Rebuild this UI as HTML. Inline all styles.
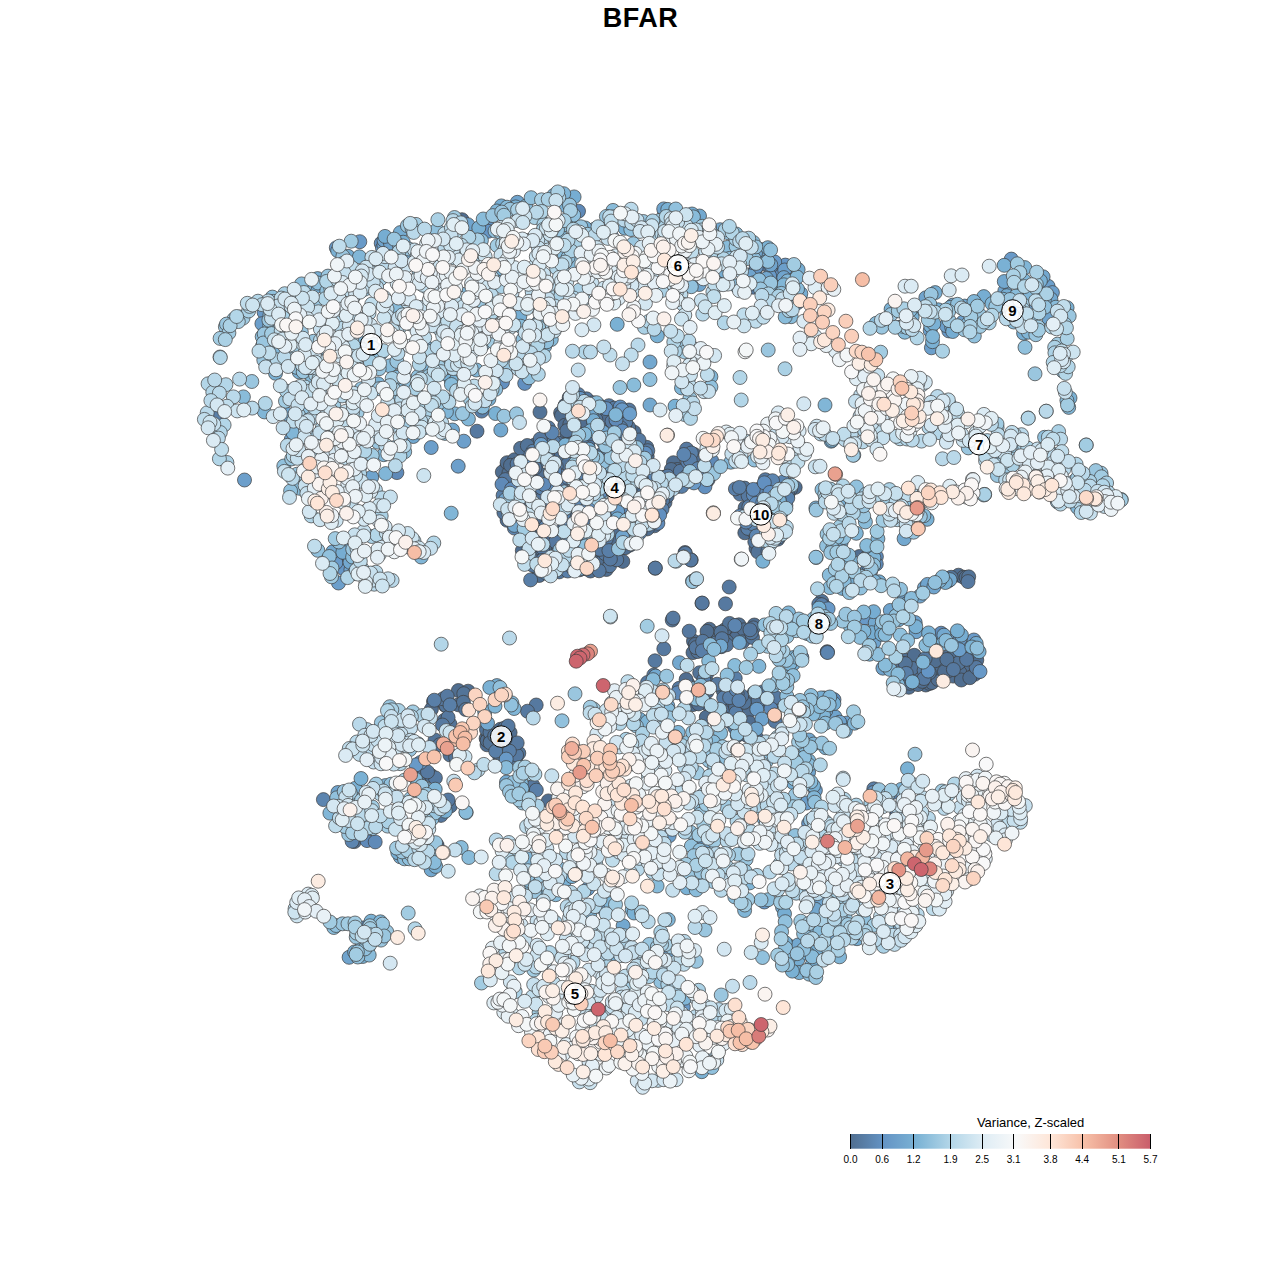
<!DOCTYPE html>
<html><head><meta charset="utf-8"><title>BFAR</title>
<style>
html,body{margin:0;padding:0;background:#fff}
body{width:1280px;height:1280px;overflow:hidden;font-family:"Liberation Sans",Arial,sans-serif}
svg{display:block}
text{font-family:"Liberation Sans",Arial,sans-serif;fill:#000}
</style></head><body>
<svg width="1280" height="1280" viewBox="0 0 1280 1280">
<defs><linearGradient id="lg" x1="0" x2="1" y1="0" y2="0"><stop offset="0.0000" stop-color="#506e90"/><stop offset="0.1111" stop-color="#6494c5"/><stop offset="0.2222" stop-color="#7bb3d5"/><stop offset="0.3333" stop-color="#b3d6e8"/><stop offset="0.4444" stop-color="#dfedf5"/><stop offset="0.5556" stop-color="#f9f9f9"/><stop offset="0.6667" stop-color="#fee6d8"/><stop offset="0.7778" stop-color="#f7c0a8"/><stop offset="0.8889" stop-color="#e29082"/><stop offset="1.0000" stop-color="#c95d6b"/></linearGradient></defs>
<rect width="1280" height="1280" fill="#fff"/>
<text x="640.5" y="26.7" text-anchor="middle" font-family="Liberation Sans, Arial, sans-serif" font-size="27" font-weight="bold" letter-spacing=".55">BFAR</text>
<g id="pts" stroke="#3c3c3c" stroke-width=".7"><g fill="#506e90"><circle cx="462.0" cy="219.7" r="7"/><circle cx="604.3" cy="461.5" r="7"/><circle cx="536.1" cy="558.1" r="7"/><circle cx="509.5" cy="757.2" r="7"/><circle cx="506.9" cy="466.4" r="7"/><circle cx="631.6" cy="458.8" r="7"/><circle cx="566.5" cy="554.9" r="7"/><circle cx="499.2" cy="751.4" r="7"/><circle cx="639.2" cy="508.7" r="7"/><circle cx="519.5" cy="499.5" r="7"/><circle cx="756.4" cy="737.5" r="7"/><circle cx="586.6" cy="438.3" r="7"/><circle cx="904.5" cy="659.8" r="7"/><circle cx="744.8" cy="638.9" r="7"/><circle cx="747.1" cy="735.6" r="7"/><circle cx="579.5" cy="490.8" r="7"/><circle cx="756.6" cy="706.6" r="7"/><circle cx="587.9" cy="445.3" r="7"/><circle cx="535.9" cy="566.9" r="7"/><circle cx="581.7" cy="425.0" r="7"/><circle cx="630.2" cy="442.5" r="7"/><circle cx="486.1" cy="738.4" r="7"/><circle cx="626.8" cy="501.2" r="7"/><circle cx="973.8" cy="666.6" r="7"/><circle cx="591.9" cy="454.6" r="7"/><circle cx="603.4" cy="492.6" r="7"/><circle cx="560.6" cy="412.9" r="7"/><circle cx="937.4" cy="659.9" r="7"/><circle cx="648.9" cy="485.5" r="7"/><circle cx="953.1" cy="676.1" r="7"/><circle cx="646.0" cy="511.4" r="7"/><circle cx="634.7" cy="455.2" r="7"/><circle cx="627.9" cy="468.9" r="7"/><circle cx="598.9" cy="456.5" r="7"/><circle cx="583.6" cy="562.3" r="7"/><circle cx="529.0" cy="498.6" r="7"/><circle cx="530.2" cy="504.9" r="7"/><circle cx="925.8" cy="685.0" r="7"/><circle cx="596.0" cy="499.4" r="7"/><circle cx="925.2" cy="666.4" r="7"/><circle cx="595.2" cy="468.1" r="7"/><circle cx="574.5" cy="424.0" r="7"/><circle cx="513.5" cy="748.6" r="7"/><circle cx="579.7" cy="460.6" r="7"/><circle cx="914.1" cy="659.7" r="7"/><circle cx="723.3" cy="691.1" r="7"/><circle cx="727.6" cy="632.8" r="7"/><circle cx="676.6" cy="478.6" r="7"/><circle cx="527.1" cy="494.2" r="7"/><circle cx="566.2" cy="560.6" r="7"/><circle cx="621.0" cy="502.6" r="7"/><circle cx="647.2" cy="482.7" r="7"/><circle cx="688.0" cy="683.8" r="7"/><circle cx="935.3" cy="672.9" r="7"/><circle cx="947.8" cy="671.1" r="7"/><circle cx="936.8" cy="676.2" r="7"/><circle cx="487.0" cy="744.8" r="7"/><circle cx="699.4" cy="479.4" r="7"/><circle cx="515.2" cy="477.1" r="7"/><circle cx="610.7" cy="504.4" r="7"/><circle cx="619.4" cy="548.9" r="7"/><circle cx="571.6" cy="441.2" r="7"/><circle cx="579.0" cy="406.2" r="7"/><circle cx="522.3" cy="550.7" r="7"/><circle cx="538.9" cy="473.3" r="7"/><circle cx="588.8" cy="420.3" r="7"/><circle cx="693.0" cy="704.6" r="7"/><circle cx="548.3" cy="800.9" r="7"/><circle cx="584.3" cy="497.3" r="7"/><circle cx="594.6" cy="553.5" r="7"/><circle cx="743.2" cy="711.8" r="7"/><circle cx="529.6" cy="488.1" r="7"/><circle cx="502.3" cy="472.0" r="7"/><circle cx="560.1" cy="507.4" r="7"/><circle cx="547.7" cy="432.5" r="7"/><circle cx="908.8" cy="687.3" r="7"/><circle cx="609.9" cy="432.8" r="7"/><circle cx="968.1" cy="669.1" r="7"/><circle cx="929.6" cy="683.5" r="7"/><circle cx="744.3" cy="491.6" r="7"/><circle cx="584.3" cy="461.1" r="7"/><circle cx="965.0" cy="676.0" r="7"/><circle cx="603.6" cy="433.7" r="7"/><circle cx="507.1" cy="462.7" r="7"/><circle cx="606.4" cy="455.1" r="7"/><circle cx="527.5" cy="481.8" r="7"/><circle cx="636.8" cy="526.1" r="7"/><circle cx="627.9" cy="485.5" r="7"/><circle cx="716.8" cy="722.2" r="7"/><circle cx="979.0" cy="671.5" r="7"/><circle cx="540.9" cy="530.3" r="7"/><circle cx="511.7" cy="753.8" r="7"/><circle cx="956.0" cy="669.3" r="7"/><circle cx="754.2" cy="517.6" r="7"/><circle cx="623.9" cy="468.8" r="7"/><circle cx="737.3" cy="735.4" r="7"/><circle cx="708.3" cy="634.7" r="7"/><circle cx="514.5" cy="459.7" r="7"/><circle cx="707.2" cy="704.1" r="7"/><circle cx="565.5" cy="520.6" r="7"/><circle cx="654.4" cy="485.2" r="7"/><circle cx="651.2" cy="483.6" r="7"/><circle cx="962.4" cy="677.6" r="7"/><circle cx="686.1" cy="679.5" r="7"/><circle cx="927.0" cy="668.5" r="7"/><circle cx="728.2" cy="628.2" r="7"/><circle cx="527.8" cy="502.9" r="7"/><circle cx="555.2" cy="561.4" r="7"/><circle cx="730.3" cy="688.7" r="7"/><circle cx="640.8" cy="526.3" r="7"/><circle cx="631.6" cy="470.0" r="7"/><circle cx="528.4" cy="467.4" r="7"/><circle cx="570.8" cy="446.7" r="7"/><circle cx="923.0" cy="660.7" r="7"/><circle cx="795.2" cy="487.4" r="7"/><circle cx="746.7" cy="636.6" r="7"/><circle cx="552.2" cy="523.7" r="7"/><circle cx="634.2" cy="513.9" r="7"/><circle cx="544.6" cy="447.4" r="7"/><circle cx="694.2" cy="454.4" r="7"/><circle cx="932.9" cy="677.1" r="7"/><circle cx="620.9" cy="443.5" r="7"/><circle cx="773.7" cy="529.2" r="7"/><circle cx="511.8" cy="520.7" r="7"/><circle cx="561.5" cy="415.6" r="7"/><circle cx="520.7" cy="503.5" r="7"/><circle cx="693.5" cy="641.2" r="7"/><circle cx="508.9" cy="473.0" r="7"/><circle cx="597.5" cy="523.4" r="7"/><circle cx="654.5" cy="525.8" r="7"/><circle cx="598.6" cy="538.7" r="7"/><circle cx="709.0" cy="637.5" r="7"/><circle cx="738.9" cy="624.8" r="7"/><circle cx="629.7" cy="545.2" r="7"/><circle cx="709.3" cy="629.2" r="7"/><circle cx="706.9" cy="691.9" r="7"/><circle cx="939.9" cy="661.8" r="7"/><circle cx="628.9" cy="523.0" r="7"/><circle cx="586.9" cy="416.7" r="7"/><circle cx="551.1" cy="543.7" r="7"/><circle cx="648.9" cy="494.6" r="7"/><circle cx="488.0" cy="734.0" r="7"/><circle cx="565.1" cy="405.3" r="7"/><circle cx="616.5" cy="530.1" r="7"/><circle cx="593.0" cy="527.7" r="7"/><circle cx="569.2" cy="513.9" r="7"/><circle cx="575.5" cy="441.0" r="7"/><circle cx="651.7" cy="474.4" r="7"/><circle cx="932.0" cy="682.6" r="7"/><circle cx="909.2" cy="669.4" r="7"/><circle cx="553.2" cy="451.3" r="7"/><circle cx="759.2" cy="545.6" r="7"/><circle cx="593.2" cy="464.3" r="7"/><circle cx="730.2" cy="708.1" r="7"/><circle cx="644.5" cy="483.9" r="7"/><circle cx="659.0" cy="487.8" r="7"/><circle cx="937.9" cy="679.4" r="7"/><circle cx="782.4" cy="532.7" r="7"/><circle cx="610.7" cy="435.6" r="7"/><circle cx="499.6" cy="756.1" r="7"/><circle cx="917.0" cy="669.0" r="7"/><circle cx="706.3" cy="717.2" r="7"/><circle cx="744.8" cy="532.8" r="7"/><circle cx="587.9" cy="533.1" r="7"/><circle cx="738.8" cy="630.1" r="7"/><circle cx="665.0" cy="502.6" r="7"/><circle cx="534.8" cy="445.0" r="7"/><circle cx="693.0" cy="652.6" r="7"/><circle cx="606.4" cy="569.5" r="7"/><circle cx="545.4" cy="558.3" r="7"/><circle cx="543.9" cy="536.8" r="7"/><circle cx="976.8" cy="660.1" r="7"/><circle cx="733.7" cy="636.3" r="7"/><circle cx="747.1" cy="713.7" r="7"/><circle cx="582.3" cy="552.5" r="7"/><circle cx="550.5" cy="457.9" r="7"/><circle cx="606.3" cy="414.9" r="7"/><circle cx="745.1" cy="507.8" r="7"/><circle cx="690.4" cy="469.9" r="7"/><circle cx="963.8" cy="665.2" r="7"/><circle cx="570.6" cy="437.6" r="7"/><circle cx="525.7" cy="461.6" r="7"/><circle cx="603.4" cy="484.6" r="7"/><circle cx="652.6" cy="496.2" r="7"/><circle cx="625.3" cy="547.7" r="7"/><circle cx="859.4" cy="556.5" r="7"/><circle cx="735.6" cy="628.3" r="7"/><circle cx="660.4" cy="477.4" r="7"/><circle cx="955.7" cy="659.8" r="7"/><circle cx="608.9" cy="519.2" r="7"/><circle cx="539.2" cy="575.5" r="7"/><circle cx="598.3" cy="436.0" r="7"/><circle cx="578.8" cy="417.6" r="7"/><circle cx="637.1" cy="484.0" r="7"/><circle cx="686.3" cy="698.8" r="7"/><circle cx="608.0" cy="423.5" r="7"/><circle cx="604.0" cy="420.2" r="7"/><circle cx="753.9" cy="693.1" r="7"/><circle cx="577.0" cy="432.9" r="7"/><circle cx="964.8" cy="671.1" r="7"/><circle cx="583.6" cy="527.1" r="7"/><circle cx="542.2" cy="511.9" r="7"/><circle cx="756.0" cy="548.5" r="7"/><circle cx="914.3" cy="655.3" r="7"/><circle cx="549.5" cy="534.4" r="7"/><circle cx="695.4" cy="644.4" r="7"/><circle cx="952.6" cy="667.0" r="7"/><circle cx="607.9" cy="543.8" r="7"/><circle cx="644.5" cy="519.3" r="7"/><circle cx="699.8" cy="461.3" r="7"/><circle cx="784.9" cy="490.3" r="7"/><circle cx="512.5" cy="484.9" r="7"/><circle cx="551.3" cy="439.0" r="7"/><circle cx="590.4" cy="571.0" r="7"/><circle cx="657.4" cy="480.6" r="7"/><circle cx="551.4" cy="445.9" r="7"/><circle cx="615.6" cy="465.6" r="7"/><circle cx="580.9" cy="507.6" r="7"/><circle cx="790.5" cy="489.3" r="7"/><circle cx="508.8" cy="486.3" r="7"/><circle cx="698.6" cy="703.9" r="7"/><circle cx="636.7" cy="505.8" r="7"/><circle cx="615.3" cy="423.9" r="7"/><circle cx="606.5" cy="433.0" r="7"/><circle cx="706.8" cy="673.5" r="7"/><circle cx="604.9" cy="430.5" r="7"/><circle cx="667.2" cy="496.1" r="7"/><circle cx="542.6" cy="520.8" r="7"/><circle cx="561.3" cy="453.8" r="7"/><circle cx="487.1" cy="740.5" r="7"/><circle cx="787.4" cy="487.3" r="7"/><circle cx="613.9" cy="543.0" r="7"/><circle cx="525.6" cy="529.5" r="7"/><circle cx="749.5" cy="722.7" r="7"/><circle cx="558.4" cy="549.6" r="7"/><circle cx="647.2" cy="456.4" r="7"/><circle cx="760.5" cy="549.8" r="7"/><circle cx="526.3" cy="465.0" r="7"/><circle cx="730.6" cy="639.5" r="7"/><circle cx="673.4" cy="462.7" r="7"/><circle cx="732.8" cy="701.7" r="7"/><circle cx="645.5" cy="488.1" r="7"/><circle cx="622.8" cy="561.4" r="7"/><circle cx="511.2" cy="492.5" r="7"/><circle cx="948.1" cy="656.7" r="7"/><circle cx="633.6" cy="488.3" r="7"/><circle cx="960.0" cy="672.7" r="7"/><circle cx="724.4" cy="630.1" r="7"/><circle cx="692.7" cy="480.3" r="7"/><circle cx="510.5" cy="465.3" r="7"/><circle cx="615.1" cy="500.8" r="7"/><circle cx="591.3" cy="414.0" r="7"/><circle cx="538.3" cy="508.9" r="7"/><circle cx="586.1" cy="457.6" r="7"/><circle cx="928.9" cy="660.5" r="7"/><circle cx="579.5" cy="551.0" r="7"/><circle cx="562.2" cy="443.6" r="7"/><circle cx="593.0" cy="429.1" r="7"/><circle cx="602.0" cy="454.1" r="7"/><circle cx="759.0" cy="696.2" r="7"/><circle cx="763.0" cy="703.0" r="7"/><circle cx="564.8" cy="425.3" r="7"/><circle cx="593.8" cy="486.1" r="7"/><circle cx="735.5" cy="707.0" r="7"/><circle cx="501.5" cy="748.3" r="7"/><circle cx="635.9" cy="477.7" r="7"/><circle cx="918.0" cy="684.6" r="7"/><circle cx="500.9" cy="759.1" r="7"/><circle cx="531.2" cy="493.9" r="7"/><circle cx="943.3" cy="662.8" r="7"/><circle cx="566.7" cy="434.3" r="7"/><circle cx="572.3" cy="427.5" r="7"/><circle cx="527.9" cy="543.5" r="7"/><circle cx="653.7" cy="519.9" r="7"/><circle cx="633.2" cy="525.3" r="7"/><circle cx="507.7" cy="737.3" r="7"/><circle cx="708.1" cy="479.7" r="7"/><circle cx="722.2" cy="717.0" r="7"/><circle cx="754.3" cy="625.0" r="7"/><circle cx="584.8" cy="523.6" r="7"/><circle cx="578.3" cy="558.3" r="7"/><circle cx="633.6" cy="504.0" r="7"/><circle cx="590.9" cy="438.0" r="7"/><circle cx="781.5" cy="512.1" r="7"/><circle cx="961.3" cy="680.0" r="7"/><circle cx="633.4" cy="472.4" r="7"/><circle cx="717.7" cy="633.4" r="7"/><circle cx="602.6" cy="561.1" r="7"/><circle cx="621.1" cy="433.5" r="7"/><circle cx="548.7" cy="516.8" r="7"/><circle cx="565.5" cy="459.9" r="7"/><circle cx="573.6" cy="516.3" r="7"/><circle cx="677.1" cy="486.6" r="7"/><circle cx="574.3" cy="445.9" r="7"/><circle cx="904.6" cy="668.8" r="7"/><circle cx="637.6" cy="522.0" r="7"/><circle cx="507.1" cy="520.3" r="7"/><circle cx="623.6" cy="515.8" r="7"/><circle cx="637.2" cy="447.9" r="7"/><circle cx="707.2" cy="459.5" r="7"/><circle cx="961.5" cy="654.0" r="7"/><circle cx="506.3" cy="756.0" r="7"/><circle cx="929.2" cy="667.1" r="7"/><circle cx="736.5" cy="637.4" r="7"/><circle cx="922.3" cy="681.4" r="7"/><circle cx="721.0" cy="641.3" r="7"/><circle cx="594.3" cy="471.7" r="7"/><circle cx="687.1" cy="455.6" r="7"/><circle cx="541.6" cy="526.9" r="7"/><circle cx="520.8" cy="466.9" r="7"/><circle cx="534.5" cy="515.1" r="7"/><circle cx="744.1" cy="629.8" r="7"/><circle cx="974.7" cy="674.3" r="7"/><circle cx="526.5" cy="516.3" r="7"/><circle cx="569.8" cy="424.3" r="7"/><circle cx="576.1" cy="563.1" r="7"/><circle cx="866.1" cy="580.4" r="7"/><circle cx="636.7" cy="490.3" r="7"/><circle cx="574.3" cy="509.6" r="7"/><circle cx="933.2" cy="668.8" r="7"/><circle cx="677.3" cy="469.5" r="7"/><circle cx="969.8" cy="677.7" r="7"/><circle cx="742.6" cy="728.5" r="7"/><circle cx="643.2" cy="493.8" r="7"/><circle cx="944.5" cy="671.5" r="7"/><circle cx="629.6" cy="508.5" r="7"/><circle cx="955.9" cy="663.8" r="7"/><circle cx="918.5" cy="674.5" r="7"/><circle cx="632.6" cy="533.2" r="7"/><circle cx="707.0" cy="631.4" r="7"/><circle cx="586.3" cy="422.5" r="7"/><circle cx="777.4" cy="497.5" r="7"/><circle cx="671.3" cy="469.5" r="7"/><circle cx="774.2" cy="499.4" r="7"/><circle cx="615.4" cy="453.5" r="7"/><circle cx="626.9" cy="449.4" r="7"/><circle cx="523.9" cy="494.1" r="7"/><circle cx="515.5" cy="518.8" r="7"/><circle cx="647.4" cy="528.9" r="7"/><circle cx="909.8" cy="683.3" r="7"/><circle cx="634.1" cy="432.2" r="7"/><circle cx="510.1" cy="732.6" r="7"/><circle cx="543.0" cy="441.4" r="7"/><circle cx="535.5" cy="518.0" r="7"/><circle cx="523.0" cy="490.3" r="7"/><circle cx="498.7" cy="745.6" r="7"/><circle cx="515.6" cy="513.7" r="7"/><circle cx="742.6" cy="641.8" r="7"/><circle cx="500.5" cy="729.2" r="7"/><circle cx="497.1" cy="748.3" r="7"/><circle cx="935.0" cy="660.8" r="7"/><circle cx="631.3" cy="497.8" r="7"/><circle cx="614.9" cy="550.9" r="7"/><circle cx="954.5" cy="654.4" r="7"/><circle cx="640.7" cy="506.4" r="7"/><circle cx="433.5" cy="701.6" r="7"/><circle cx="458.4" cy="690.5" r="7"/><circle cx="468.1" cy="691.2" r="7"/><circle cx="431.4" cy="709.3" r="7"/><circle cx="458.4" cy="704.8" r="7"/><circle cx="947.8" cy="581.2" r="7"/><circle cx="958.5" cy="575.2" r="7"/><circle cx="963.5" cy="577.2" r="7"/><circle cx="966.1" cy="577.4" r="7"/><circle cx="354.4" cy="841.6" r="7"/><circle cx="424.4" cy="849.7" r="7"/><circle cx="437.1" cy="845.2" r="7"/></g><g fill="#537498"><circle cx="776.6" cy="282.8" r="7"/><circle cx="762.5" cy="263.9" r="7"/><circle cx="540.0" cy="412.0" r="7"/><circle cx="537.4" cy="491.1" r="7"/><circle cx="490.8" cy="739.9" r="7"/><circle cx="486.5" cy="729.5" r="7"/><circle cx="781.7" cy="523.7" r="7"/><circle cx="912.0" cy="668.3" r="7"/><circle cx="533.9" cy="549.0" r="7"/><circle cx="537.0" cy="462.9" r="7"/><circle cx="704.0" cy="465.7" r="7"/><circle cx="559.2" cy="571.9" r="7"/><circle cx="534.5" cy="490.4" r="7"/><circle cx="578.5" cy="481.3" r="7"/><circle cx="757.9" cy="701.1" r="7"/><circle cx="712.4" cy="471.8" r="7"/><circle cx="679.1" cy="477.9" r="7"/><circle cx="781.9" cy="502.3" r="7"/><circle cx="586.8" cy="453.5" r="7"/><circle cx="900.5" cy="673.8" r="7"/><circle cx="517.8" cy="506.9" r="7"/><circle cx="777.8" cy="539.2" r="7"/><circle cx="527.4" cy="558.5" r="7"/><circle cx="787.8" cy="494.9" r="7"/><circle cx="621.9" cy="478.6" r="7"/><circle cx="697.8" cy="651.5" r="7"/><circle cx="870.5" cy="571.7" r="7"/><circle cx="550.6" cy="563.9" r="7"/><circle cx="561.4" cy="494.6" r="7"/><circle cx="504.7" cy="728.0" r="7"/><circle cx="533.1" cy="462.2" r="7"/><circle cx="615.6" cy="493.1" r="7"/><circle cx="556.0" cy="533.5" r="7"/><circle cx="632.8" cy="448.2" r="7"/><circle cx="789.9" cy="484.6" r="7"/><circle cx="566.7" cy="443.9" r="7"/><circle cx="774.2" cy="701.8" r="7"/><circle cx="958.8" cy="662.8" r="7"/><circle cx="645.9" cy="499.7" r="7"/><circle cx="721.3" cy="646.7" r="7"/><circle cx="762.6" cy="691.9" r="7"/><circle cx="568.1" cy="454.3" r="7"/><circle cx="761.7" cy="510.2" r="7"/><circle cx="535.1" cy="467.8" r="7"/><circle cx="490.0" cy="732.5" r="7"/><circle cx="490.1" cy="742.7" r="7"/><circle cx="604.3" cy="514.9" r="7"/><circle cx="518.8" cy="753.2" r="7"/><circle cx="601.5" cy="437.9" r="7"/><circle cx="764.2" cy="553.1" r="7"/><circle cx="585.9" cy="568.8" r="7"/><circle cx="518.9" cy="485.8" r="7"/><circle cx="586.1" cy="449.9" r="7"/><circle cx="572.3" cy="406.7" r="7"/><circle cx="744.6" cy="488.1" r="7"/><circle cx="503.9" cy="512.7" r="7"/><circle cx="540.5" cy="449.1" r="7"/><circle cx="571.6" cy="524.3" r="7"/><circle cx="709.0" cy="684.5" r="7"/><circle cx="592.5" cy="565.2" r="7"/><circle cx="621.2" cy="458.6" r="7"/><circle cx="754.8" cy="541.8" r="7"/><circle cx="614.3" cy="512.7" r="7"/><circle cx="902.6" cy="663.2" r="7"/><circle cx="494.7" cy="735.7" r="7"/><circle cx="525.6" cy="458.3" r="7"/><circle cx="589.5" cy="559.1" r="7"/><circle cx="547.1" cy="450.0" r="7"/><circle cx="946.9" cy="659.5" r="7"/><circle cx="782.6" cy="496.7" r="7"/><circle cx="520.6" cy="448.3" r="7"/><circle cx="766.0" cy="488.9" r="7"/><circle cx="531.2" cy="546.7" r="7"/><circle cx="628.4" cy="411.0" r="7"/><circle cx="729.5" cy="623.4" r="7"/><circle cx="765.9" cy="548.9" r="7"/><circle cx="520.6" cy="526.6" r="7"/><circle cx="752.5" cy="637.5" r="7"/><circle cx="506.9" cy="750.6" r="7"/><circle cx="755.6" cy="514.3" r="7"/><circle cx="628.6" cy="427.3" r="7"/><circle cx="729.4" cy="721.3" r="7"/><circle cx="569.2" cy="397.5" r="7"/><circle cx="753.1" cy="531.2" r="7"/><circle cx="601.9" cy="468.5" r="7"/><circle cx="744.3" cy="702.3" r="7"/><circle cx="548.8" cy="492.0" r="7"/><circle cx="566.8" cy="430.7" r="7"/><circle cx="593.5" cy="421.1" r="7"/><circle cx="567.7" cy="464.2" r="7"/><circle cx="539.3" cy="495.6" r="7"/><circle cx="558.0" cy="443.1" r="7"/><circle cx="579.6" cy="569.8" r="7"/><circle cx="635.8" cy="461.3" r="7"/><circle cx="654.8" cy="498.0" r="7"/><circle cx="929.4" cy="672.7" r="7"/><circle cx="741.7" cy="695.9" r="7"/><circle cx="646.7" cy="447.3" r="7"/><circle cx="726.5" cy="641.2" r="7"/><circle cx="539.8" cy="500.3" r="7"/><circle cx="734.8" cy="727.6" r="7"/><circle cx="706.5" cy="650.8" r="7"/><circle cx="595.9" cy="419.4" r="7"/><circle cx="527.3" cy="445.5" r="7"/><circle cx="726.6" cy="644.8" r="7"/><circle cx="645.2" cy="479.8" r="7"/><circle cx="721.1" cy="632.2" r="7"/><circle cx="597.5" cy="465.5" r="7"/><circle cx="623.6" cy="492.3" r="7"/><circle cx="654.4" cy="516.7" r="7"/><circle cx="757.9" cy="551.9" r="7"/><circle cx="699.7" cy="672.7" r="7"/><circle cx="905.3" cy="663.6" r="7"/><circle cx="463.8" cy="693.7" r="7"/><circle cx="445.2" cy="705.4" r="7"/><circle cx="446.0" cy="705.6" r="7"/><circle cx="463.4" cy="702.3" r="7"/><circle cx="465.7" cy="709.5" r="7"/><circle cx="444.4" cy="720.3" r="7"/><circle cx="450.0" cy="724.1" r="7"/><circle cx="435.0" cy="740.0" r="7"/><circle cx="439.7" cy="744.7" r="7"/><circle cx="450.0" cy="755.0" r="7"/><circle cx="455.6" cy="757.2" r="7"/><circle cx="423.8" cy="773.8" r="7"/><circle cx="431.2" cy="775.6" r="7"/><circle cx="450.4" cy="806.0" r="7"/><circle cx="436.9" cy="813.1" r="7"/><circle cx="948.6" cy="578.1" r="7"/><circle cx="951.2" cy="577.3" r="7"/><circle cx="968.7" cy="576.8" r="7"/><circle cx="821.6" cy="601.2" r="7"/></g><g fill="#5679a0"><circle cx="753.3" cy="287.2" r="7"/><circle cx="477.0" cy="431.2" r="7"/><circle cx="629.0" cy="410.0" r="7"/><circle cx="685.0" cy="552.5" r="7"/><circle cx="691.2" cy="560.0" r="7"/><circle cx="655.2" cy="568.2" r="7"/><circle cx="729.2" cy="587.0" r="7"/><circle cx="702.0" cy="603.2" r="7"/><circle cx="725.5" cy="603.8" r="7"/><circle cx="672.2" cy="620.0" r="7"/><circle cx="689.2" cy="631.2" r="7"/><circle cx="663.8" cy="648.8" r="7"/><circle cx="655.0" cy="660.8" r="7"/><circle cx="653.8" cy="675.0" r="7"/><circle cx="647.5" cy="682.5" r="7"/><circle cx="653.8" cy="697.5" r="7"/><circle cx="536.2" cy="705.0" r="7"/><circle cx="527.5" cy="711.2" r="7"/><circle cx="827.2" cy="651.9" r="7"/><circle cx="775.6" cy="697.5" r="7"/><circle cx="655.3" cy="568.1" r="7"/><circle cx="685.3" cy="553.4" r="7"/><circle cx="690.9" cy="560.0" r="7"/><circle cx="702.2" cy="603.1" r="7"/><circle cx="673.1" cy="618.1" r="7"/><circle cx="772.4" cy="514.7" r="7"/><circle cx="767.7" cy="542.1" r="7"/><circle cx="690.5" cy="474.5" r="7"/><circle cx="517.1" cy="463.9" r="7"/><circle cx="647.8" cy="450.7" r="7"/><circle cx="561.9" cy="547.7" r="7"/><circle cx="568.4" cy="407.6" r="7"/><circle cx="588.8" cy="490.3" r="7"/><circle cx="664.2" cy="477.3" r="7"/><circle cx="603.7" cy="526.6" r="7"/><circle cx="658.7" cy="499.9" r="7"/><circle cx="705.7" cy="482.4" r="7"/><circle cx="577.0" cy="538.6" r="7"/><circle cx="624.4" cy="511.8" r="7"/><circle cx="779.3" cy="530.9" r="7"/><circle cx="767.9" cy="551.2" r="7"/><circle cx="696.5" cy="478.1" r="7"/><circle cx="679.2" cy="688.3" r="7"/><circle cx="548.4" cy="427.8" r="7"/><circle cx="623.3" cy="463.4" r="7"/><circle cx="627.0" cy="433.6" r="7"/><circle cx="925.1" cy="658.7" r="7"/><circle cx="757.7" cy="520.2" r="7"/><circle cx="740.2" cy="494.1" r="7"/><circle cx="753.3" cy="627.9" r="7"/><circle cx="976.2" cy="667.5" r="7"/><circle cx="608.9" cy="405.7" r="7"/><circle cx="696.1" cy="647.6" r="7"/><circle cx="567.3" cy="516.1" r="7"/><circle cx="639.0" cy="440.0" r="7"/><circle cx="764.3" cy="495.6" r="7"/><circle cx="667.7" cy="486.3" r="7"/><circle cx="643.9" cy="505.4" r="7"/><circle cx="609.6" cy="565.7" r="7"/><circle cx="586.5" cy="398.8" r="7"/><circle cx="642.7" cy="470.9" r="7"/><circle cx="662.7" cy="499.7" r="7"/><circle cx="574.2" cy="534.9" r="7"/><circle cx="542.8" cy="548.2" r="7"/><circle cx="644.5" cy="458.9" r="7"/><circle cx="773.2" cy="496.6" r="7"/><circle cx="561.8" cy="483.0" r="7"/><circle cx="612.0" cy="421.4" r="7"/><circle cx="609.1" cy="451.9" r="7"/><circle cx="649.4" cy="505.4" r="7"/><circle cx="686.2" cy="470.2" r="7"/><circle cx="505.4" cy="479.6" r="7"/><circle cx="581.2" cy="470.3" r="7"/><circle cx="776.4" cy="513.8" r="7"/><circle cx="556.2" cy="529.5" r="7"/><circle cx="580.7" cy="522.6" r="7"/><circle cx="533.0" cy="565.4" r="7"/><circle cx="599.1" cy="570.8" r="7"/><circle cx="717.1" cy="684.2" r="7"/><circle cx="953.4" cy="669.5" r="7"/><circle cx="775.2" cy="721.4" r="7"/><circle cx="515.8" cy="758.3" r="7"/><circle cx="765.4" cy="524.9" r="7"/><circle cx="710.9" cy="648.9" r="7"/><circle cx="516.6" cy="755.0" r="7"/><circle cx="751.3" cy="632.7" r="7"/><circle cx="657.3" cy="512.2" r="7"/><circle cx="750.0" cy="629.8" r="7"/><circle cx="593.9" cy="479.8" r="7"/><circle cx="551.5" cy="483.0" r="7"/><circle cx="708.4" cy="646.5" r="7"/><circle cx="508.1" cy="726.0" r="7"/><circle cx="543.0" cy="571.1" r="7"/><circle cx="667.6" cy="476.1" r="7"/><circle cx="924.1" cy="670.4" r="7"/><circle cx="737.2" cy="693.6" r="7"/><circle cx="966.9" cy="656.8" r="7"/><circle cx="702.7" cy="641.3" r="7"/><circle cx="715.9" cy="643.0" r="7"/><circle cx="614.3" cy="408.1" r="7"/><circle cx="616.7" cy="559.8" r="7"/><circle cx="540.2" cy="439.0" r="7"/><circle cx="765.3" cy="479.7" r="7"/><circle cx="555.6" cy="541.9" r="7"/><circle cx="517.2" cy="742.9" r="7"/><circle cx="754.8" cy="500.2" r="7"/><circle cx="606.2" cy="538.9" r="7"/><circle cx="645.8" cy="470.8" r="7"/><circle cx="533.2" cy="786.0" r="7"/><circle cx="722.0" cy="638.7" r="7"/><circle cx="680.4" cy="471.2" r="7"/><circle cx="624.7" cy="425.4" r="7"/><circle cx="598.5" cy="526.5" r="7"/><circle cx="522.5" cy="469.2" r="7"/><circle cx="966.6" cy="659.4" r="7"/><circle cx="605.2" cy="553.7" r="7"/><circle cx="650.8" cy="470.3" r="7"/><circle cx="599.8" cy="549.4" r="7"/><circle cx="924.0" cy="678.5" r="7"/><circle cx="686.6" cy="449.1" r="7"/><circle cx="598.8" cy="480.3" r="7"/><circle cx="610.4" cy="559.0" r="7"/><circle cx="541.8" cy="560.5" r="7"/><circle cx="748.1" cy="495.6" r="7"/><circle cx="687.8" cy="481.3" r="7"/><circle cx="706.7" cy="465.2" r="7"/><circle cx="443.1" cy="698.8" r="7"/><circle cx="447.2" cy="696.2" r="7"/><circle cx="448.1" cy="717.5" r="7"/><circle cx="442.5" cy="725.0" r="7"/><circle cx="435.4" cy="777.9" r="7"/><circle cx="427.5" cy="771.9" r="7"/><circle cx="448.1" cy="800.0" r="7"/><circle cx="441.0" cy="815.4" r="7"/><circle cx="968.0" cy="581.6" r="7"/><circle cx="818.8" cy="604.1" r="7"/><circle cx="824.4" cy="606.5" r="7"/></g><g fill="#597fa8"><circle cx="938.2" cy="638.4" r="7"/><circle cx="481.7" cy="411.1" r="7"/><circle cx="754.8" cy="271.4" r="7"/><circle cx="215.6" cy="415.6" r="7"/><circle cx="821.6" cy="604.7" r="7"/><circle cx="827.2" cy="651.9" r="7"/><circle cx="873.8" cy="788.8" r="7"/><circle cx="892.5" cy="792.5" r="7"/><circle cx="896.7" cy="813.4" r="7"/><circle cx="585.5" cy="514.0" r="7"/><circle cx="515.3" cy="504.1" r="7"/><circle cx="581.7" cy="444.2" r="7"/><circle cx="530.6" cy="579.9" r="7"/><circle cx="509.4" cy="751.1" r="7"/><circle cx="604.1" cy="498.7" r="7"/><circle cx="574.8" cy="553.1" r="7"/><circle cx="672.7" cy="481.5" r="7"/><circle cx="553.9" cy="442.3" r="7"/><circle cx="701.6" cy="482.5" r="7"/><circle cx="870.9" cy="555.4" r="7"/><circle cx="702.4" cy="650.8" r="7"/><circle cx="681.7" cy="486.4" r="7"/><circle cx="723.7" cy="697.7" r="7"/><circle cx="735.2" cy="678.2" r="7"/><circle cx="616.8" cy="421.2" r="7"/><circle cx="625.8" cy="421.9" r="7"/><circle cx="590.8" cy="494.8" r="7"/><circle cx="608.9" cy="550.6" r="7"/><circle cx="541.7" cy="488.0" r="7"/><circle cx="556.2" cy="466.2" r="7"/><circle cx="539.2" cy="565.6" r="7"/><circle cx="691.3" cy="453.0" r="7"/><circle cx="703.8" cy="679.6" r="7"/><circle cx="583.3" cy="403.1" r="7"/><circle cx="772.8" cy="519.8" r="7"/><circle cx="591.2" cy="433.4" r="7"/><circle cx="687.7" cy="461.7" r="7"/><circle cx="568.6" cy="548.8" r="7"/><circle cx="748.9" cy="506.7" r="7"/><circle cx="690.2" cy="460.5" r="7"/><circle cx="622.7" cy="524.1" r="7"/><circle cx="570.0" cy="502.8" r="7"/><circle cx="729.6" cy="697.6" r="7"/><circle cx="864.2" cy="577.5" r="7"/><circle cx="536.3" cy="790.1" r="7"/><circle cx="620.8" cy="427.8" r="7"/><circle cx="532.1" cy="468.2" r="7"/><circle cx="578.2" cy="394.4" r="7"/><circle cx="735.4" cy="488.9" r="7"/><circle cx="616.8" cy="434.7" r="7"/><circle cx="774.1" cy="516.5" r="7"/><circle cx="559.5" cy="475.6" r="7"/><circle cx="520.0" cy="530.3" r="7"/><circle cx="583.6" cy="484.1" r="7"/><circle cx="587.3" cy="503.0" r="7"/><circle cx="768.1" cy="523.0" r="7"/><circle cx="588.4" cy="472.1" r="7"/><circle cx="715.4" cy="648.1" r="7"/><circle cx="589.9" cy="474.6" r="7"/><circle cx="735.9" cy="712.8" r="7"/><circle cx="503.1" cy="495.4" r="7"/><circle cx="577.5" cy="502.2" r="7"/><circle cx="906.3" cy="673.4" r="7"/><circle cx="593.0" cy="502.1" r="7"/><circle cx="586.9" cy="466.9" r="7"/><circle cx="773.8" cy="511.8" r="7"/><circle cx="739.4" cy="487.4" r="7"/><circle cx="567.7" cy="571.0" r="7"/><circle cx="866.1" cy="558.0" r="7"/><circle cx="592.8" cy="522.2" r="7"/><circle cx="747.8" cy="528.4" r="7"/><circle cx="593.1" cy="402.8" r="7"/><circle cx="505.1" cy="739.2" r="7"/><circle cx="569.7" cy="553.6" r="7"/><circle cx="550.7" cy="572.5" r="7"/><circle cx="505.6" cy="501.6" r="7"/><circle cx="495.7" cy="751.2" r="7"/><circle cx="621.5" cy="518.0" r="7"/><circle cx="599.2" cy="405.5" r="7"/><circle cx="662.0" cy="509.1" r="7"/><circle cx="625.8" cy="477.7" r="7"/><circle cx="434.3" cy="700.2" r="7"/><circle cx="450.0" cy="704.9" r="7"/></g><g fill="#5c85b0"><circle cx="734.9" cy="625.5" r="7"/><circle cx="797.3" cy="302.8" r="7"/><circle cx="785.2" cy="274.0" r="7"/><circle cx="801.9" cy="657.5" r="7"/><circle cx="827.5" cy="652.5" r="7"/><circle cx="758.6" cy="524.4" r="7"/><circle cx="630.2" cy="517.6" r="7"/><circle cx="606.0" cy="442.1" r="7"/><circle cx="567.3" cy="477.4" r="7"/><circle cx="783.2" cy="481.9" r="7"/><circle cx="736.2" cy="689.7" r="7"/><circle cx="772.3" cy="531.4" r="7"/><circle cx="563.7" cy="513.8" r="7"/><circle cx="572.1" cy="567.1" r="7"/><circle cx="555.2" cy="477.6" r="7"/><circle cx="545.6" cy="527.0" r="7"/><circle cx="779.0" cy="536.8" r="7"/><circle cx="697.8" cy="468.7" r="7"/><circle cx="582.3" cy="478.4" r="7"/><circle cx="763.1" cy="516.0" r="7"/><circle cx="562.0" cy="524.5" r="7"/><circle cx="577.8" cy="478.4" r="7"/><circle cx="759.6" cy="500.8" r="7"/><circle cx="665.3" cy="488.3" r="7"/><circle cx="654.8" cy="475.5" r="7"/><circle cx="567.8" cy="532.7" r="7"/><circle cx="550.6" cy="507.5" r="7"/><circle cx="785.9" cy="505.4" r="7"/><circle cx="867.0" cy="570.3" r="7"/><circle cx="772.5" cy="480.7" r="7"/><circle cx="560.0" cy="515.4" r="7"/><circle cx="752.2" cy="523.6" r="7"/><circle cx="600.9" cy="508.8" r="7"/><circle cx="570.9" cy="506.0" r="7"/><circle cx="531.5" cy="543.3" r="7"/><circle cx="572.0" cy="472.8" r="7"/><circle cx="555.0" cy="494.8" r="7"/><circle cx="869.3" cy="552.3" r="7"/><circle cx="772.5" cy="523.2" r="7"/><circle cx="758.9" cy="489.3" r="7"/><circle cx="590.6" cy="537.1" r="7"/><circle cx="683.8" cy="454.5" r="7"/><circle cx="640.0" cy="532.6" r="7"/><circle cx="630.1" cy="466.4" r="7"/><circle cx="765.3" cy="527.3" r="7"/><circle cx="712.6" cy="466.2" r="7"/><circle cx="615.9" cy="505.0" r="7"/><circle cx="514.4" cy="528.1" r="7"/><circle cx="756.4" cy="535.9" r="7"/><circle cx="554.7" cy="470.8" r="7"/><circle cx="777.5" cy="501.7" r="7"/><circle cx="774.9" cy="503.5" r="7"/><circle cx="576.9" cy="499.4" r="7"/><circle cx="619.4" cy="411.9" r="7"/><circle cx="739.0" cy="700.5" r="7"/><circle cx="532.9" cy="451.3" r="7"/><circle cx="746.1" cy="522.1" r="7"/><circle cx="569.1" cy="401.0" r="7"/><circle cx="552.0" cy="432.7" r="7"/><circle cx="787.8" cy="498.1" r="7"/><circle cx="580.6" cy="541.4" r="7"/><circle cx="352.1" cy="841.3" r="7"/><circle cx="428.1" cy="851.0" r="7"/><circle cx="323.4" cy="799.6" r="7"/></g><g fill="#5f8ab8"><circle cx="749.6" cy="256.7" r="7"/><circle cx="834.0" cy="699.6" r="7"/><circle cx="339.1" cy="558.3" r="7"/><circle cx="616.0" cy="419.8" r="7"/><circle cx="789.1" cy="945.9" r="7"/><circle cx="347.3" cy="568.0" r="7"/><circle cx="773.0" cy="272.5" r="7"/><circle cx="578.5" cy="211.2" r="7"/><circle cx="364.5" cy="927.7" r="7"/><circle cx="826.3" cy="934.7" r="7"/><circle cx="941.1" cy="633.2" r="7"/><circle cx="396.9" cy="472.6" r="7"/><circle cx="897.5" cy="813.8" r="7"/><circle cx="576.0" cy="409.7" r="7"/><circle cx="614.3" cy="517.1" r="7"/><circle cx="876.4" cy="556.6" r="7"/><circle cx="601.2" cy="497.5" r="7"/><circle cx="561.7" cy="550.6" r="7"/><circle cx="657.9" cy="523.2" r="7"/><circle cx="711.6" cy="460.5" r="7"/><circle cx="753.4" cy="494.8" r="7"/><circle cx="764.6" cy="538.1" r="7"/><circle cx="530.9" cy="454.5" r="7"/><circle cx="774.6" cy="509.3" r="7"/><circle cx="551.0" cy="489.1" r="7"/><circle cx="565.0" cy="524.4" r="7"/><circle cx="529.9" cy="555.9" r="7"/><circle cx="502.0" cy="484.2" r="7"/><circle cx="618.6" cy="475.2" r="7"/><circle cx="629.4" cy="472.5" r="7"/><circle cx="551.4" cy="503.1" r="7"/><circle cx="543.9" cy="484.5" r="7"/><circle cx="685.8" cy="476.8" r="7"/><circle cx="756.1" cy="511.9" r="7"/><circle cx="511.6" cy="488.9" r="7"/><circle cx="677.6" cy="692.8" r="7"/><circle cx="636.4" cy="516.5" r="7"/><circle cx="580.8" cy="486.2" r="7"/><circle cx="620.6" cy="512.7" r="7"/><circle cx="753.3" cy="489.4" r="7"/><circle cx="656.5" cy="493.8" r="7"/><circle cx="620.6" cy="508.4" r="7"/><circle cx="668.4" cy="489.3" r="7"/><circle cx="770.9" cy="708.7" r="7"/><circle cx="529.8" cy="536.8" r="7"/><circle cx="876.3" cy="564.0" r="7"/><circle cx="367.0" cy="840.6" r="7"/><circle cx="375.2" cy="841.9" r="7"/><circle cx="414.1" cy="853.5" r="7"/></g><g fill="#6290c0"><circle cx="524.7" cy="383.4" r="7"/><circle cx="606.1" cy="408.6" r="7"/><circle cx="961.9" cy="646.8" r="7"/><circle cx="781.6" cy="275.1" r="7"/><circle cx="815.2" cy="710.1" r="7"/><circle cx="622.4" cy="430.9" r="7"/><circle cx="338.9" cy="553.6" r="7"/><circle cx="381.2" cy="243.3" r="7"/><circle cx="502.5" cy="382.2" r="7"/><circle cx="1005.0" cy="301.6" r="7"/><circle cx="659.7" cy="514.9" r="7"/><circle cx="587.4" cy="508.6" r="7"/><circle cx="633.6" cy="519.1" r="7"/><circle cx="555.8" cy="516.5" r="7"/><circle cx="756.1" cy="503.5" r="7"/><circle cx="588.1" cy="555.1" r="7"/><circle cx="868.6" cy="565.1" r="7"/><circle cx="762.8" cy="502.3" r="7"/><circle cx="764.3" cy="482.8" r="7"/><circle cx="620.2" cy="407.0" r="7"/><circle cx="567.3" cy="536.0" r="7"/><circle cx="769.9" cy="492.4" r="7"/><circle cx="645.3" cy="453.2" r="7"/><circle cx="764.6" cy="514.1" r="7"/><circle cx="550.9" cy="471.4" r="7"/><circle cx="707.8" cy="472.6" r="7"/><circle cx="704.9" cy="486.8" r="7"/><circle cx="739.9" cy="515.9" r="7"/></g><g fill="#6596c6"><circle cx="900.1" cy="327.1" r="7"/><circle cx="486.4" cy="223.8" r="7"/><circle cx="702.6" cy="842.3" r="7"/><circle cx="827.7" cy="954.5" r="7"/><circle cx="344.0" cy="569.1" r="7"/><circle cx="664.6" cy="212.5" r="7"/><circle cx="808.6" cy="823.5" r="7"/><circle cx="928.2" cy="671.1" r="7"/><circle cx="785.3" cy="265.1" r="7"/><circle cx="756.2" cy="267.2" r="7"/><circle cx="875.2" cy="634.1" r="7"/><circle cx="488.2" cy="231.3" r="7"/><circle cx="580.0" cy="398.4" r="7"/><circle cx="566.0" cy="508.1" r="7"/><circle cx="761.4" cy="518.3" r="7"/><circle cx="779.2" cy="499.7" r="7"/><circle cx="596.1" cy="505.2" r="7"/><circle cx="546.7" cy="573.4" r="7"/><circle cx="420.4" cy="762.5" r="7"/></g><g fill="#699ac8"><circle cx="683.3" cy="1007.1" r="7"/><circle cx="264.1" cy="312.4" r="7"/><circle cx="359.8" cy="241.7" r="7"/><circle cx="769.6" cy="275.8" r="7"/><circle cx="873.6" cy="792.5" r="7"/><circle cx="774.7" cy="262.0" r="7"/><circle cx="980.0" cy="671.5" r="7"/><circle cx="412.8" cy="781.0" r="7"/><circle cx="973.9" cy="640.0" r="7"/><circle cx="835.5" cy="936.9" r="7"/><circle cx="952.8" cy="641.5" r="7"/><circle cx="865.3" cy="618.0" r="7"/><circle cx="764.3" cy="902.0" r="7"/><circle cx="948.8" cy="330.9" r="7"/><circle cx="335.9" cy="562.7" r="7"/><circle cx="382.5" cy="248.3" r="7"/><circle cx="336.3" cy="247.8" r="7"/><circle cx="960.0" cy="639.0" r="7"/><circle cx="622.1" cy="409.8" r="7"/><circle cx="1011.3" cy="259.1" r="7"/><circle cx="693.9" cy="482.9" r="7"/><circle cx="529.8" cy="462.0" r="7"/><circle cx="416.2" cy="764.8" r="7"/><circle cx="506.2" cy="759.1" r="7"/><circle cx="828.1" cy="608.8" r="7"/></g><g fill="#6c9fcb"><circle cx="931.4" cy="347.8" r="7"/><circle cx="261.9" cy="323.7" r="7"/><circle cx="963.0" cy="322.0" r="7"/><circle cx="806.6" cy="803.0" r="7"/><circle cx="669.2" cy="835.8" r="7"/><circle cx="383.9" cy="245.0" r="7"/><circle cx="291.3" cy="439.4" r="7"/><circle cx="847.2" cy="723.0" r="7"/><circle cx="437.8" cy="851.1" r="7"/><circle cx="815.4" cy="790.4" r="7"/><circle cx="959.3" cy="649.7" r="7"/><circle cx="601.4" cy="907.4" r="7"/><circle cx="541.3" cy="351.1" r="7"/><circle cx="784.7" cy="270.0" r="7"/><circle cx="930.2" cy="330.6" r="7"/><circle cx="756.8" cy="709.3" r="7"/><circle cx="1048.1" cy="286.3" r="7"/><circle cx="1031.9" cy="302.1" r="7"/><circle cx="1018.5" cy="278.5" r="7"/><circle cx="629.7" cy="413.8" r="7"/><circle cx="915.2" cy="622.5" r="7"/><circle cx="946.3" cy="325.6" r="7"/><circle cx="338.5" cy="583.0" r="7"/><circle cx="587.8" cy="888.7" r="7"/><circle cx="776.0" cy="513.8" r="7"/><circle cx="284.3" cy="319.9" r="7"/><circle cx="1052.4" cy="292.6" r="7"/><circle cx="463.8" cy="441.2" r="7"/><circle cx="431.2" cy="447.5" r="7"/><circle cx="458.2" cy="466.2" r="7"/><circle cx="244.5" cy="480.0" r="7"/><circle cx="901.4" cy="811.9" r="7"/><circle cx="541.1" cy="444.5" r="7"/><circle cx="508.6" cy="506.5" r="7"/><circle cx="617.7" cy="511.6" r="7"/><circle cx="355.9" cy="789.6" r="7"/></g><g fill="#70a4cd"><circle cx="667.9" cy="955.6" r="7"/><circle cx="350.9" cy="569.8" r="7"/><circle cx="699.3" cy="284.5" r="7"/><circle cx="517.4" cy="202.3" r="7"/><circle cx="819.8" cy="900.5" r="7"/><circle cx="371.7" cy="477.2" r="7"/><circle cx="380.3" cy="353.9" r="7"/><circle cx="342.1" cy="548.0" r="7"/><circle cx="770.8" cy="264.8" r="7"/><circle cx="882.9" cy="668.2" r="7"/><circle cx="611.5" cy="236.5" r="7"/><circle cx="749.7" cy="276.0" r="7"/><circle cx="890.3" cy="610.4" r="7"/><circle cx="663.7" cy="208.9" r="7"/><circle cx="828.8" cy="938.8" r="7"/><circle cx="1032.2" cy="330.4" r="7"/><circle cx="384.0" cy="240.3" r="7"/><circle cx="349.1" cy="957.3" r="7"/><circle cx="924.4" cy="587.9" r="7"/><circle cx="782.5" cy="287.8" r="7"/><circle cx="927.5" cy="584.4" r="7"/><circle cx="834.9" cy="716.8" r="7"/><circle cx="753.5" cy="282.8" r="7"/><circle cx="1004.8" cy="291.0" r="7"/><circle cx="603.1" cy="432.2" r="7"/><circle cx="919.9" cy="596.1" r="7"/><circle cx="916.1" cy="631.7" r="7"/><circle cx="667.8" cy="705.9" r="7"/><circle cx="505.4" cy="499.8" r="7"/><circle cx="952.8" cy="305.1" r="7"/><circle cx="925.8" cy="297.8" r="7"/><circle cx="839.7" cy="722.2" r="7"/><circle cx="808.6" cy="772.3" r="7"/><circle cx="841.1" cy="542.7" r="7"/><circle cx="467.9" cy="224.7" r="7"/><circle cx="390.4" cy="243.0" r="7"/><circle cx="761.9" cy="719.1" r="7"/><circle cx="904.2" cy="599.3" r="7"/><circle cx="622.4" cy="536.9" r="7"/><circle cx="405.7" cy="249.6" r="7"/><circle cx="933.8" cy="587.0" r="7"/><circle cx="1049.0" cy="318.7" r="7"/><circle cx="873.9" cy="642.2" r="7"/><circle cx="710.3" cy="843.6" r="7"/><circle cx="783.8" cy="277.6" r="7"/><circle cx="337.9" cy="792.5" r="7"/></g><g fill="#73a8cf"><circle cx="413.3" cy="436.5" r="7"/><circle cx="655.6" cy="676.1" r="7"/><circle cx="300.1" cy="433.5" r="7"/><circle cx="766.5" cy="278.5" r="7"/><circle cx="373.9" cy="927.4" r="7"/><circle cx="425.4" cy="788.5" r="7"/><circle cx="407.1" cy="257.1" r="7"/><circle cx="332.8" cy="551.8" r="7"/><circle cx="762.9" cy="259.7" r="7"/><circle cx="589.5" cy="537.8" r="7"/><circle cx="825.7" cy="710.9" r="7"/><circle cx="821.0" cy="926.7" r="7"/><circle cx="875.2" cy="622.9" r="7"/><circle cx="904.1" cy="538.7" r="7"/><circle cx="951.7" cy="327.2" r="7"/><circle cx="760.5" cy="249.4" r="7"/><circle cx="808.9" cy="740.0" r="7"/><circle cx="845.4" cy="730.6" r="7"/><circle cx="506.5" cy="782.0" r="7"/><circle cx="552.7" cy="298.1" r="7"/><circle cx="808.0" cy="704.3" r="7"/><circle cx="815.3" cy="909.2" r="7"/><circle cx="514.4" cy="525.4" r="7"/><circle cx="943.9" cy="635.2" r="7"/><circle cx="772.6" cy="290.8" r="7"/><circle cx="398.1" cy="237.9" r="7"/><circle cx="964.7" cy="306.1" r="7"/><circle cx="1050.9" cy="299.0" r="7"/><circle cx="906.9" cy="603.5" r="7"/><circle cx="720.8" cy="646.1" r="7"/><circle cx="591.1" cy="415.0" r="7"/><circle cx="287.9" cy="414.4" r="7"/><circle cx="367.4" cy="338.2" r="7"/><circle cx="755.5" cy="253.2" r="7"/><circle cx="720.2" cy="229.7" r="7"/><circle cx="623.1" cy="925.8" r="7"/><circle cx="756.3" cy="729.0" r="7"/><circle cx="739.4" cy="642.6" r="7"/><circle cx="666.3" cy="965.4" r="7"/><circle cx="800.0" cy="297.8" r="7"/><circle cx="396.7" cy="312.6" r="7"/><circle cx="431.2" cy="869.8" r="7"/><circle cx="409.8" cy="260.9" r="7"/><circle cx="1099.7" cy="493.8" r="7"/><circle cx="679.5" cy="662.7" r="7"/><circle cx="682.2" cy="228.9" r="7"/><circle cx="1043.1" cy="276.8" r="7"/><circle cx="1004.3" cy="281.5" r="7"/><circle cx="798.1" cy="945.0" r="7"/><circle cx="400.3" cy="856.8" r="7"/><circle cx="350.0" cy="562.3" r="7"/><circle cx="699.5" cy="216.0" r="7"/><circle cx="1023.5" cy="291.1" r="7"/><circle cx="452.5" cy="430.0" r="7"/><circle cx="650.0" cy="362.0" r="7"/><circle cx="650.0" cy="405.0" r="7"/><circle cx="500.8" cy="430.0" r="7"/><circle cx="831.2" cy="441.2" r="7"/><circle cx="1077.5" cy="506.2" r="7"/><circle cx="950.0" cy="579.7" r="7"/><circle cx="902.5" cy="812.5" r="7"/><circle cx="487.5" cy="723.1" r="7"/></g><g fill="#76add2"><circle cx="961.4" cy="635.1" r="7"/><circle cx="792.9" cy="782.4" r="7"/><circle cx="872.2" cy="547.9" r="7"/><circle cx="410.0" cy="429.1" r="7"/><circle cx="368.1" cy="947.7" r="7"/><circle cx="342.8" cy="552.3" r="7"/><circle cx="811.8" cy="965.4" r="7"/><circle cx="692.0" cy="214.0" r="7"/><circle cx="400.3" cy="232.6" r="7"/><circle cx="519.8" cy="316.5" r="7"/><circle cx="949.9" cy="405.1" r="7"/><circle cx="393.8" cy="447.7" r="7"/><circle cx="639.6" cy="719.3" r="7"/><circle cx="800.8" cy="293.6" r="7"/><circle cx="870.8" cy="650.9" r="7"/><circle cx="593.4" cy="420.7" r="7"/><circle cx="301.4" cy="437.7" r="7"/><circle cx="745.5" cy="247.6" r="7"/><circle cx="935.2" cy="292.6" r="7"/><circle cx="588.6" cy="449.2" r="7"/><circle cx="824.4" cy="698.0" r="7"/><circle cx="498.3" cy="274.4" r="7"/><circle cx="976.2" cy="643.4" r="7"/><circle cx="815.9" cy="508.0" r="7"/><circle cx="797.9" cy="959.3" r="7"/><circle cx="793.2" cy="663.9" r="7"/><circle cx="315.9" cy="286.6" r="7"/><circle cx="930.0" cy="316.2" r="7"/><circle cx="723.1" cy="271.6" r="7"/><circle cx="871.7" cy="632.7" r="7"/><circle cx="857.0" cy="938.7" r="7"/><circle cx="317.6" cy="278.6" r="7"/><circle cx="848.4" cy="502.3" r="7"/><circle cx="348.0" cy="256.3" r="7"/><circle cx="881.4" cy="627.3" r="7"/><circle cx="869.8" cy="555.5" r="7"/><circle cx="873.6" cy="611.7" r="7"/><circle cx="782.5" cy="907.3" r="7"/><circle cx="778.5" cy="510.1" r="7"/><circle cx="603.4" cy="442.0" r="7"/><circle cx="1023.6" cy="333.2" r="7"/><circle cx="833.9" cy="703.5" r="7"/><circle cx="800.1" cy="757.7" r="7"/><circle cx="501.4" cy="205.9" r="7"/><circle cx="898.4" cy="619.8" r="7"/><circle cx="385.0" cy="236.4" r="7"/><circle cx="952.7" cy="331.5" r="7"/><circle cx="769.8" cy="522.6" r="7"/><circle cx="798.1" cy="269.6" r="7"/><circle cx="571.6" cy="223.8" r="7"/><circle cx="817.3" cy="948.8" r="7"/><circle cx="983.8" cy="296.6" r="7"/><circle cx="1006.8" cy="295.7" r="7"/><circle cx="879.1" cy="581.8" r="7"/><circle cx="354.6" cy="951.9" r="7"/><circle cx="397.8" cy="852.7" r="7"/><circle cx="784.5" cy="913.8" r="7"/><circle cx="574.1" cy="196.9" r="7"/><circle cx="428.8" cy="348.8" r="7"/><circle cx="851.5" cy="579.4" r="7"/><circle cx="821.2" cy="697.9" r="7"/><circle cx="881.7" cy="634.4" r="7"/><circle cx="594.4" cy="229.2" r="7"/><circle cx="805.2" cy="763.5" r="7"/><circle cx="496.9" cy="685.6" r="7"/></g><g fill="#7ab1d4"><circle cx="807.4" cy="953.4" r="7"/><circle cx="355.2" cy="788.4" r="7"/><circle cx="590.7" cy="430.6" r="7"/><circle cx="979.1" cy="651.7" r="7"/><circle cx="942.6" cy="643.8" r="7"/><circle cx="769.1" cy="288.0" r="7"/><circle cx="438.9" cy="245.4" r="7"/><circle cx="938.3" cy="309.8" r="7"/><circle cx="891.9" cy="927.7" r="7"/><circle cx="799.2" cy="972.6" r="7"/><circle cx="930.7" cy="326.0" r="7"/><circle cx="819.0" cy="608.1" r="7"/><circle cx="617.5" cy="518.9" r="7"/><circle cx="566.5" cy="206.4" r="7"/><circle cx="1006.6" cy="310.9" r="7"/><circle cx="632.2" cy="909.7" r="7"/><circle cx="435.7" cy="866.4" r="7"/><circle cx="732.6" cy="250.1" r="7"/><circle cx="403.2" cy="242.2" r="7"/><circle cx="634.0" cy="913.0" r="7"/><circle cx="667.8" cy="209.4" r="7"/><circle cx="1004.2" cy="265.3" r="7"/><circle cx="842.3" cy="588.4" r="7"/><circle cx="563.6" cy="883.7" r="7"/><circle cx="886.0" cy="504.0" r="7"/><circle cx="371.1" cy="921.2" r="7"/><circle cx="792.3" cy="971.1" r="7"/><circle cx="617.2" cy="324.3" r="7"/><circle cx="909.4" cy="786.1" r="7"/><circle cx="813.5" cy="785.8" r="7"/><circle cx="657.3" cy="335.8" r="7"/><circle cx="891.1" cy="309.2" r="7"/><circle cx="545.7" cy="893.0" r="7"/><circle cx="763.7" cy="806.8" r="7"/><circle cx="275.5" cy="373.3" r="7"/><circle cx="515.6" cy="206.9" r="7"/><circle cx="901.2" cy="789.4" r="7"/><circle cx="572.0" cy="876.6" r="7"/><circle cx="791.0" cy="619.7" r="7"/><circle cx="927.1" cy="519.3" r="7"/><circle cx="933.8" cy="323.6" r="7"/><circle cx="793.0" cy="657.6" r="7"/><circle cx="971.9" cy="647.0" r="7"/><circle cx="451.1" cy="380.0" r="7"/><circle cx="352.7" cy="272.6" r="7"/><circle cx="565.3" cy="444.9" r="7"/><circle cx="337.7" cy="250.7" r="7"/><circle cx="999.6" cy="463.4" r="7"/><circle cx="579.4" cy="569.0" r="7"/><circle cx="478.8" cy="227.8" r="7"/><circle cx="537.9" cy="323.1" r="7"/><circle cx="1040.4" cy="280.8" r="7"/><circle cx="614.2" cy="958.7" r="7"/><circle cx="277.4" cy="301.0" r="7"/><circle cx="500.9" cy="268.7" r="7"/><circle cx="912.4" cy="681.9" r="7"/><circle cx="932.5" cy="341.7" r="7"/><circle cx="299.2" cy="372.0" r="7"/><circle cx="1080.5" cy="506.6" r="7"/><circle cx="764.3" cy="819.1" r="7"/><circle cx="915.3" cy="308.7" r="7"/><circle cx="686.8" cy="887.8" r="7"/><circle cx="928.6" cy="632.9" r="7"/><circle cx="624.9" cy="228.2" r="7"/><circle cx="701.8" cy="1071.7" r="7"/><circle cx="444.1" cy="373.4" r="7"/><circle cx="912.2" cy="316.9" r="7"/><circle cx="362.6" cy="956.5" r="7"/><circle cx="785.3" cy="942.7" r="7"/><circle cx="915.8" cy="626.7" r="7"/><circle cx="1036.4" cy="296.5" r="7"/><circle cx="957.4" cy="630.8" r="7"/><circle cx="544.7" cy="346.3" r="7"/><circle cx="488.9" cy="399.1" r="7"/><circle cx="585.2" cy="228.0" r="7"/><circle cx="1067.1" cy="307.7" r="7"/><circle cx="1070.0" cy="398.0" r="7"/><circle cx="662.6" cy="702.2" r="7"/><circle cx="825.6" cy="747.7" r="7"/><circle cx="767.8" cy="247.7" r="7"/><circle cx="495.5" cy="413.5" r="7"/><circle cx="675.0" cy="406.2" r="7"/><circle cx="762.8" cy="561.2" r="7"/><circle cx="832.2" cy="440.3" r="7"/><circle cx="945.3" cy="582.5" r="7"/><circle cx="907.5" cy="768.8" r="7"/><circle cx="466.2" cy="812.5" r="7"/><circle cx="445.3" cy="811.2" r="7"/><circle cx="489.8" cy="687.5" r="7"/><circle cx="484.7" cy="711.9" r="7"/><circle cx="361.0" cy="778.5" r="7"/></g><g fill="#81b6d7"><circle cx="380.4" cy="921.8" r="7"/><circle cx="974.0" cy="301.5" r="7"/><circle cx="496.9" cy="211.0" r="7"/><circle cx="428.9" cy="366.6" r="7"/><circle cx="806.8" cy="929.0" r="7"/><circle cx="1024.8" cy="267.6" r="7"/><circle cx="932.6" cy="336.6" r="7"/><circle cx="788.8" cy="625.0" r="7"/><circle cx="873.9" cy="557.9" r="7"/><circle cx="610.6" cy="903.5" r="7"/><circle cx="509.0" cy="363.8" r="7"/><circle cx="684.9" cy="998.2" r="7"/><circle cx="839.6" cy="956.8" r="7"/><circle cx="560.1" cy="235.7" r="7"/><circle cx="788.5" cy="612.9" r="7"/><circle cx="553.8" cy="195.4" r="7"/><circle cx="831.7" cy="922.9" r="7"/><circle cx="462.0" cy="294.2" r="7"/><circle cx="1024.2" cy="280.5" r="7"/><circle cx="897.9" cy="684.6" r="7"/><circle cx="823.5" cy="714.6" r="7"/><circle cx="273.3" cy="351.7" r="7"/><circle cx="863.9" cy="631.4" r="7"/><circle cx="681.5" cy="387.9" r="7"/><circle cx="447.7" cy="367.6" r="7"/><circle cx="744.6" cy="910.5" r="7"/><circle cx="968.6" cy="311.4" r="7"/><circle cx="950.2" cy="307.4" r="7"/><circle cx="454.8" cy="413.8" r="7"/><circle cx="814.1" cy="797.7" r="7"/><circle cx="808.7" cy="760.6" r="7"/><circle cx="303.1" cy="412.1" r="7"/><circle cx="838.3" cy="579.8" r="7"/><circle cx="758.9" cy="666.3" r="7"/><circle cx="889.9" cy="669.4" r="7"/><circle cx="836.5" cy="574.3" r="7"/><circle cx="589.7" cy="915.4" r="7"/><circle cx="513.9" cy="301.2" r="7"/><circle cx="1053.9" cy="454.5" r="7"/><circle cx="402.7" cy="389.1" r="7"/><circle cx="521.2" cy="782.7" r="7"/><circle cx="851.0" cy="560.5" r="7"/><circle cx="435.2" cy="789.2" r="7"/><circle cx="611.5" cy="466.4" r="7"/><circle cx="304.8" cy="286.2" r="7"/><circle cx="749.7" cy="882.9" r="7"/><circle cx="710.9" cy="376.7" r="7"/><circle cx="476.4" cy="370.0" r="7"/><circle cx="668.3" cy="919.6" r="7"/><circle cx="869.6" cy="654.2" r="7"/><circle cx="813.6" cy="744.0" r="7"/><circle cx="788.5" cy="676.5" r="7"/><circle cx="359.4" cy="256.8" r="7"/><circle cx="468.4" cy="419.0" r="7"/><circle cx="773.4" cy="685.5" r="7"/><circle cx="293.2" cy="433.1" r="7"/><circle cx="329.9" cy="813.1" r="7"/><circle cx="787.7" cy="280.9" r="7"/><circle cx="364.1" cy="340.4" r="7"/><circle cx="1002.2" cy="465.3" r="7"/><circle cx="829.8" cy="697.0" r="7"/><circle cx="783.9" cy="284.8" r="7"/><circle cx="789.8" cy="663.8" r="7"/><circle cx="1003.0" cy="299.2" r="7"/><circle cx="923.0" cy="662.1" r="7"/><circle cx="426.4" cy="427.5" r="7"/><circle cx="526.3" cy="370.3" r="7"/><circle cx="1028.3" cy="332.2" r="7"/><circle cx="1035.1" cy="291.2" r="7"/><circle cx="877.9" cy="538.8" r="7"/><circle cx="431.0" cy="855.2" r="7"/><circle cx="446.4" cy="411.8" r="7"/><circle cx="647.3" cy="721.9" r="7"/><circle cx="935.2" cy="650.1" r="7"/><circle cx="378.0" cy="383.8" r="7"/><circle cx="1068.7" cy="407.4" r="7"/><circle cx="856.3" cy="533.3" r="7"/><circle cx="615.7" cy="414.7" r="7"/><circle cx="575.7" cy="411.6" r="7"/><circle cx="678.1" cy="732.4" r="7"/><circle cx="854.4" cy="723.2" r="7"/><circle cx="779.4" cy="501.3" r="7"/><circle cx="403.2" cy="372.2" r="7"/><circle cx="1044.5" cy="298.8" r="7"/><circle cx="730.8" cy="462.2" r="7"/><circle cx="563.7" cy="193.7" r="7"/><circle cx="385.4" cy="785.6" r="7"/><circle cx="992.0" cy="303.6" r="7"/><circle cx="268.2" cy="364.2" r="7"/><circle cx="874.3" cy="581.5" r="7"/><circle cx="804.8" cy="892.1" r="7"/><circle cx="383.8" cy="454.7" r="7"/><circle cx="558.8" cy="562.2" r="7"/><circle cx="1029.9" cy="296.7" r="7"/><circle cx="385.6" cy="473.6" r="7"/><circle cx="264.4" cy="411.9" r="7"/><circle cx="825.0" cy="405.0" r="7"/><circle cx="421.2" cy="557.0" r="7"/><circle cx="451.2" cy="513.2" r="7"/><circle cx="939.7" cy="580.6" r="7"/><circle cx="1077.5" cy="507.5" r="7"/><circle cx="527.5" cy="858.8" r="7"/><circle cx="495.0" cy="706.2" r="7"/><circle cx="511.9" cy="702.9" r="7"/><circle cx="514.1" cy="708.5" r="7"/></g><g fill="#89bcda"><circle cx="543.0" cy="323.9" r="7"/><circle cx="863.7" cy="612.0" r="7"/><circle cx="710.2" cy="644.7" r="7"/><circle cx="445.0" cy="433.4" r="7"/><circle cx="813.3" cy="619.0" r="7"/><circle cx="708.7" cy="660.9" r="7"/><circle cx="925.9" cy="645.3" r="7"/><circle cx="910.1" cy="310.4" r="7"/><circle cx="885.2" cy="634.5" r="7"/><circle cx="482.4" cy="407.1" r="7"/><circle cx="269.7" cy="325.4" r="7"/><circle cx="819.9" cy="931.3" r="7"/><circle cx="923.9" cy="515.7" r="7"/><circle cx="1055.9" cy="307.2" r="7"/><circle cx="702.4" cy="735.5" r="7"/><circle cx="929.8" cy="640.0" r="7"/><circle cx="813.2" cy="714.0" r="7"/><circle cx="810.9" cy="781.9" r="7"/><circle cx="819.7" cy="706.6" r="7"/><circle cx="683.2" cy="757.4" r="7"/><circle cx="898.0" cy="674.0" r="7"/><circle cx="564.2" cy="254.2" r="7"/><circle cx="653.1" cy="679.7" r="7"/><circle cx="398.4" cy="308.3" r="7"/><circle cx="753.3" cy="242.4" r="7"/><circle cx="560.4" cy="869.0" r="7"/><circle cx="743.6" cy="851.5" r="7"/><circle cx="754.9" cy="513.9" r="7"/><circle cx="274.5" cy="330.2" r="7"/><circle cx="856.6" cy="504.6" r="7"/><circle cx="865.4" cy="521.9" r="7"/><circle cx="1010.8" cy="307.9" r="7"/><circle cx="1013.7" cy="322.0" r="7"/><circle cx="968.2" cy="323.6" r="7"/><circle cx="576.1" cy="903.5" r="7"/><circle cx="885.2" cy="665.1" r="7"/><circle cx="720.6" cy="733.3" r="7"/><circle cx="506.2" cy="767.6" r="7"/><circle cx="713.8" cy="755.2" r="7"/><circle cx="575.3" cy="263.9" r="7"/><circle cx="483.2" cy="219.0" r="7"/><circle cx="696.1" cy="699.0" r="7"/><circle cx="852.3" cy="501.3" r="7"/><circle cx="768.1" cy="899.7" r="7"/><circle cx="734.8" cy="896.9" r="7"/><circle cx="788.2" cy="959.3" r="7"/><circle cx="894.3" cy="587.2" r="7"/><circle cx="641.1" cy="863.6" r="7"/><circle cx="736.2" cy="234.0" r="7"/><circle cx="804.0" cy="779.2" r="7"/><circle cx="352.6" cy="557.1" r="7"/><circle cx="1064.5" cy="312.3" r="7"/><circle cx="657.1" cy="886.0" r="7"/><circle cx="791.2" cy="316.7" r="7"/><circle cx="1040.2" cy="299.3" r="7"/><circle cx="786.9" cy="952.3" r="7"/><circle cx="727.5" cy="247.4" r="7"/><circle cx="771.2" cy="804.7" r="7"/><circle cx="390.1" cy="395.4" r="7"/><circle cx="298.7" cy="398.2" r="7"/><circle cx="904.8" cy="332.2" r="7"/><circle cx="705.3" cy="877.9" r="7"/><circle cx="522.0" cy="788.7" r="7"/><circle cx="734.7" cy="665.5" r="7"/><circle cx="686.1" cy="229.9" r="7"/><circle cx="797.1" cy="657.4" r="7"/><circle cx="789.6" cy="706.5" r="7"/><circle cx="844.1" cy="581.5" r="7"/><circle cx="693.1" cy="688.8" r="7"/><circle cx="797.5" cy="289.1" r="7"/><circle cx="389.8" cy="365.8" r="7"/><circle cx="822.0" cy="489.6" r="7"/><circle cx="584.7" cy="434.1" r="7"/><circle cx="596.6" cy="402.7" r="7"/><circle cx="696.2" cy="889.9" r="7"/><circle cx="520.6" cy="326.2" r="7"/><circle cx="551.3" cy="339.5" r="7"/><circle cx="301.6" cy="283.9" r="7"/><circle cx="797.1" cy="277.1" r="7"/><circle cx="903.6" cy="793.5" r="7"/><circle cx="850.3" cy="626.1" r="7"/><circle cx="713.4" cy="742.0" r="7"/><circle cx="404.5" cy="858.8" r="7"/><circle cx="507.0" cy="207.2" r="7"/><circle cx="312.5" cy="378.3" r="7"/><circle cx="911.4" cy="598.4" r="7"/><circle cx="531.4" cy="884.9" r="7"/><circle cx="613.0" cy="210.4" r="7"/><circle cx="825.3" cy="723.2" r="7"/><circle cx="262.2" cy="336.6" r="7"/><circle cx="800.9" cy="714.5" r="7"/><circle cx="437.4" cy="321.1" r="7"/><circle cx="656.4" cy="223.1" r="7"/><circle cx="668.1" cy="709.8" r="7"/><circle cx="680.9" cy="986.1" r="7"/><circle cx="829.3" cy="575.1" r="7"/><circle cx="736.3" cy="285.8" r="7"/><circle cx="693.4" cy="216.9" r="7"/><circle cx="866.7" cy="545.5" r="7"/><circle cx="528.5" cy="532.9" r="7"/><circle cx="525.6" cy="206.4" r="7"/><circle cx="299.5" cy="488.3" r="7"/><circle cx="795.0" cy="702.6" r="7"/><circle cx="876.2" cy="323.3" r="7"/><circle cx="811.9" cy="630.6" r="7"/><circle cx="434.3" cy="862.5" r="7"/><circle cx="369.2" cy="955.1" r="7"/><circle cx="444.9" cy="327.4" r="7"/><circle cx="804.1" cy="745.6" r="7"/><circle cx="1066.9" cy="400.4" r="7"/><circle cx="396.9" cy="377.2" r="7"/><circle cx="555.7" cy="894.7" r="7"/><circle cx="808.8" cy="764.9" r="7"/><circle cx="700.8" cy="685.4" r="7"/><circle cx="1016.1" cy="295.9" r="7"/><circle cx="785.2" cy="316.9" r="7"/><circle cx="812.2" cy="956.8" r="7"/><circle cx="945.9" cy="640.5" r="7"/><circle cx="415.6" cy="779.4" r="7"/><circle cx="528.8" cy="880.5" r="7"/><circle cx="375.2" cy="929.9" r="7"/><circle cx="829.8" cy="587.6" r="7"/><circle cx="451.4" cy="384.5" r="7"/><circle cx="796.4" cy="774.9" r="7"/><circle cx="779.5" cy="679.0" r="7"/><circle cx="243.4" cy="396.9" r="7"/><circle cx="633.8" cy="385.0" r="7"/><circle cx="465.9" cy="812.2" r="7"/><circle cx="942.5" cy="576.9" r="7"/><circle cx="461.2" cy="847.5" r="7"/><circle cx="468.8" cy="857.5" r="7"/><circle cx="333.8" cy="927.5" r="7"/></g><g fill="#91c1dd"><circle cx="362.5" cy="945.3" r="7"/><circle cx="710.9" cy="386.9" r="7"/><circle cx="283.8" cy="466.0" r="7"/><circle cx="523.1" cy="339.3" r="7"/><circle cx="860.6" cy="588.0" r="7"/><circle cx="309.7" cy="408.5" r="7"/><circle cx="660.8" cy="981.7" r="7"/><circle cx="593.6" cy="536.8" r="7"/><circle cx="700.2" cy="805.5" r="7"/><circle cx="895.9" cy="615.9" r="7"/><circle cx="375.6" cy="349.4" r="7"/><circle cx="777.1" cy="530.9" r="7"/><circle cx="304.7" cy="301.0" r="7"/><circle cx="360.7" cy="809.7" r="7"/><circle cx="436.9" cy="230.0" r="7"/><circle cx="900.3" cy="635.0" r="7"/><circle cx="729.6" cy="258.4" r="7"/><circle cx="843.8" cy="537.5" r="7"/><circle cx="481.4" cy="240.4" r="7"/><circle cx="375.2" cy="359.5" r="7"/><circle cx="299.1" cy="418.9" r="7"/><circle cx="711.9" cy="1067.5" r="7"/><circle cx="847.9" cy="618.2" r="7"/><circle cx="267.8" cy="349.1" r="7"/><circle cx="795.2" cy="835.6" r="7"/><circle cx="296.7" cy="367.4" r="7"/><circle cx="975.4" cy="313.0" r="7"/><circle cx="495.7" cy="389.3" r="7"/><circle cx="272.4" cy="297.1" r="7"/><circle cx="568.1" cy="257.4" r="7"/><circle cx="404.7" cy="451.8" r="7"/><circle cx="391.0" cy="784.2" r="7"/><circle cx="425.8" cy="845.2" r="7"/><circle cx="826.6" cy="545.9" r="7"/><circle cx="1060.3" cy="319.9" r="7"/><circle cx="754.0" cy="258.7" r="7"/><circle cx="262.5" cy="346.2" r="7"/><circle cx="863.7" cy="918.6" r="7"/><circle cx="409.2" cy="858.8" r="7"/><circle cx="687.8" cy="742.4" r="7"/><circle cx="410.1" cy="383.4" r="7"/><circle cx="675.8" cy="209.0" r="7"/><circle cx="837.0" cy="537.2" r="7"/><circle cx="907.6" cy="640.6" r="7"/><circle cx="361.3" cy="388.7" r="7"/><circle cx="431.9" cy="818.8" r="7"/><circle cx="317.8" cy="550.3" r="7"/><circle cx="830.9" cy="911.0" r="7"/><circle cx="807.6" cy="633.7" r="7"/><circle cx="690.7" cy="832.3" r="7"/><circle cx="435.6" cy="407.6" r="7"/><circle cx="325.4" cy="463.8" r="7"/><circle cx="630.8" cy="229.5" r="7"/><circle cx="800.1" cy="767.4" r="7"/><circle cx="274.1" cy="360.7" r="7"/><circle cx="957.5" cy="304.3" r="7"/><circle cx="873.6" cy="565.0" r="7"/><circle cx="727.2" cy="675.1" r="7"/><circle cx="573.7" cy="215.1" r="7"/><circle cx="848.8" cy="555.2" r="7"/><circle cx="636.7" cy="447.6" r="7"/><circle cx="534.6" cy="372.0" r="7"/><circle cx="811.0" cy="695.5" r="7"/><circle cx="785.5" cy="947.9" r="7"/><circle cx="336.8" cy="797.8" r="7"/><circle cx="306.9" cy="489.5" r="7"/><circle cx="768.2" cy="529.0" r="7"/><circle cx="804.3" cy="757.4" r="7"/><circle cx="1044.6" cy="437.3" r="7"/><circle cx="860.1" cy="637.4" r="7"/><circle cx="717.2" cy="760.8" r="7"/><circle cx="357.9" cy="799.9" r="7"/><circle cx="513.5" cy="782.3" r="7"/><circle cx="372.8" cy="288.1" r="7"/><circle cx="540.8" cy="318.8" r="7"/><circle cx="1085.5" cy="478.1" r="7"/><circle cx="832.6" cy="548.6" r="7"/><circle cx="737.3" cy="734.2" r="7"/><circle cx="419.9" cy="796.9" r="7"/><circle cx="766.7" cy="520.0" r="7"/><circle cx="767.9" cy="261.4" r="7"/><circle cx="529.0" cy="377.8" r="7"/><circle cx="503.7" cy="331.5" r="7"/><circle cx="770.6" cy="249.9" r="7"/><circle cx="785.2" cy="921.7" r="7"/><circle cx="759.1" cy="279.9" r="7"/><circle cx="697.3" cy="734.1" r="7"/><circle cx="691.3" cy="286.7" r="7"/><circle cx="482.6" cy="345.0" r="7"/><circle cx="907.0" cy="499.1" r="7"/><circle cx="445.5" cy="399.7" r="7"/><circle cx="778.6" cy="525.5" r="7"/><circle cx="572.5" cy="563.4" r="7"/><circle cx="528.7" cy="874.8" r="7"/><circle cx="318.0" cy="350.9" r="7"/><circle cx="329.3" cy="556.5" r="7"/><circle cx="900.5" cy="589.3" r="7"/><circle cx="495.0" cy="231.0" r="7"/><circle cx="764.7" cy="624.9" r="7"/><circle cx="1030.8" cy="317.8" r="7"/><circle cx="585.6" cy="546.0" r="7"/><circle cx="781.4" cy="293.4" r="7"/><circle cx="838.6" cy="923.8" r="7"/><circle cx="793.5" cy="759.0" r="7"/><circle cx="1025.0" cy="347.3" r="7"/><circle cx="318.0" cy="283.0" r="7"/><circle cx="974.3" cy="336.0" r="7"/><circle cx="801.6" cy="863.9" r="7"/><circle cx="878.1" cy="654.5" r="7"/><circle cx="691.4" cy="846.1" r="7"/><circle cx="546.7" cy="341.8" r="7"/><circle cx="814.8" cy="802.2" r="7"/><circle cx="663.2" cy="967.1" r="7"/><circle cx="893.6" cy="498.5" r="7"/><circle cx="697.8" cy="994.0" r="7"/><circle cx="531.1" cy="197.7" r="7"/><circle cx="603.3" cy="461.8" r="7"/><circle cx="803.6" cy="933.7" r="7"/><circle cx="793.1" cy="675.6" r="7"/><circle cx="357.8" cy="957.0" r="7"/><circle cx="601.5" cy="229.0" r="7"/><circle cx="781.6" cy="931.6" r="7"/><circle cx="326.8" cy="290.9" r="7"/><circle cx="354.1" cy="573.6" r="7"/><circle cx="849.3" cy="592.6" r="7"/><circle cx="339.6" cy="276.0" r="7"/><circle cx="565.6" cy="224.5" r="7"/><circle cx="803.3" cy="784.9" r="7"/><circle cx="418.2" cy="376.4" r="7"/><circle cx="829.2" cy="704.8" r="7"/><circle cx="365.0" cy="948.9" r="7"/><circle cx="338.8" cy="542.0" r="7"/><circle cx="1007.2" cy="465.3" r="7"/><circle cx="787.6" cy="964.5" r="7"/><circle cx="786.8" cy="696.1" r="7"/><circle cx="699.9" cy="850.1" r="7"/><circle cx="719.4" cy="284.1" r="7"/><circle cx="856.4" cy="486.9" r="7"/><circle cx="1020.0" cy="443.3" r="7"/><circle cx="977.0" cy="648.1" r="7"/><circle cx="1044.9" cy="307.1" r="7"/><circle cx="713.9" cy="649.4" r="7"/><circle cx="399.5" cy="245.7" r="7"/><circle cx="290.6" cy="490.9" r="7"/><circle cx="809.3" cy="974.2" r="7"/><circle cx="765.9" cy="761.9" r="7"/><circle cx="269.9" cy="315.2" r="7"/><circle cx="692.7" cy="732.3" r="7"/><circle cx="803.6" cy="949.4" r="7"/><circle cx="549.6" cy="255.5" r="7"/><circle cx="723.8" cy="759.0" r="7"/><circle cx="650.0" cy="379.5" r="7"/><circle cx="853.8" cy="455.0" r="7"/><circle cx="1057.5" cy="501.2" r="7"/><circle cx="816.2" cy="557.5" r="7"/><circle cx="562.0" cy="720.8" r="7"/><circle cx="511.2" cy="705.0" r="7"/><circle cx="500.0" cy="687.5" r="7"/><circle cx="754.4" cy="460.0" r="7"/><circle cx="935.0" cy="582.5" r="7"/><circle cx="815.9" cy="557.2" r="7"/><circle cx="336.2" cy="925.5" r="7"/><circle cx="762.5" cy="957.5" r="7"/></g><g fill="#9ac6df"><circle cx="728.4" cy="232.8" r="7"/><circle cx="510.1" cy="209.3" r="7"/><circle cx="879.0" cy="789.7" r="7"/><circle cx="863.7" cy="516.0" r="7"/><circle cx="273.4" cy="301.4" r="7"/><circle cx="806.8" cy="970.4" r="7"/><circle cx="543.6" cy="312.4" r="7"/><circle cx="810.3" cy="700.1" r="7"/><circle cx="379.2" cy="368.7" r="7"/><circle cx="770.7" cy="283.0" r="7"/><circle cx="835.6" cy="723.5" r="7"/><circle cx="384.1" cy="820.7" r="7"/><circle cx="233.9" cy="319.3" r="7"/><circle cx="786.4" cy="660.4" r="7"/><circle cx="394.1" cy="239.1" r="7"/><circle cx="407.4" cy="225.7" r="7"/><circle cx="307.6" cy="353.9" r="7"/><circle cx="370.6" cy="339.3" r="7"/><circle cx="264.2" cy="333.9" r="7"/><circle cx="885.2" cy="516.4" r="7"/><circle cx="786.8" cy="686.9" r="7"/><circle cx="492.8" cy="215.6" r="7"/><circle cx="799.9" cy="700.4" r="7"/><circle cx="1101.0" cy="473.1" r="7"/><circle cx="348.7" cy="834.5" r="7"/><circle cx="871.3" cy="568.7" r="7"/><circle cx="225.4" cy="326.8" r="7"/><circle cx="766.9" cy="526.3" r="7"/><circle cx="396.9" cy="361.4" r="7"/><circle cx="643.3" cy="221.5" r="7"/><circle cx="761.0" cy="899.9" r="7"/><circle cx="882.3" cy="621.8" r="7"/><circle cx="522.5" cy="803.0" r="7"/><circle cx="569.5" cy="205.0" r="7"/><circle cx="633.4" cy="243.7" r="7"/><circle cx="386.7" cy="931.7" r="7"/><circle cx="689.9" cy="398.2" r="7"/><circle cx="671.3" cy="947.0" r="7"/><circle cx="1035.8" cy="334.7" r="7"/><circle cx="434.8" cy="813.0" r="7"/><circle cx="439.1" cy="402.8" r="7"/><circle cx="421.7" cy="786.2" r="7"/><circle cx="893.9" cy="621.0" r="7"/><circle cx="891.2" cy="314.5" r="7"/><circle cx="1010.0" cy="299.5" r="7"/><circle cx="411.2" cy="307.4" r="7"/><circle cx="845.2" cy="917.6" r="7"/><circle cx="1095.8" cy="470.6" r="7"/><circle cx="887.9" cy="794.7" r="7"/><circle cx="669.4" cy="717.9" r="7"/><circle cx="298.7" cy="295.7" r="7"/><circle cx="786.0" cy="808.8" r="7"/><circle cx="678.7" cy="344.6" r="7"/><circle cx="402.2" cy="851.9" r="7"/><circle cx="382.5" cy="924.1" r="7"/><circle cx="782.4" cy="965.1" r="7"/><circle cx="605.3" cy="944.5" r="7"/><circle cx="840.2" cy="916.9" r="7"/><circle cx="979.6" cy="314.8" r="7"/><circle cx="797.1" cy="953.7" r="7"/><circle cx="807.2" cy="709.5" r="7"/><circle cx="949.1" cy="320.6" r="7"/><circle cx="821.8" cy="743.1" r="7"/><circle cx="824.4" cy="616.5" r="7"/><circle cx="778.9" cy="659.5" r="7"/><circle cx="344.2" cy="791.4" r="7"/><circle cx="1073.5" cy="481.9" r="7"/><circle cx="328.0" cy="276.1" r="7"/><circle cx="488.1" cy="318.9" r="7"/><circle cx="951.4" cy="645.4" r="7"/><circle cx="297.0" cy="474.2" r="7"/><circle cx="389.8" cy="706.7" r="7"/><circle cx="842.8" cy="621.1" r="7"/><circle cx="810.3" cy="747.0" r="7"/><circle cx="780.3" cy="618.5" r="7"/><circle cx="408.9" cy="249.0" r="7"/><circle cx="654.8" cy="232.6" r="7"/><circle cx="1009.1" cy="451.0" r="7"/><circle cx="580.9" cy="226.8" r="7"/><circle cx="864.4" cy="502.0" r="7"/><circle cx="428.9" cy="376.2" r="7"/><circle cx="509.9" cy="367.6" r="7"/><circle cx="435.6" cy="842.7" r="7"/><circle cx="815.8" cy="977.5" r="7"/><circle cx="358.0" cy="803.1" r="7"/><circle cx="787.6" cy="680.3" r="7"/><circle cx="700.3" cy="814.3" r="7"/><circle cx="636.3" cy="726.0" r="7"/><circle cx="618.5" cy="548.8" r="7"/><circle cx="889.3" cy="921.4" r="7"/><circle cx="886.6" cy="621.1" r="7"/><circle cx="409.9" cy="749.5" r="7"/><circle cx="557.5" cy="230.0" r="7"/><circle cx="362.5" cy="349.6" r="7"/><circle cx="830.8" cy="552.6" r="7"/><circle cx="610.7" cy="457.7" r="7"/><circle cx="630.1" cy="480.0" r="7"/><circle cx="835.8" cy="927.7" r="7"/><circle cx="908.6" cy="618.9" r="7"/><circle cx="379.1" cy="388.7" r="7"/><circle cx="357.4" cy="951.9" r="7"/><circle cx="795.4" cy="795.1" r="7"/><circle cx="742.4" cy="248.4" r="7"/><circle cx="462.5" cy="413.6" r="7"/><circle cx="280.0" cy="327.5" r="7"/><circle cx="666.6" cy="676.2" r="7"/><circle cx="729.3" cy="1017.3" r="7"/><circle cx="372.4" cy="828.6" r="7"/><circle cx="352.7" cy="549.3" r="7"/><circle cx="540.0" cy="217.5" r="7"/><circle cx="755.8" cy="246.9" r="7"/><circle cx="303.2" cy="371.8" r="7"/><circle cx="964.5" cy="329.8" r="7"/><circle cx="618.1" cy="497.0" r="7"/><circle cx="313.5" cy="341.3" r="7"/><circle cx="688.7" cy="876.1" r="7"/><circle cx="381.0" cy="940.1" r="7"/><circle cx="506.4" cy="785.6" r="7"/><circle cx="997.4" cy="475.5" r="7"/><circle cx="881.8" cy="327.2" r="7"/><circle cx="866.0" cy="494.1" r="7"/><circle cx="314.8" cy="302.2" r="7"/><circle cx="426.6" cy="794.3" r="7"/><circle cx="920.3" cy="516.5" r="7"/><circle cx="713.6" cy="473.6" r="7"/><circle cx="757.8" cy="771.7" r="7"/><circle cx="488.1" cy="302.6" r="7"/><circle cx="330.9" cy="454.8" r="7"/><circle cx="709.0" cy="760.7" r="7"/><circle cx="606.4" cy="216.4" r="7"/><circle cx="478.1" cy="299.9" r="7"/><circle cx="696.2" cy="961.3" r="7"/><circle cx="863.6" cy="505.8" r="7"/><circle cx="810.5" cy="820.2" r="7"/><circle cx="995.8" cy="306.5" r="7"/><circle cx="597.4" cy="457.9" r="7"/><circle cx="381.4" cy="722.7" r="7"/><circle cx="899.1" cy="604.7" r="7"/><circle cx="701.1" cy="872.2" r="7"/><circle cx="457.5" cy="221.3" r="7"/><circle cx="1009.5" cy="468.2" r="7"/><circle cx="342.9" cy="256.3" r="7"/><circle cx="605.7" cy="446.0" r="7"/><circle cx="1063.0" cy="371.2" r="7"/><circle cx="534.5" cy="891.6" r="7"/><circle cx="845.9" cy="614.1" r="7"/><circle cx="419.0" cy="271.3" r="7"/><circle cx="760.5" cy="289.0" r="7"/><circle cx="630.6" cy="518.6" r="7"/><circle cx="377.9" cy="442.1" r="7"/><circle cx="691.7" cy="360.9" r="7"/><circle cx="777.1" cy="682.0" r="7"/><circle cx="707.6" cy="755.3" r="7"/><circle cx="703.8" cy="857.5" r="7"/><circle cx="291.7" cy="458.9" r="7"/><circle cx="1069.2" cy="316.1" r="7"/><circle cx="782.4" cy="624.3" r="7"/><circle cx="689.9" cy="471.5" r="7"/><circle cx="356.2" cy="937.1" r="7"/><circle cx="263.4" cy="343.0" r="7"/><circle cx="501.7" cy="212.1" r="7"/><circle cx="268.9" cy="320.2" r="7"/><circle cx="714.1" cy="771.6" r="7"/><circle cx="948.7" cy="311.3" r="7"/><circle cx="592.7" cy="457.3" r="7"/><circle cx="798.9" cy="619.0" r="7"/><circle cx="812.4" cy="636.2" r="7"/><circle cx="384.1" cy="936.0" r="7"/><circle cx="649.3" cy="944.4" r="7"/><circle cx="854.4" cy="899.1" r="7"/><circle cx="854.4" cy="617.2" r="7"/><circle cx="301.3" cy="331.9" r="7"/><circle cx="263.8" cy="360.1" r="7"/><circle cx="226.5" cy="324.1" r="7"/><circle cx="509.5" cy="791.8" r="7"/><circle cx="611.7" cy="500.3" r="7"/><circle cx="481.0" cy="304.3" r="7"/><circle cx="317.7" cy="359.8" r="7"/><circle cx="889.1" cy="628.1" r="7"/><circle cx="694.0" cy="855.7" r="7"/><circle cx="830.7" cy="623.4" r="7"/><circle cx="913.6" cy="532.2" r="7"/><circle cx="802.6" cy="706.8" r="7"/><circle cx="583.7" cy="290.8" r="7"/><circle cx="411.5" cy="848.6" r="7"/><circle cx="606.4" cy="438.1" r="7"/><circle cx="903.2" cy="326.4" r="7"/><circle cx="931.1" cy="294.4" r="7"/><circle cx="742.0" cy="818.6" r="7"/><circle cx="929.8" cy="304.1" r="7"/><circle cx="968.3" cy="447.9" r="7"/><circle cx="787.0" cy="636.4" r="7"/><circle cx="827.1" cy="534.1" r="7"/><circle cx="410.8" cy="798.4" r="7"/><circle cx="746.1" cy="859.2" r="7"/><circle cx="559.8" cy="549.9" r="7"/><circle cx="251.8" cy="381.5" r="7"/><circle cx="620.0" cy="387.5" r="7"/><circle cx="768.2" cy="350.0" r="7"/><circle cx="504.0" cy="416.2" r="7"/><circle cx="516.5" cy="413.8" r="7"/><circle cx="1035.0" cy="373.8" r="7"/><circle cx="1086.2" cy="445.0" r="7"/><circle cx="1121.2" cy="499.5" r="7"/><circle cx="418.1" cy="743.8" r="7"/><circle cx="816.2" cy="510.0" r="7"/><circle cx="692.5" cy="581.2" r="7"/><circle cx="575.0" cy="693.8" r="7"/><circle cx="692.8" cy="581.6" r="7"/><circle cx="720.6" cy="466.6" r="7"/><circle cx="866.9" cy="416.9" r="7"/><circle cx="1057.5" cy="502.0" r="7"/><circle cx="915.0" cy="754.2" r="7"/><circle cx="342.5" cy="923.8" r="7"/><circle cx="705.0" cy="930.0" r="7"/><circle cx="721.2" cy="995.0" r="7"/></g><g fill="#a2cce2"><circle cx="835.3" cy="569.1" r="7"/><circle cx="898.3" cy="310.8" r="7"/><circle cx="526.8" cy="350.5" r="7"/><circle cx="726.2" cy="806.3" r="7"/><circle cx="402.1" cy="805.8" r="7"/><circle cx="519.3" cy="800.0" r="7"/><circle cx="540.7" cy="875.4" r="7"/><circle cx="533.8" cy="970.0" r="7"/><circle cx="424.0" cy="419.6" r="7"/><circle cx="626.4" cy="520.2" r="7"/><circle cx="722.6" cy="746.8" r="7"/><circle cx="782.8" cy="678.5" r="7"/><circle cx="470.4" cy="399.4" r="7"/><circle cx="407.9" cy="421.7" r="7"/><circle cx="798.6" cy="742.1" r="7"/><circle cx="1036.3" cy="284.3" r="7"/><circle cx="886.8" cy="928.6" r="7"/><circle cx="539.1" cy="1012.3" r="7"/><circle cx="1013.4" cy="459.2" r="7"/><circle cx="292.2" cy="350.8" r="7"/><circle cx="677.1" cy="988.5" r="7"/><circle cx="860.7" cy="576.2" r="7"/><circle cx="344.8" cy="826.5" r="7"/><circle cx="331.5" cy="576.8" r="7"/><circle cx="942.0" cy="791.0" r="7"/><circle cx="802.2" cy="740.5" r="7"/><circle cx="702.2" cy="226.3" r="7"/><circle cx="877.1" cy="531.5" r="7"/><circle cx="586.2" cy="937.2" r="7"/><circle cx="365.4" cy="938.5" r="7"/><circle cx="830.3" cy="489.1" r="7"/><circle cx="614.4" cy="432.7" r="7"/><circle cx="343.2" cy="263.4" r="7"/><circle cx="782.9" cy="683.5" r="7"/><circle cx="736.1" cy="246.3" r="7"/><circle cx="843.5" cy="903.1" r="7"/><circle cx="928.3" cy="319.8" r="7"/><circle cx="1101.4" cy="476.8" r="7"/><circle cx="847.9" cy="924.5" r="7"/><circle cx="615.5" cy="904.5" r="7"/><circle cx="593.4" cy="708.9" r="7"/><circle cx="997.1" cy="427.5" r="7"/><circle cx="870.9" cy="803.0" r="7"/><circle cx="416.0" cy="224.4" r="7"/><circle cx="674.0" cy="1001.7" r="7"/><circle cx="854.4" cy="627.1" r="7"/><circle cx="356.1" cy="954.5" r="7"/><circle cx="688.0" cy="754.9" r="7"/><circle cx="714.6" cy="764.9" r="7"/><circle cx="519.6" cy="767.5" r="7"/><circle cx="311.7" cy="438.2" r="7"/><circle cx="907.1" cy="327.5" r="7"/><circle cx="271.6" cy="333.6" r="7"/><circle cx="714.5" cy="280.6" r="7"/><circle cx="791.6" cy="485.2" r="7"/><circle cx="519.9" cy="215.4" r="7"/><circle cx="799.7" cy="735.1" r="7"/><circle cx="951.9" cy="410.7" r="7"/><circle cx="412.0" cy="228.3" r="7"/><circle cx="685.9" cy="864.3" r="7"/><circle cx="578.7" cy="435.2" r="7"/><circle cx="829.6" cy="748.3" r="7"/><circle cx="828.3" cy="948.6" r="7"/><circle cx="874.2" cy="925.2" r="7"/><circle cx="980.0" cy="326.4" r="7"/><circle cx="792.9" cy="806.7" r="7"/><circle cx="1022.7" cy="304.3" r="7"/><circle cx="1077.5" cy="478.0" r="7"/><circle cx="1064.6" cy="324.0" r="7"/><circle cx="714.0" cy="841.1" r="7"/><circle cx="289.7" cy="328.7" r="7"/><circle cx="1005.0" cy="448.2" r="7"/><circle cx="747.7" cy="899.6" r="7"/><circle cx="768.9" cy="685.8" r="7"/><circle cx="1017.3" cy="263.8" r="7"/><circle cx="564.3" cy="491.9" r="7"/><circle cx="840.1" cy="526.6" r="7"/><circle cx="512.0" cy="796.2" r="7"/><circle cx="737.6" cy="854.2" r="7"/><circle cx="412.9" cy="711.9" r="7"/><circle cx="396.6" cy="848.1" r="7"/><circle cx="628.7" cy="987.1" r="7"/><circle cx="426.5" cy="353.6" r="7"/><circle cx="514.8" cy="961.5" r="7"/><circle cx="575.4" cy="463.2" r="7"/><circle cx="228.9" cy="332.9" r="7"/><circle cx="561.0" cy="274.1" r="7"/><circle cx="286.8" cy="312.5" r="7"/><circle cx="1038.1" cy="326.9" r="7"/><circle cx="877.0" cy="546.8" r="7"/><circle cx="330.1" cy="315.5" r="7"/><circle cx="916.7" cy="526.8" r="7"/><circle cx="332.0" cy="568.0" r="7"/><circle cx="800.8" cy="921.2" r="7"/><circle cx="239.9" cy="317.0" r="7"/><circle cx="706.6" cy="1060.5" r="7"/><circle cx="836.4" cy="899.7" r="7"/><circle cx="538.8" cy="327.5" r="7"/><circle cx="657.4" cy="946.9" r="7"/><circle cx="517.4" cy="858.9" r="7"/><circle cx="220.1" cy="338.4" r="7"/><circle cx="767.7" cy="646.3" r="7"/><circle cx="524.1" cy="528.4" r="7"/><circle cx="481.5" cy="983.0" r="7"/><circle cx="684.9" cy="352.1" r="7"/><circle cx="454.5" cy="217.5" r="7"/><circle cx="364.7" cy="289.2" r="7"/><circle cx="793.1" cy="460.8" r="7"/><circle cx="698.9" cy="835.1" r="7"/><circle cx="703.7" cy="824.0" r="7"/><circle cx="697.5" cy="772.8" r="7"/><circle cx="853.9" cy="571.7" r="7"/><circle cx="369.8" cy="925.8" r="7"/><circle cx="370.3" cy="361.7" r="7"/><circle cx="493.5" cy="342.0" r="7"/><circle cx="970.9" cy="316.9" r="7"/><circle cx="800.3" cy="652.4" r="7"/><circle cx="312.3" cy="457.9" r="7"/><circle cx="880.5" cy="434.9" r="7"/><circle cx="744.8" cy="905.0" r="7"/><circle cx="746.4" cy="258.8" r="7"/><circle cx="438.7" cy="366.7" r="7"/><circle cx="869.3" cy="645.7" r="7"/><circle cx="308.5" cy="358.1" r="7"/><circle cx="977.4" cy="306.1" r="7"/><circle cx="447.6" cy="280.3" r="7"/><circle cx="881.1" cy="585.7" r="7"/><circle cx="370.1" cy="928.6" r="7"/><circle cx="372.2" cy="455.5" r="7"/><circle cx="776.2" cy="506.9" r="7"/><circle cx="518.9" cy="793.8" r="7"/><circle cx="357.1" cy="412.4" r="7"/><circle cx="706.3" cy="804.5" r="7"/><circle cx="658.9" cy="286.2" r="7"/><circle cx="780.6" cy="902.3" r="7"/><circle cx="796.4" cy="762.6" r="7"/><circle cx="387.6" cy="826.1" r="7"/><circle cx="372.4" cy="807.0" r="7"/><circle cx="734.4" cy="722.8" r="7"/><circle cx="750.3" cy="767.3" r="7"/><circle cx="883.1" cy="520.3" r="7"/><circle cx="745.2" cy="871.4" r="7"/><circle cx="463.5" cy="256.9" r="7"/><circle cx="659.7" cy="220.4" r="7"/><circle cx="426.4" cy="820.8" r="7"/><circle cx="827.8" cy="916.6" r="7"/><circle cx="334.0" cy="406.3" r="7"/><circle cx="836.9" cy="552.3" r="7"/><circle cx="853.5" cy="711.8" r="7"/><circle cx="350.3" cy="793.0" r="7"/><circle cx="796.4" cy="630.7" r="7"/><circle cx="891.3" cy="790.2" r="7"/><circle cx="833.8" cy="583.4" r="7"/><circle cx="759.0" cy="646.6" r="7"/><circle cx="351.2" cy="241.2" r="7"/><circle cx="885.5" cy="802.5" r="7"/><circle cx="500.1" cy="232.0" r="7"/><circle cx="828.5" cy="619.2" r="7"/><circle cx="1038.5" cy="330.1" r="7"/><circle cx="376.1" cy="784.1" r="7"/><circle cx="746.2" cy="667.5" r="7"/><circle cx="785.3" cy="625.8" r="7"/><circle cx="243.0" cy="318.1" r="7"/><circle cx="599.7" cy="406.9" r="7"/><circle cx="644.5" cy="458.2" r="7"/><circle cx="713.6" cy="881.6" r="7"/><circle cx="1057.7" cy="344.1" r="7"/><circle cx="777.7" cy="955.1" r="7"/><circle cx="597.3" cy="499.0" r="7"/><circle cx="793.9" cy="264.5" r="7"/><circle cx="335.2" cy="538.6" r="7"/><circle cx="893.2" cy="683.0" r="7"/><circle cx="669.1" cy="288.7" r="7"/><circle cx="285.5" cy="401.2" r="7"/><circle cx="997.0" cy="424.0" r="7"/><circle cx="648.5" cy="776.7" r="7"/><circle cx="587.5" cy="234.3" r="7"/><circle cx="794.3" cy="778.8" r="7"/><circle cx="803.4" cy="620.9" r="7"/><circle cx="497.2" cy="245.7" r="7"/><circle cx="590.3" cy="707.2" r="7"/><circle cx="293.9" cy="295.8" r="7"/><circle cx="857.9" cy="721.6" r="7"/><circle cx="510.5" cy="500.3" r="7"/><circle cx="360.6" cy="453.6" r="7"/><circle cx="503.9" cy="215.3" r="7"/><circle cx="823.5" cy="703.0" r="7"/><circle cx="922.9" cy="593.1" r="7"/><circle cx="887.2" cy="500.0" r="7"/><circle cx="791.8" cy="629.0" r="7"/><circle cx="880.6" cy="352.2" r="7"/><circle cx="1067.5" cy="405.0" r="7"/><circle cx="1086.2" cy="445.0" r="7"/><circle cx="647.2" cy="626.2" r="7"/><circle cx="853.2" cy="455.3" r="7"/><circle cx="984.7" cy="494.4" r="7"/><circle cx="983.8" cy="495.0" r="7"/><circle cx="1121.2" cy="500.0" r="7"/><circle cx="408.2" cy="913.0" r="7"/><circle cx="330.0" cy="922.0" r="7"/><circle cx="348.0" cy="923.8" r="7"/><circle cx="355.0" cy="923.0" r="7"/></g><g fill="#abd1e5"><circle cx="856.2" cy="805.1" r="7"/><circle cx="796.3" cy="893.2" r="7"/><circle cx="945.7" cy="310.1" r="7"/><circle cx="808.6" cy="923.6" r="7"/><circle cx="411.5" cy="854.8" r="7"/><circle cx="1022.9" cy="309.2" r="7"/><circle cx="393.3" cy="388.9" r="7"/><circle cx="789.0" cy="310.7" r="7"/><circle cx="446.2" cy="316.7" r="7"/><circle cx="648.9" cy="976.6" r="7"/><circle cx="664.8" cy="227.3" r="7"/><circle cx="866.4" cy="652.2" r="7"/><circle cx="380.4" cy="279.0" r="7"/><circle cx="541.5" cy="199.8" r="7"/><circle cx="570.5" cy="210.6" r="7"/><circle cx="661.6" cy="290.6" r="7"/><circle cx="865.3" cy="931.1" r="7"/><circle cx="555.1" cy="922.2" r="7"/><circle cx="298.3" cy="414.8" r="7"/><circle cx="735.9" cy="239.0" r="7"/><circle cx="763.3" cy="814.0" r="7"/><circle cx="783.0" cy="651.2" r="7"/><circle cx="859.3" cy="854.1" r="7"/><circle cx="1012.4" cy="465.0" r="7"/><circle cx="659.5" cy="239.0" r="7"/><circle cx="842.6" cy="910.1" r="7"/><circle cx="1046.6" cy="293.8" r="7"/><circle cx="626.1" cy="739.3" r="7"/><circle cx="1106.6" cy="483.0" r="7"/><circle cx="390.9" cy="408.1" r="7"/><circle cx="665.4" cy="944.6" r="7"/><circle cx="564.2" cy="220.6" r="7"/><circle cx="392.2" cy="378.5" r="7"/><circle cx="534.7" cy="217.6" r="7"/><circle cx="989.2" cy="322.9" r="7"/><circle cx="1024.7" cy="446.6" r="7"/><circle cx="698.5" cy="990.3" r="7"/><circle cx="604.3" cy="959.8" r="7"/><circle cx="1054.7" cy="347.3" r="7"/><circle cx="642.5" cy="733.4" r="7"/><circle cx="537.4" cy="806.0" r="7"/><circle cx="422.2" cy="715.6" r="7"/><circle cx="525.1" cy="767.0" r="7"/><circle cx="821.5" cy="624.3" r="7"/><circle cx="895.9" cy="657.4" r="7"/><circle cx="719.7" cy="709.4" r="7"/><circle cx="641.5" cy="912.0" r="7"/><circle cx="614.0" cy="216.8" r="7"/><circle cx="531.0" cy="773.8" r="7"/><circle cx="663.0" cy="690.0" r="7"/><circle cx="656.2" cy="723.1" r="7"/><circle cx="559.2" cy="297.5" r="7"/><circle cx="305.7" cy="391.3" r="7"/><circle cx="1019.5" cy="309.6" r="7"/><circle cx="635.3" cy="284.9" r="7"/><circle cx="282.7" cy="315.6" r="7"/><circle cx="781.1" cy="938.8" r="7"/><circle cx="1067.2" cy="338.6" r="7"/><circle cx="657.8" cy="758.0" r="7"/><circle cx="824.8" cy="494.4" r="7"/><circle cx="543.9" cy="224.2" r="7"/><circle cx="705.5" cy="740.7" r="7"/><circle cx="388.1" cy="821.7" r="7"/><circle cx="970.1" cy="326.4" r="7"/><circle cx="1054.9" cy="352.8" r="7"/><circle cx="369.9" cy="944.3" r="7"/><circle cx="865.9" cy="577.2" r="7"/><circle cx="696.5" cy="865.2" r="7"/><circle cx="407.7" cy="850.6" r="7"/><circle cx="577.3" cy="241.3" r="7"/><circle cx="774.3" cy="496.5" r="7"/><circle cx="415.7" cy="388.7" r="7"/><circle cx="652.7" cy="220.9" r="7"/><circle cx="334.2" cy="296.5" r="7"/><circle cx="1058.6" cy="431.6" r="7"/><circle cx="238.3" cy="321.6" r="7"/><circle cx="579.5" cy="290.0" r="7"/><circle cx="633.9" cy="748.7" r="7"/><circle cx="437.9" cy="352.8" r="7"/><circle cx="558.8" cy="197.3" r="7"/><circle cx="728.5" cy="855.1" r="7"/><circle cx="521.8" cy="349.9" r="7"/><circle cx="361.5" cy="800.2" r="7"/><circle cx="437.9" cy="219.7" r="7"/><circle cx="696.9" cy="357.2" r="7"/><circle cx="230.1" cy="325.7" r="7"/><circle cx="667.8" cy="984.2" r="7"/><circle cx="508.1" cy="266.3" r="7"/><circle cx="716.5" cy="749.4" r="7"/><circle cx="398.5" cy="710.5" r="7"/><circle cx="519.8" cy="776.2" r="7"/><circle cx="644.5" cy="327.3" r="7"/><circle cx="529.3" cy="798.7" r="7"/><circle cx="371.7" cy="536.5" r="7"/><circle cx="661.6" cy="944.4" r="7"/><circle cx="903.9" cy="308.8" r="7"/><circle cx="838.2" cy="950.2" r="7"/><circle cx="539.2" cy="310.1" r="7"/><circle cx="770.0" cy="544.5" r="7"/><circle cx="889.4" cy="489.6" r="7"/><circle cx="711.8" cy="853.9" r="7"/><circle cx="816.7" cy="971.9" r="7"/><circle cx="725.3" cy="229.8" r="7"/><circle cx="779.0" cy="649.5" r="7"/><circle cx="684.5" cy="414.5" r="7"/><circle cx="562.4" cy="271.3" r="7"/><circle cx="428.1" cy="409.8" r="7"/><circle cx="548.2" cy="199.4" r="7"/><circle cx="356.7" cy="933.2" r="7"/><circle cx="839.3" cy="802.5" r="7"/><circle cx="841.9" cy="576.3" r="7"/><circle cx="785.9" cy="508.3" r="7"/><circle cx="352.8" cy="297.9" r="7"/><circle cx="675.3" cy="350.9" r="7"/><circle cx="1019.8" cy="272.6" r="7"/><circle cx="602.5" cy="953.7" r="7"/><circle cx="477.4" cy="239.9" r="7"/><circle cx="780.1" cy="863.7" r="7"/><circle cx="870.4" cy="859.0" r="7"/><circle cx="757.6" cy="805.5" r="7"/><circle cx="625.2" cy="942.5" r="7"/><circle cx="888.8" cy="648.4" r="7"/><circle cx="467.3" cy="322.9" r="7"/><circle cx="702.8" cy="700.0" r="7"/><circle cx="248.6" cy="311.0" r="7"/><circle cx="547.7" cy="886.5" r="7"/><circle cx="1013.3" cy="275.8" r="7"/><circle cx="523.3" cy="773.2" r="7"/><circle cx="741.1" cy="902.8" r="7"/><circle cx="419.4" cy="402.1" r="7"/><circle cx="508.7" cy="513.1" r="7"/><circle cx="660.8" cy="963.7" r="7"/><circle cx="776.0" cy="613.4" r="7"/><circle cx="779.1" cy="673.0" r="7"/><circle cx="454.8" cy="310.2" r="7"/><circle cx="596.4" cy="481.0" r="7"/><circle cx="225.3" cy="339.6" r="7"/><circle cx="315.6" cy="375.0" r="7"/><circle cx="829.6" cy="538.4" r="7"/><circle cx="1003.9" cy="462.2" r="7"/><circle cx="359.7" cy="467.2" r="7"/><circle cx="286.6" cy="391.1" r="7"/><circle cx="766.7" cy="501.5" r="7"/><circle cx="842.3" cy="514.3" r="7"/><circle cx="748.7" cy="238.2" r="7"/><circle cx="768.4" cy="293.9" r="7"/><circle cx="510.0" cy="493.2" r="7"/><circle cx="895.2" cy="327.3" r="7"/><circle cx="801.9" cy="660.3" r="7"/><circle cx="898.9" cy="808.7" r="7"/><circle cx="705.3" cy="671.6" r="7"/><circle cx="660.8" cy="932.0" r="7"/><circle cx="787.7" cy="485.6" r="7"/><circle cx="984.1" cy="322.0" r="7"/><circle cx="352.6" cy="832.8" r="7"/><circle cx="571.0" cy="250.9" r="7"/><circle cx="883.6" cy="946.3" r="7"/><circle cx="515.2" cy="991.7" r="7"/><circle cx="591.3" cy="1008.7" r="7"/><circle cx="326.5" cy="453.4" r="7"/><circle cx="778.6" cy="296.2" r="7"/><circle cx="445.6" cy="242.8" r="7"/><circle cx="1036.6" cy="272.2" r="7"/><circle cx="1062.7" cy="481.5" r="7"/><circle cx="863.7" cy="429.8" r="7"/><circle cx="480.7" cy="259.7" r="7"/><circle cx="703.3" cy="794.8" r="7"/><circle cx="355.6" cy="287.1" r="7"/><circle cx="284.7" cy="293.7" r="7"/><circle cx="397.9" cy="722.1" r="7"/><circle cx="398.2" cy="451.0" r="7"/><circle cx="1025.3" cy="319.5" r="7"/><circle cx="501.4" cy="286.6" r="7"/><circle cx="774.4" cy="630.5" r="7"/><circle cx="641.5" cy="963.3" r="7"/><circle cx="586.7" cy="942.7" r="7"/><circle cx="821.5" cy="919.6" r="7"/><circle cx="1089.7" cy="481.4" r="7"/><circle cx="756.1" cy="263.4" r="7"/><circle cx="1035.3" cy="287.4" r="7"/><circle cx="517.6" cy="209.7" r="7"/><circle cx="546.2" cy="914.9" r="7"/><circle cx="543.3" cy="229.5" r="7"/><circle cx="391.8" cy="709.8" r="7"/><circle cx="557.8" cy="191.9" r="7"/><circle cx="355.2" cy="927.1" r="7"/><circle cx="750.6" cy="654.1" r="7"/><circle cx="381.2" cy="516.0" r="7"/><circle cx="226.9" cy="462.5" r="7"/><circle cx="220.0" cy="357.0" r="7"/><circle cx="785.0" cy="368.8" r="7"/><circle cx="942.5" cy="351.2" r="7"/><circle cx="984.5" cy="494.5" r="7"/></g><g fill="#b3d6e8"><circle cx="1051.7" cy="327.0" r="7"/><circle cx="369.2" cy="934.5" r="7"/><circle cx="948.7" cy="794.2" r="7"/><circle cx="292.8" cy="359.5" r="7"/><circle cx="785.8" cy="902.3" r="7"/><circle cx="673.8" cy="342.1" r="7"/><circle cx="293.2" cy="455.9" r="7"/><circle cx="351.5" cy="340.1" r="7"/><circle cx="583.8" cy="891.4" r="7"/><circle cx="387.5" cy="710.6" r="7"/><circle cx="954.6" cy="784.0" r="7"/><circle cx="917.1" cy="337.9" r="7"/><circle cx="552.2" cy="325.5" r="7"/><circle cx="824.2" cy="941.0" r="7"/><circle cx="348.4" cy="312.5" r="7"/><circle cx="701.3" cy="726.2" r="7"/><circle cx="440.9" cy="371.6" r="7"/><circle cx="619.7" cy="723.4" r="7"/><circle cx="820.3" cy="764.9" r="7"/><circle cx="414.9" cy="799.4" r="7"/><circle cx="803.7" cy="632.3" r="7"/><circle cx="1076.1" cy="464.2" r="7"/><circle cx="842.9" cy="485.9" r="7"/><circle cx="565.1" cy="262.1" r="7"/><circle cx="777.5" cy="737.3" r="7"/><circle cx="422.2" cy="853.6" r="7"/><circle cx="375.7" cy="269.8" r="7"/><circle cx="319.0" cy="378.8" r="7"/><circle cx="366.9" cy="729.6" r="7"/><circle cx="497.9" cy="362.6" r="7"/><circle cx="1014.0" cy="282.3" r="7"/><circle cx="1080.2" cy="503.3" r="7"/><circle cx="468.8" cy="237.2" r="7"/><circle cx="781.0" cy="779.1" r="7"/><circle cx="732.2" cy="232.6" r="7"/><circle cx="372.8" cy="347.9" r="7"/><circle cx="709.7" cy="775.9" r="7"/><circle cx="939.3" cy="432.7" r="7"/><circle cx="723.5" cy="258.8" r="7"/><circle cx="784.9" cy="705.6" r="7"/><circle cx="348.9" cy="344.5" r="7"/><circle cx="1108.3" cy="492.6" r="7"/><circle cx="783.7" cy="799.2" r="7"/><circle cx="236.6" cy="316.5" r="7"/><circle cx="353.4" cy="345.7" r="7"/><circle cx="803.6" cy="712.2" r="7"/><circle cx="779.4" cy="489.3" r="7"/><circle cx="969.9" cy="331.9" r="7"/><circle cx="764.8" cy="540.8" r="7"/><circle cx="361.8" cy="568.4" r="7"/><circle cx="411.4" cy="716.7" r="7"/><circle cx="633.5" cy="723.8" r="7"/><circle cx="712.3" cy="238.7" r="7"/><circle cx="423.9" cy="857.3" r="7"/><circle cx="772.7" cy="525.9" r="7"/><circle cx="908.3" cy="519.9" r="7"/><circle cx="575.7" cy="442.1" r="7"/><circle cx="492.2" cy="312.8" r="7"/><circle cx="707.0" cy="479.6" r="7"/><circle cx="865.1" cy="935.5" r="7"/><circle cx="681.6" cy="745.5" r="7"/><circle cx="376.8" cy="535.0" r="7"/><circle cx="414.0" cy="541.0" r="7"/><circle cx="691.3" cy="347.0" r="7"/><circle cx="572.3" cy="405.9" r="7"/><circle cx="330.8" cy="288.6" r="7"/><circle cx="662.7" cy="970.7" r="7"/><circle cx="934.9" cy="312.2" r="7"/><circle cx="544.1" cy="356.0" r="7"/><circle cx="505.8" cy="951.5" r="7"/><circle cx="853.3" cy="512.8" r="7"/><circle cx="870.0" cy="328.3" r="7"/><circle cx="419.3" cy="364.3" r="7"/><circle cx="322.2" cy="428.1" r="7"/><circle cx="383.4" cy="350.7" r="7"/><circle cx="347.6" cy="577.6" r="7"/><circle cx="613.6" cy="271.6" r="7"/><circle cx="399.5" cy="327.7" r="7"/><circle cx="912.2" cy="784.1" r="7"/><circle cx="828.3" cy="930.2" r="7"/><circle cx="684.9" cy="832.2" r="7"/><circle cx="1038.9" cy="312.9" r="7"/><circle cx="502.7" cy="243.7" r="7"/><circle cx="1066.4" cy="327.8" r="7"/><circle cx="326.6" cy="281.4" r="7"/><circle cx="776.9" cy="493.7" r="7"/><circle cx="1027.7" cy="448.1" r="7"/><circle cx="716.9" cy="1056.1" r="7"/><circle cx="1048.4" cy="437.2" r="7"/><circle cx="711.1" cy="705.6" r="7"/><circle cx="666.3" cy="216.5" r="7"/><circle cx="519.3" cy="967.9" r="7"/><circle cx="652.8" cy="972.1" r="7"/><circle cx="838.0" cy="564.2" r="7"/><circle cx="389.9" cy="385.6" r="7"/><circle cx="426.4" cy="422.6" r="7"/><circle cx="501.2" cy="360.5" r="7"/><circle cx="812.3" cy="938.7" r="7"/><circle cx="258.0" cy="301.2" r="7"/><circle cx="678.6" cy="996.9" r="7"/><circle cx="1024.5" cy="286.6" r="7"/><circle cx="716.6" cy="1017.1" r="7"/><circle cx="325.3" cy="298.7" r="7"/><circle cx="648.7" cy="321.4" r="7"/><circle cx="595.7" cy="863.4" r="7"/><circle cx="541.7" cy="211.5" r="7"/><circle cx="1060.5" cy="504.1" r="7"/><circle cx="900.0" cy="438.8" r="7"/><circle cx="364.7" cy="451.2" r="7"/><circle cx="992.0" cy="315.3" r="7"/><circle cx="821.1" cy="726.2" r="7"/><circle cx="713.0" cy="234.9" r="7"/><circle cx="565.1" cy="557.5" r="7"/><circle cx="846.9" cy="933.9" r="7"/><circle cx="684.1" cy="708.8" r="7"/><circle cx="852.0" cy="938.1" r="7"/><circle cx="1053.2" cy="362.4" r="7"/><circle cx="821.5" cy="807.0" r="7"/><circle cx="492.0" cy="389.7" r="7"/><circle cx="1063.5" cy="463.8" r="7"/><circle cx="364.3" cy="824.1" r="7"/><circle cx="442.0" cy="323.9" r="7"/><circle cx="524.5" cy="358.4" r="7"/><circle cx="630.8" cy="1005.5" r="7"/><circle cx="508.3" cy="859.5" r="7"/><circle cx="825.6" cy="498.2" r="7"/><circle cx="892.6" cy="584.0" r="7"/><circle cx="1065.6" cy="373.4" r="7"/><circle cx="726.9" cy="866.9" r="7"/><circle cx="1004.1" cy="827.6" r="7"/><circle cx="330.0" cy="573.5" r="7"/><circle cx="536.6" cy="1020.1" r="7"/><circle cx="805.7" cy="768.8" r="7"/><circle cx="390.0" cy="794.6" r="7"/><circle cx="595.0" cy="906.6" r="7"/><circle cx="764.5" cy="302.1" r="7"/><circle cx="747.2" cy="441.4" r="7"/><circle cx="430.6" cy="378.8" r="7"/><circle cx="572.3" cy="478.8" r="7"/><circle cx="987.2" cy="440.6" r="7"/><circle cx="768.5" cy="541.5" r="7"/><circle cx="929.0" cy="427.5" r="7"/><circle cx="897.2" cy="519.7" r="7"/><circle cx="836.4" cy="586.4" r="7"/><circle cx="357.1" cy="514.7" r="7"/><circle cx="902.9" cy="616.8" r="7"/><circle cx="749.1" cy="516.8" r="7"/><circle cx="249.6" cy="306.4" r="7"/><circle cx="368.8" cy="827.8" r="7"/><circle cx="573.4" cy="229.3" r="7"/><circle cx="524.3" cy="512.2" r="7"/><circle cx="690.5" cy="418.4" r="7"/><circle cx="631.6" cy="902.9" r="7"/><circle cx="1100.8" cy="488.3" r="7"/><circle cx="814.1" cy="821.5" r="7"/><circle cx="947.5" cy="412.0" r="7"/><circle cx="423.0" cy="796.3" r="7"/><circle cx="817.9" cy="614.0" r="7"/><circle cx="599.5" cy="488.5" r="7"/><circle cx="399.9" cy="455.9" r="7"/><circle cx="359.6" cy="473.5" r="7"/><circle cx="802.4" cy="926.7" r="7"/><circle cx="607.5" cy="534.2" r="7"/><circle cx="688.8" cy="377.8" r="7"/><circle cx="481.3" cy="400.1" r="7"/><circle cx="431.6" cy="351.1" r="7"/><circle cx="755.2" cy="691.9" r="7"/><circle cx="756.9" cy="875.4" r="7"/><circle cx="944.4" cy="404.8" r="7"/><circle cx="534.9" cy="774.2" r="7"/><circle cx="781.7" cy="534.4" r="7"/><circle cx="834.5" cy="919.2" r="7"/><circle cx="547.5" cy="292.2" r="7"/><circle cx="537.8" cy="345.0" r="7"/><circle cx="629.9" cy="484.4" r="7"/><circle cx="356.3" cy="364.9" r="7"/><circle cx="947.3" cy="438.5" r="7"/><circle cx="724.3" cy="322.8" r="7"/><circle cx="336.4" cy="321.8" r="7"/><circle cx="623.0" cy="542.5" r="7"/><circle cx="573.6" cy="298.0" r="7"/><circle cx="855.9" cy="932.8" r="7"/><circle cx="1087.9" cy="489.5" r="7"/><circle cx="957.3" cy="325.8" r="7"/><circle cx="359.1" cy="566.3" r="7"/><circle cx="848.3" cy="636.7" r="7"/><circle cx="352.4" cy="413.0" r="7"/><circle cx="637.5" cy="481.0" r="7"/><circle cx="770.8" cy="632.9" r="7"/><circle cx="907.0" cy="439.0" r="7"/><circle cx="538.3" cy="374.3" r="7"/><circle cx="856.1" cy="873.4" r="7"/><circle cx="304.9" cy="387.0" r="7"/><circle cx="822.3" cy="831.1" r="7"/><circle cx="850.7" cy="927.6" r="7"/><circle cx="766.1" cy="534.4" r="7"/><circle cx="586.8" cy="456.5" r="7"/><circle cx="399.0" cy="251.7" r="7"/><circle cx="788.7" cy="306.7" r="7"/><circle cx="737.1" cy="821.2" r="7"/><circle cx="379.4" cy="424.6" r="7"/><circle cx="710.8" cy="253.8" r="7"/><circle cx="652.9" cy="872.3" r="7"/><circle cx="840.0" cy="932.6" r="7"/><circle cx="585.0" cy="300.7" r="7"/><circle cx="729.3" cy="226.4" r="7"/><circle cx="404.4" cy="780.3" r="7"/><circle cx="781.6" cy="639.8" r="7"/><circle cx="672.1" cy="870.0" r="7"/><circle cx="434.2" cy="805.8" r="7"/><circle cx="311.2" cy="515.9" r="7"/><circle cx="844.1" cy="799.2" r="7"/><circle cx="549.7" cy="952.6" r="7"/><circle cx="298.8" cy="910.7" r="7"/><circle cx="1102.7" cy="485.7" r="7"/><circle cx="708.0" cy="874.7" r="7"/><circle cx="770.3" cy="623.5" r="7"/><circle cx="671.5" cy="742.0" r="7"/><circle cx="556.6" cy="268.2" r="7"/><circle cx="1068.2" cy="366.8" r="7"/><circle cx="277.1" cy="359.8" r="7"/><circle cx="400.3" cy="763.7" r="7"/><circle cx="220.3" cy="357.5" r="7"/><circle cx="208.1" cy="383.8" r="7"/><circle cx="225.9" cy="384.7" r="7"/><circle cx="212.8" cy="392.2" r="7"/><circle cx="265.3" cy="403.4" r="7"/><circle cx="224.1" cy="425.0" r="7"/><circle cx="220.3" cy="432.5" r="7"/><circle cx="219.4" cy="458.8" r="7"/><circle cx="585.0" cy="352.0" r="7"/><circle cx="740.0" cy="377.5" r="7"/><circle cx="741.2" cy="400.0" r="7"/><circle cx="1046.2" cy="411.2" r="7"/><circle cx="1028.2" cy="418.0" r="7"/><circle cx="1028.2" cy="418.2" r="7"/><circle cx="1081.2" cy="512.5" r="7"/><circle cx="433.8" cy="543.0" r="7"/><circle cx="441.2" cy="644.2" r="7"/><circle cx="817.5" cy="588.8" r="7"/><circle cx="676.2" cy="561.2" r="7"/><circle cx="696.2" cy="578.8" r="7"/><circle cx="415.0" cy="928.8" r="7"/><circle cx="512.5" cy="862.5" r="7"/></g><g fill="#bad9ea"><circle cx="764.4" cy="499.4" r="7"/><circle cx="739.7" cy="241.4" r="7"/><circle cx="284.2" cy="357.1" r="7"/><circle cx="820.8" cy="434.0" r="7"/><circle cx="706.2" cy="732.5" r="7"/><circle cx="392.6" cy="425.5" r="7"/><circle cx="606.3" cy="913.8" r="7"/><circle cx="911.3" cy="606.1" r="7"/><circle cx="762.2" cy="787.9" r="7"/><circle cx="951.9" cy="429.8" r="7"/><circle cx="624.2" cy="220.1" r="7"/><circle cx="851.2" cy="434.5" r="7"/><circle cx="663.5" cy="861.9" r="7"/><circle cx="774.2" cy="756.4" r="7"/><circle cx="625.8" cy="267.7" r="7"/><circle cx="861.5" cy="498.8" r="7"/><circle cx="630.4" cy="457.5" r="7"/><circle cx="374.0" cy="436.0" r="7"/><circle cx="881.4" cy="320.3" r="7"/><circle cx="1022.0" cy="319.1" r="7"/><circle cx="455.2" cy="227.7" r="7"/><circle cx="734.1" cy="450.9" r="7"/><circle cx="661.0" cy="837.0" r="7"/><circle cx="595.0" cy="235.2" r="7"/><circle cx="716.3" cy="853.6" r="7"/><circle cx="453.0" cy="220.6" r="7"/><circle cx="917.2" cy="914.5" r="7"/><circle cx="375.7" cy="826.7" r="7"/><circle cx="311.2" cy="418.7" r="7"/><circle cx="605.4" cy="811.3" r="7"/><circle cx="769.6" cy="301.6" r="7"/><circle cx="804.2" cy="840.8" r="7"/><circle cx="802.1" cy="771.2" r="7"/><circle cx="777.7" cy="889.8" r="7"/><circle cx="841.1" cy="530.8" r="7"/><circle cx="621.7" cy="474.9" r="7"/><circle cx="355.7" cy="320.7" r="7"/><circle cx="602.8" cy="939.6" r="7"/><circle cx="813.6" cy="919.9" r="7"/><circle cx="338.9" cy="387.9" r="7"/><circle cx="453.6" cy="257.8" r="7"/><circle cx="375.9" cy="934.2" r="7"/><circle cx="843.3" cy="551.9" r="7"/><circle cx="319.9" cy="392.1" r="7"/><circle cx="630.5" cy="525.9" r="7"/><circle cx="824.7" cy="434.2" r="7"/><circle cx="1048.2" cy="451.3" r="7"/><circle cx="413.7" cy="232.4" r="7"/><circle cx="805.4" cy="724.1" r="7"/><circle cx="766.0" cy="741.8" r="7"/><circle cx="543.0" cy="544.4" r="7"/><circle cx="735.6" cy="869.9" r="7"/><circle cx="372.9" cy="265.3" r="7"/><circle cx="663.5" cy="974.8" r="7"/><circle cx="567.2" cy="906.6" r="7"/><circle cx="985.6" cy="460.9" r="7"/><circle cx="443.4" cy="247.0" r="7"/><circle cx="669.2" cy="479.1" r="7"/><circle cx="684.4" cy="766.5" r="7"/><circle cx="672.7" cy="489.1" r="7"/><circle cx="278.4" cy="310.9" r="7"/><circle cx="1060.2" cy="365.7" r="7"/><circle cx="724.3" cy="888.5" r="7"/><circle cx="845.1" cy="439.8" r="7"/><circle cx="600.0" cy="899.5" r="7"/><circle cx="630.8" cy="847.5" r="7"/><circle cx="951.8" cy="424.7" r="7"/><circle cx="536.0" cy="967.0" r="7"/><circle cx="591.2" cy="926.1" r="7"/><circle cx="658.5" cy="493.9" r="7"/><circle cx="622.6" cy="257.6" r="7"/><circle cx="759.4" cy="743.2" r="7"/><circle cx="385.7" cy="445.3" r="7"/><circle cx="860.7" cy="580.5" r="7"/><circle cx="684.2" cy="941.4" r="7"/><circle cx="538.8" cy="455.6" r="7"/><circle cx="371.3" cy="272.5" r="7"/><circle cx="851.2" cy="507.6" r="7"/><circle cx="530.6" cy="352.8" r="7"/><circle cx="771.2" cy="503.8" r="7"/><circle cx="702.0" cy="229.9" r="7"/><circle cx="414.6" cy="859.7" r="7"/><circle cx="620.6" cy="465.9" r="7"/><circle cx="849.1" cy="523.5" r="7"/><circle cx="361.7" cy="327.3" r="7"/><circle cx="739.4" cy="873.7" r="7"/><circle cx="375.4" cy="489.8" r="7"/><circle cx="404.2" cy="445.9" r="7"/><circle cx="654.2" cy="329.2" r="7"/><circle cx="676.0" cy="962.1" r="7"/><circle cx="441.7" cy="422.8" r="7"/><circle cx="570.7" cy="892.3" r="7"/><circle cx="397.1" cy="332.6" r="7"/><circle cx="657.5" cy="706.0" r="7"/><circle cx="525.5" cy="559.1" r="7"/><circle cx="1007.3" cy="814.9" r="7"/><circle cx="791.3" cy="863.9" r="7"/><circle cx="786.3" cy="616.6" r="7"/><circle cx="597.5" cy="425.2" r="7"/><circle cx="637.7" cy="869.2" r="7"/><circle cx="776.2" cy="655.7" r="7"/><circle cx="647.8" cy="467.8" r="7"/><circle cx="491.3" cy="295.1" r="7"/><circle cx="746.4" cy="827.2" r="7"/><circle cx="560.0" cy="875.4" r="7"/><circle cx="861.2" cy="373.1" r="7"/><circle cx="1102.9" cy="495.8" r="7"/><circle cx="910.8" cy="491.8" r="7"/><circle cx="295.1" cy="908.6" r="7"/><circle cx="603.3" cy="1013.4" r="7"/><circle cx="875.0" cy="940.1" r="7"/><circle cx="861.8" cy="908.9" r="7"/><circle cx="374.2" cy="584.2" r="7"/><circle cx="460.8" cy="222.8" r="7"/><circle cx="871.9" cy="499.7" r="7"/><circle cx="667.4" cy="492.1" r="7"/><circle cx="896.0" cy="502.0" r="7"/><circle cx="661.4" cy="483.0" r="7"/><circle cx="345.9" cy="436.8" r="7"/><circle cx="702.3" cy="885.9" r="7"/><circle cx="268.2" cy="300.9" r="7"/><circle cx="695.5" cy="1016.6" r="7"/><circle cx="418.8" cy="848.1" r="7"/><circle cx="397.9" cy="353.4" r="7"/><circle cx="427.9" cy="851.5" r="7"/><circle cx="661.9" cy="234.2" r="7"/><circle cx="1021.5" cy="434.7" r="7"/><circle cx="624.4" cy="1004.2" r="7"/><circle cx="792.2" cy="309.8" r="7"/><circle cx="424.5" cy="229.1" r="7"/><circle cx="448.9" cy="402.3" r="7"/><circle cx="1080.7" cy="496.0" r="7"/><circle cx="453.3" cy="368.6" r="7"/><circle cx="1060.6" cy="439.2" r="7"/><circle cx="1090.0" cy="486.1" r="7"/><circle cx="724.6" cy="880.6" r="7"/><circle cx="532.2" cy="292.0" r="7"/><circle cx="456.6" cy="390.7" r="7"/><circle cx="928.4" cy="818.2" r="7"/><circle cx="1005.7" cy="479.8" r="7"/><circle cx="998.0" cy="434.7" r="7"/><circle cx="770.0" cy="872.0" r="7"/><circle cx="584.1" cy="401.4" r="7"/><circle cx="572.2" cy="467.1" r="7"/><circle cx="365.8" cy="753.3" r="7"/><circle cx="549.7" cy="893.6" r="7"/><circle cx="798.8" cy="850.3" r="7"/><circle cx="612.5" cy="440.5" r="7"/><circle cx="742.6" cy="238.6" r="7"/><circle cx="721.2" cy="890.3" r="7"/><circle cx="380.1" cy="793.7" r="7"/><circle cx="573.0" cy="962.3" r="7"/><circle cx="781.7" cy="958.5" r="7"/><circle cx="937.5" cy="396.5" r="7"/><circle cx="623.5" cy="935.6" r="7"/><circle cx="553.0" cy="446.6" r="7"/><circle cx="944.4" cy="808.4" r="7"/><circle cx="828.6" cy="496.6" r="7"/><circle cx="536.5" cy="212.3" r="7"/><circle cx="528.6" cy="553.6" r="7"/><circle cx="691.3" cy="766.9" r="7"/><circle cx="905.6" cy="790.5" r="7"/><circle cx="287.4" cy="445.4" r="7"/><circle cx="566.6" cy="852.8" r="7"/><circle cx="1084.7" cy="490.2" r="7"/><circle cx="824.1" cy="621.1" r="7"/><circle cx="598.0" cy="226.8" r="7"/><circle cx="750.1" cy="512.9" r="7"/><circle cx="439.3" cy="328.8" r="7"/><circle cx="356.3" cy="317.4" r="7"/><circle cx="829.9" cy="529.7" r="7"/><circle cx="648.2" cy="921.7" r="7"/><circle cx="893.4" cy="517.9" r="7"/><circle cx="688.8" cy="341.0" r="7"/><circle cx="724.8" cy="1018.6" r="7"/><circle cx="874.7" cy="497.3" r="7"/><circle cx="382.0" cy="497.9" r="7"/><circle cx="748.0" cy="853.9" r="7"/><circle cx="384.0" cy="265.4" r="7"/><circle cx="921.5" cy="441.1" r="7"/><circle cx="961.4" cy="308.0" r="7"/><circle cx="401.7" cy="400.0" r="7"/><circle cx="359.5" cy="724.2" r="7"/><circle cx="945.8" cy="791.9" r="7"/><circle cx="943.4" cy="799.4" r="7"/><circle cx="395.1" cy="260.3" r="7"/><circle cx="568.0" cy="240.3" r="7"/><circle cx="351.5" cy="356.1" r="7"/><circle cx="590.7" cy="453.0" r="7"/><circle cx="451.5" cy="364.4" r="7"/><circle cx="527.7" cy="870.7" r="7"/><circle cx="437.1" cy="347.0" r="7"/><circle cx="549.1" cy="284.8" r="7"/><circle cx="352.1" cy="399.9" r="7"/><circle cx="997.6" cy="298.6" r="7"/><circle cx="375.9" cy="572.2" r="7"/><circle cx="761.9" cy="295.4" r="7"/><circle cx="767.2" cy="805.5" r="7"/><circle cx="435.8" cy="397.4" r="7"/><circle cx="292.5" cy="478.4" r="7"/><circle cx="903.1" cy="646.8" r="7"/><circle cx="894.0" cy="590.9" r="7"/><circle cx="648.6" cy="524.3" r="7"/><circle cx="544.1" cy="247.4" r="7"/><circle cx="362.1" cy="815.0" r="7"/><circle cx="750.5" cy="737.4" r="7"/><circle cx="786.3" cy="527.1" r="7"/><circle cx="991.4" cy="424.4" r="7"/><circle cx="358.8" cy="279.4" r="7"/><circle cx="327.5" cy="401.4" r="7"/><circle cx="597.0" cy="941.7" r="7"/><circle cx="1006.4" cy="318.8" r="7"/><circle cx="641.3" cy="741.0" r="7"/><circle cx="565.3" cy="508.5" r="7"/><circle cx="712.9" cy="291.9" r="7"/><circle cx="700.0" cy="263.8" r="7"/><circle cx="862.7" cy="441.9" r="7"/><circle cx="262.2" cy="304.7" r="7"/><circle cx="598.3" cy="1010.7" r="7"/><circle cx="476.4" cy="340.1" r="7"/><circle cx="825.4" cy="502.0" r="7"/><circle cx="727.2" cy="841.2" r="7"/><circle cx="820.9" cy="944.2" r="7"/><circle cx="392.1" cy="580.4" r="7"/><circle cx="455.0" cy="232.7" r="7"/><circle cx="817.4" cy="893.6" r="7"/><circle cx="631.1" cy="209.2" r="7"/><circle cx="341.8" cy="328.4" r="7"/><circle cx="1064.2" cy="468.8" r="7"/><circle cx="985.7" cy="456.8" r="7"/><circle cx="518.3" cy="353.3" r="7"/><circle cx="912.2" cy="440.1" r="7"/><circle cx="395.4" cy="465.7" r="7"/><circle cx="513.2" cy="282.1" r="7"/><circle cx="297.5" cy="312.7" r="7"/><circle cx="964.7" cy="309.9" r="7"/><circle cx="718.7" cy="1009.6" r="7"/><circle cx="1083.0" cy="473.3" r="7"/><circle cx="912.1" cy="329.5" r="7"/><circle cx="645.3" cy="694.3" r="7"/><circle cx="506.0" cy="375.4" r="7"/><circle cx="691.8" cy="750.1" r="7"/><circle cx="640.0" cy="462.3" r="7"/><circle cx="656.8" cy="859.3" r="7"/><circle cx="702.8" cy="314.1" r="7"/><circle cx="420.7" cy="421.0" r="7"/><circle cx="539.1" cy="261.2" r="7"/><circle cx="342.1" cy="395.9" r="7"/><circle cx="376.6" cy="287.0" r="7"/><circle cx="807.6" cy="941.0" r="7"/><circle cx="816.3" cy="636.8" r="7"/><circle cx="692.8" cy="403.0" r="7"/><circle cx="867.3" cy="561.7" r="7"/><circle cx="703.9" cy="745.9" r="7"/><circle cx="473.4" cy="295.6" r="7"/><circle cx="356.8" cy="742.0" r="7"/><circle cx="341.3" cy="266.1" r="7"/><circle cx="857.6" cy="922.3" r="7"/><circle cx="542.0" cy="244.7" r="7"/><circle cx="442.6" cy="396.9" r="7"/><circle cx="699.4" cy="797.3" r="7"/><circle cx="843.7" cy="940.0" r="7"/><circle cx="214.7" cy="380.0" r="7"/><circle cx="239.6" cy="379.1" r="7"/><circle cx="219.4" cy="393.1" r="7"/><circle cx="233.4" cy="396.9" r="7"/><circle cx="252.2" cy="408.1" r="7"/><circle cx="207.2" cy="412.8" r="7"/><circle cx="210.9" cy="400.6" r="7"/><circle cx="218.4" cy="438.1" r="7"/><circle cx="572.5" cy="351.2" r="7"/><circle cx="590.5" cy="352.0" r="7"/><circle cx="638.0" cy="345.0" r="7"/><circle cx="942.5" cy="458.8" r="7"/><circle cx="953.8" cy="457.5" r="7"/><circle cx="1046.2" cy="411.2" r="7"/><circle cx="478.1" cy="770.0" r="7"/><circle cx="474.4" cy="772.8" r="7"/><circle cx="509.5" cy="638.0" r="7"/><circle cx="533.2" cy="718.0" r="7"/><circle cx="675.0" cy="560.9" r="7"/><circle cx="696.6" cy="578.8" r="7"/><circle cx="496.2" cy="840.0" r="7"/><circle cx="496.2" cy="873.8" r="7"/><circle cx="695.0" cy="927.5" r="7"/><circle cx="750.0" cy="982.5" r="7"/><circle cx="508.8" cy="842.5" r="7"/></g><g fill="#c0ddec"><circle cx="744.0" cy="516.7" r="7"/><circle cx="611.3" cy="707.6" r="7"/><circle cx="457.4" cy="339.7" r="7"/><circle cx="563.9" cy="531.7" r="7"/><circle cx="491.7" cy="277.3" r="7"/><circle cx="564.1" cy="245.4" r="7"/><circle cx="532.0" cy="770.0" r="7"/><circle cx="458.4" cy="297.1" r="7"/><circle cx="554.6" cy="306.0" r="7"/><circle cx="434.2" cy="370.9" r="7"/><circle cx="1020.3" cy="822.3" r="7"/><circle cx="444.8" cy="233.5" r="7"/><circle cx="849.4" cy="496.6" r="7"/><circle cx="1061.6" cy="350.9" r="7"/><circle cx="677.3" cy="336.0" r="7"/><circle cx="564.1" cy="955.1" r="7"/><circle cx="361.1" cy="834.3" r="7"/><circle cx="447.6" cy="321.5" r="7"/><circle cx="896.3" cy="436.4" r="7"/><circle cx="351.1" cy="503.9" r="7"/><circle cx="420.4" cy="379.0" r="7"/><circle cx="356.3" cy="569.9" r="7"/><circle cx="880.3" cy="427.9" r="7"/><circle cx="689.9" cy="386.3" r="7"/><circle cx="571.5" cy="908.6" r="7"/><circle cx="664.1" cy="843.5" r="7"/><circle cx="314.5" cy="546.2" r="7"/><circle cx="746.7" cy="774.9" r="7"/><circle cx="371.7" cy="810.6" r="7"/><circle cx="1035.6" cy="300.8" r="7"/><circle cx="780.8" cy="627.8" r="7"/><circle cx="923.5" cy="797.9" r="7"/><circle cx="824.9" cy="821.3" r="7"/><circle cx="688.6" cy="254.3" r="7"/><circle cx="320.4" cy="340.5" r="7"/><circle cx="568.9" cy="550.3" r="7"/><circle cx="401.6" cy="267.1" r="7"/><circle cx="636.2" cy="539.2" r="7"/><circle cx="782.3" cy="531.0" r="7"/><circle cx="708.8" cy="265.8" r="7"/><circle cx="741.5" cy="271.5" r="7"/><circle cx="712.0" cy="668.6" r="7"/><circle cx="632.8" cy="475.1" r="7"/><circle cx="633.8" cy="529.2" r="7"/><circle cx="1063.7" cy="306.5" r="7"/><circle cx="428.0" cy="265.9" r="7"/><circle cx="601.5" cy="1017.7" r="7"/><circle cx="907.6" cy="494.7" r="7"/><circle cx="796.2" cy="454.1" r="7"/><circle cx="357.7" cy="748.8" r="7"/><circle cx="860.7" cy="395.3" r="7"/><circle cx="350.4" cy="290.8" r="7"/><circle cx="901.5" cy="506.1" r="7"/><circle cx="451.4" cy="227.8" r="7"/><circle cx="768.6" cy="641.7" r="7"/><circle cx="1038.7" cy="304.8" r="7"/><circle cx="521.1" cy="497.0" r="7"/><circle cx="851.4" cy="567.6" r="7"/><circle cx="687.1" cy="665.4" r="7"/><circle cx="892.8" cy="935.3" r="7"/><circle cx="535.6" cy="359.7" r="7"/><circle cx="1026.7" cy="313.8" r="7"/><circle cx="859.5" cy="876.4" r="7"/><circle cx="309.0" cy="391.4" r="7"/><circle cx="351.3" cy="364.4" r="7"/><circle cx="1104.5" cy="506.5" r="7"/><circle cx="729.4" cy="811.8" r="7"/><circle cx="742.6" cy="878.9" r="7"/><circle cx="1061.8" cy="451.6" r="7"/><circle cx="761.0" cy="763.0" r="7"/><circle cx="910.7" cy="806.1" r="7"/><circle cx="609.7" cy="216.7" r="7"/><circle cx="699.8" cy="756.8" r="7"/><circle cx="528.6" cy="805.1" r="7"/><circle cx="660.3" cy="940.6" r="7"/><circle cx="302.4" cy="364.9" r="7"/><circle cx="433.7" cy="402.8" r="7"/><circle cx="827.6" cy="492.3" r="7"/><circle cx="751.0" cy="831.7" r="7"/><circle cx="524.6" cy="564.4" r="7"/><circle cx="247.3" cy="303.3" r="7"/><circle cx="334.5" cy="464.3" r="7"/><circle cx="684.9" cy="783.7" r="7"/><circle cx="631.7" cy="223.4" r="7"/><circle cx="740.0" cy="718.5" r="7"/><circle cx="656.2" cy="870.1" r="7"/><circle cx="610.1" cy="298.3" r="7"/><circle cx="312.8" cy="367.7" r="7"/><circle cx="387.0" cy="309.0" r="7"/><circle cx="337.7" cy="280.0" r="7"/><circle cx="461.2" cy="245.2" r="7"/><circle cx="360.3" cy="561.2" r="7"/><circle cx="680.9" cy="294.6" r="7"/><circle cx="501.9" cy="322.4" r="7"/><circle cx="338.0" cy="372.0" r="7"/><circle cx="362.1" cy="936.1" r="7"/><circle cx="424.4" cy="862.3" r="7"/><circle cx="599.3" cy="935.9" r="7"/><circle cx="423.6" cy="809.8" r="7"/><circle cx="371.8" cy="304.0" r="7"/><circle cx="608.0" cy="953.1" r="7"/><circle cx="383.3" cy="791.0" r="7"/><circle cx="360.2" cy="535.7" r="7"/><circle cx="335.6" cy="825.8" r="7"/><circle cx="756.7" cy="519.8" r="7"/><circle cx="518.4" cy="369.0" r="7"/><circle cx="424.7" cy="337.7" r="7"/><circle cx="269.1" cy="353.0" r="7"/><circle cx="656.4" cy="710.7" r="7"/><circle cx="691.8" cy="251.6" r="7"/><circle cx="668.2" cy="1004.6" r="7"/><circle cx="369.0" cy="313.2" r="7"/><circle cx="818.9" cy="875.9" r="7"/><circle cx="426.4" cy="287.0" r="7"/><circle cx="714.7" cy="284.3" r="7"/><circle cx="816.6" cy="814.9" r="7"/><circle cx="664.8" cy="919.9" r="7"/><circle cx="320.0" cy="407.0" r="7"/><circle cx="779.9" cy="518.0" r="7"/><circle cx="1070.0" cy="501.1" r="7"/><circle cx="855.0" cy="895.5" r="7"/><circle cx="398.7" cy="277.3" r="7"/><circle cx="704.4" cy="465.8" r="7"/><circle cx="743.9" cy="314.8" r="7"/><circle cx="879.4" cy="847.0" r="7"/><circle cx="492.6" cy="304.0" r="7"/><circle cx="589.7" cy="259.4" r="7"/><circle cx="1058.8" cy="478.8" r="7"/><circle cx="392.5" cy="329.7" r="7"/><circle cx="339.3" cy="246.2" r="7"/><circle cx="340.8" cy="463.2" r="7"/><circle cx="553.5" cy="983.0" r="7"/><circle cx="664.4" cy="237.3" r="7"/><circle cx="322.2" cy="362.0" r="7"/><circle cx="323.5" cy="407.7" r="7"/><circle cx="755.7" cy="321.2" r="7"/><circle cx="536.7" cy="564.2" r="7"/><circle cx="825.6" cy="487.8" r="7"/><circle cx="612.5" cy="860.1" r="7"/><circle cx="658.1" cy="715.0" r="7"/><circle cx="526.8" cy="308.3" r="7"/><circle cx="713.8" cy="296.6" r="7"/><circle cx="791.7" cy="752.7" r="7"/><circle cx="472.3" cy="406.0" r="7"/><circle cx="1014.4" cy="434.5" r="7"/><circle cx="631.8" cy="743.6" r="7"/><circle cx="796.7" cy="844.0" r="7"/><circle cx="683.7" cy="964.3" r="7"/><circle cx="964.6" cy="803.0" r="7"/><circle cx="359.7" cy="754.4" r="7"/><circle cx="281.2" cy="298.1" r="7"/><circle cx="344.1" cy="426.6" r="7"/><circle cx="859.6" cy="502.0" r="7"/><circle cx="709.6" cy="228.0" r="7"/><circle cx="948.3" cy="399.9" r="7"/><circle cx="293.5" cy="421.2" r="7"/><circle cx="750.4" cy="809.2" r="7"/><circle cx="933.3" cy="908.6" r="7"/><circle cx="676.4" cy="292.2" r="7"/><circle cx="298.1" cy="908.3" r="7"/><circle cx="580.1" cy="864.4" r="7"/><circle cx="996.5" cy="447.4" r="7"/><circle cx="465.0" cy="316.2" r="7"/><circle cx="353.5" cy="492.2" r="7"/><circle cx="532.4" cy="996.8" r="7"/><circle cx="739.8" cy="264.4" r="7"/><circle cx="385.0" cy="726.1" r="7"/><circle cx="351.9" cy="267.7" r="7"/><circle cx="941.8" cy="408.8" r="7"/><circle cx="474.2" cy="386.1" r="7"/><circle cx="901.1" cy="923.1" r="7"/><circle cx="880.5" cy="916.5" r="7"/><circle cx="614.7" cy="470.3" r="7"/><circle cx="789.1" cy="464.9" r="7"/><circle cx="657.9" cy="1080.4" r="7"/><circle cx="431.5" cy="405.4" r="7"/><circle cx="827.8" cy="823.9" r="7"/><circle cx="921.8" cy="812.3" r="7"/><circle cx="556.3" cy="570.1" r="7"/><circle cx="799.4" cy="709.4" r="7"/><circle cx="482.4" cy="253.0" r="7"/><circle cx="1032.9" cy="461.2" r="7"/><circle cx="837.4" cy="942.8" r="7"/><circle cx="707.4" cy="374.6" r="7"/><circle cx="683.1" cy="304.3" r="7"/><circle cx="410.2" cy="223.4" r="7"/><circle cx="718.1" cy="874.9" r="7"/><circle cx="844.0" cy="434.2" r="7"/><circle cx="688.3" cy="480.8" r="7"/><circle cx="630.2" cy="872.4" r="7"/><circle cx="304.5" cy="455.9" r="7"/><circle cx="925.5" cy="306.6" r="7"/><circle cx="854.8" cy="928.0" r="7"/><circle cx="957.9" cy="414.0" r="7"/><circle cx="259.0" cy="351.1" r="7"/><circle cx="636.6" cy="965.8" r="7"/><circle cx="807.5" cy="780.5" r="7"/><circle cx="508.3" cy="273.9" r="7"/><circle cx="349.3" cy="748.5" r="7"/><circle cx="1057.4" cy="467.0" r="7"/><circle cx="797.9" cy="461.9" r="7"/><circle cx="1011.9" cy="432.4" r="7"/><circle cx="281.2" cy="330.8" r="7"/><circle cx="1087.4" cy="508.5" r="7"/><circle cx="682.4" cy="479.6" r="7"/><circle cx="894.5" cy="944.4" r="7"/><circle cx="774.4" cy="773.9" r="7"/><circle cx="625.4" cy="976.1" r="7"/><circle cx="519.8" cy="540.0" r="7"/><circle cx="423.0" cy="285.2" r="7"/><circle cx="471.1" cy="368.4" r="7"/><circle cx="831.4" cy="826.6" r="7"/><circle cx="653.4" cy="715.5" r="7"/><circle cx="807.4" cy="868.3" r="7"/><circle cx="357.0" cy="548.4" r="7"/><circle cx="804.6" cy="859.7" r="7"/><circle cx="767.2" cy="698.4" r="7"/><circle cx="1008.1" cy="823.0" r="7"/><circle cx="854.6" cy="861.6" r="7"/><circle cx="1052.9" cy="439.1" r="7"/><circle cx="387.1" cy="428.4" r="7"/><circle cx="681.0" cy="958.0" r="7"/><circle cx="837.2" cy="507.3" r="7"/><circle cx="486.2" cy="323.6" r="7"/><circle cx="303.8" cy="292.5" r="7"/><circle cx="606.8" cy="231.7" r="7"/><circle cx="706.5" cy="854.3" r="7"/><circle cx="314.8" cy="407.9" r="7"/><circle cx="627.9" cy="681.7" r="7"/><circle cx="486.0" cy="280.1" r="7"/><circle cx="920.2" cy="497.8" r="7"/><circle cx="611.1" cy="221.1" r="7"/><circle cx="763.4" cy="317.2" r="7"/><circle cx="562.0" cy="264.8" r="7"/><circle cx="765.8" cy="515.8" r="7"/><circle cx="455.2" cy="302.8" r="7"/><circle cx="728.3" cy="771.7" r="7"/><circle cx="792.5" cy="890.8" r="7"/><circle cx="366.2" cy="286.3" r="7"/><circle cx="555.2" cy="884.1" r="7"/><circle cx="526.6" cy="826.5" r="7"/><circle cx="798.9" cy="806.6" r="7"/><circle cx="535.2" cy="886.8" r="7"/><circle cx="339.4" cy="818.0" r="7"/><circle cx="679.3" cy="792.5" r="7"/><circle cx="590.1" cy="712.8" r="7"/><circle cx="380.5" cy="815.9" r="7"/><circle cx="860.0" cy="416.3" r="7"/><circle cx="221.6" cy="449.4" r="7"/><circle cx="226.9" cy="406.2" r="7"/><circle cx="204.4" cy="419.4" r="7"/><circle cx="610.0" cy="355.0" r="7"/><circle cx="631.2" cy="355.0" r="7"/><circle cx="572.5" cy="395.0" r="7"/><circle cx="483.8" cy="764.4" r="7"/><circle cx="843.1" cy="731.2" r="7"/></g><g fill="#c7e0ee"><circle cx="414.4" cy="250.0" r="7"/><circle cx="572.4" cy="416.4" r="7"/><circle cx="373.7" cy="580.0" r="7"/><circle cx="893.3" cy="857.0" r="7"/><circle cx="808.5" cy="854.5" r="7"/><circle cx="326.2" cy="376.9" r="7"/><circle cx="463.4" cy="306.6" r="7"/><circle cx="364.8" cy="735.3" r="7"/><circle cx="289.8" cy="399.0" r="7"/><circle cx="588.3" cy="905.1" r="7"/><circle cx="731.8" cy="453.8" r="7"/><circle cx="697.4" cy="999.4" r="7"/><circle cx="410.5" cy="728.2" r="7"/><circle cx="363.8" cy="531.4" r="7"/><circle cx="906.2" cy="524.8" r="7"/><circle cx="345.6" cy="411.4" r="7"/><circle cx="773.1" cy="540.8" r="7"/><circle cx="388.0" cy="578.8" r="7"/><circle cx="537.1" cy="920.9" r="7"/><circle cx="634.0" cy="854.5" r="7"/><circle cx="385.0" cy="256.7" r="7"/><circle cx="686.2" cy="225.6" r="7"/><circle cx="622.9" cy="709.7" r="7"/><circle cx="400.9" cy="734.0" r="7"/><circle cx="688.3" cy="717.9" r="7"/><circle cx="850.4" cy="908.2" r="7"/><circle cx="779.3" cy="811.2" r="7"/><circle cx="545.1" cy="961.4" r="7"/><circle cx="668.7" cy="695.7" r="7"/><circle cx="430.6" cy="548.3" r="7"/><circle cx="829.4" cy="902.7" r="7"/><circle cx="1065.3" cy="392.2" r="7"/><circle cx="535.6" cy="265.2" r="7"/><circle cx="631.7" cy="947.5" r="7"/><circle cx="888.1" cy="854.8" r="7"/><circle cx="435.3" cy="290.1" r="7"/><circle cx="694.5" cy="408.7" r="7"/><circle cx="547.7" cy="250.1" r="7"/><circle cx="609.2" cy="479.6" r="7"/><circle cx="607.8" cy="238.4" r="7"/><circle cx="1053.5" cy="462.5" r="7"/><circle cx="557.7" cy="879.6" r="7"/><circle cx="612.3" cy="1007.0" r="7"/><circle cx="537.8" cy="239.8" r="7"/><circle cx="900.6" cy="934.8" r="7"/><circle cx="543.0" cy="336.1" r="7"/><circle cx="815.3" cy="466.8" r="7"/><circle cx="538.6" cy="358.5" r="7"/><circle cx="652.9" cy="691.7" r="7"/><circle cx="960.0" cy="807.5" r="7"/><circle cx="871.7" cy="423.3" r="7"/><circle cx="666.1" cy="742.2" r="7"/><circle cx="716.8" cy="1059.9" r="7"/><circle cx="327.1" cy="321.8" r="7"/><circle cx="386.9" cy="316.0" r="7"/><circle cx="1025.3" cy="805.6" r="7"/><circle cx="903.4" cy="909.9" r="7"/><circle cx="436.6" cy="264.2" r="7"/><circle cx="1097.6" cy="491.3" r="7"/><circle cx="300.7" cy="906.4" r="7"/><circle cx="773.4" cy="627.5" r="7"/><circle cx="354.7" cy="534.8" r="7"/><circle cx="379.3" cy="554.5" r="7"/><circle cx="677.6" cy="222.0" r="7"/><circle cx="685.0" cy="828.2" r="7"/><circle cx="430.5" cy="717.8" r="7"/><circle cx="1078.6" cy="470.0" r="7"/><circle cx="353.5" cy="430.4" r="7"/><circle cx="852.7" cy="905.2" r="7"/><circle cx="434.3" cy="257.4" r="7"/><circle cx="525.4" cy="895.9" r="7"/><circle cx="639.5" cy="858.4" r="7"/><circle cx="782.0" cy="848.9" r="7"/><circle cx="1004.6" cy="453.8" r="7"/><circle cx="297.3" cy="458.3" r="7"/><circle cx="313.0" cy="485.0" r="7"/><circle cx="661.4" cy="714.0" r="7"/><circle cx="373.6" cy="762.0" r="7"/><circle cx="771.0" cy="789.1" r="7"/><circle cx="735.7" cy="461.3" r="7"/><circle cx="652.1" cy="278.1" r="7"/><circle cx="751.1" cy="876.9" r="7"/><circle cx="742.2" cy="446.2" r="7"/><circle cx="786.5" cy="469.9" r="7"/><circle cx="400.0" cy="408.9" r="7"/><circle cx="781.6" cy="855.0" r="7"/><circle cx="391.3" cy="716.5" r="7"/><circle cx="842.6" cy="859.1" r="7"/><circle cx="638.0" cy="951.0" r="7"/><circle cx="704.0" cy="391.7" r="7"/><circle cx="532.9" cy="508.0" r="7"/><circle cx="992.0" cy="835.2" r="7"/><circle cx="348.6" cy="820.5" r="7"/><circle cx="323.5" cy="367.2" r="7"/><circle cx="396.5" cy="797.2" r="7"/><circle cx="305.1" cy="485.6" r="7"/><circle cx="451.0" cy="235.1" r="7"/><circle cx="814.1" cy="828.3" r="7"/><circle cx="882.8" cy="437.8" r="7"/><circle cx="931.0" cy="402.4" r="7"/><circle cx="554.1" cy="331.1" r="7"/><circle cx="658.6" cy="477.1" r="7"/><circle cx="701.3" cy="300.5" r="7"/><circle cx="785.4" cy="435.3" r="7"/><circle cx="324.4" cy="449.9" r="7"/><circle cx="875.8" cy="415.1" r="7"/><circle cx="329.4" cy="428.5" r="7"/><circle cx="429.8" cy="304.0" r="7"/><circle cx="741.0" cy="454.7" r="7"/><circle cx="687.6" cy="389.1" r="7"/><circle cx="305.5" cy="429.7" r="7"/><circle cx="562.3" cy="564.9" r="7"/><circle cx="542.7" cy="989.5" r="7"/><circle cx="833.7" cy="914.2" r="7"/><circle cx="670.7" cy="331.3" r="7"/><circle cx="782.6" cy="298.9" r="7"/><circle cx="353.6" cy="393.2" r="7"/><circle cx="410.6" cy="740.2" r="7"/><circle cx="1019.7" cy="300.5" r="7"/><circle cx="594.6" cy="946.6" r="7"/><circle cx="431.7" cy="251.6" r="7"/><circle cx="885.6" cy="395.3" r="7"/><circle cx="640.2" cy="849.3" r="7"/><circle cx="417.3" cy="255.6" r="7"/><circle cx="785.6" cy="814.9" r="7"/><circle cx="695.7" cy="229.8" r="7"/><circle cx="864.9" cy="847.0" r="7"/><circle cx="547.7" cy="298.7" r="7"/><circle cx="440.6" cy="808.7" r="7"/><circle cx="353.4" cy="407.8" r="7"/><circle cx="456.5" cy="326.5" r="7"/><circle cx="386.3" cy="533.0" r="7"/><circle cx="406.2" cy="746.3" r="7"/><circle cx="633.3" cy="291.4" r="7"/><circle cx="1025.9" cy="456.6" r="7"/><circle cx="717.5" cy="247.2" r="7"/><circle cx="619.4" cy="746.9" r="7"/><circle cx="575.1" cy="897.0" r="7"/><circle cx="751.3" cy="247.4" r="7"/><circle cx="770.5" cy="777.4" r="7"/><circle cx="885.1" cy="798.5" r="7"/><circle cx="725.7" cy="685.0" r="7"/><circle cx="715.5" cy="784.9" r="7"/><circle cx="309.0" cy="367.6" r="7"/><circle cx="683.2" cy="405.4" r="7"/><circle cx="373.2" cy="744.6" r="7"/><circle cx="673.8" cy="285.0" r="7"/><circle cx="921.9" cy="384.8" r="7"/><circle cx="584.2" cy="1007.7" r="7"/><circle cx="265.7" cy="366.9" r="7"/><circle cx="773.7" cy="431.7" r="7"/><circle cx="318.3" cy="311.8" r="7"/><circle cx="782.5" cy="729.3" r="7"/><circle cx="813.4" cy="818.0" r="7"/><circle cx="320.4" cy="329.0" r="7"/><circle cx="620.8" cy="955.6" r="7"/><circle cx="1090.4" cy="513.1" r="7"/><circle cx="319.8" cy="432.8" r="7"/><circle cx="895.9" cy="493.4" r="7"/><circle cx="428.0" cy="714.0" r="7"/><circle cx="930.2" cy="311.7" r="7"/><circle cx="823.4" cy="960.1" r="7"/><circle cx="855.5" cy="401.4" r="7"/><circle cx="512.0" cy="293.2" r="7"/><circle cx="571.8" cy="933.4" r="7"/><circle cx="377.9" cy="740.7" r="7"/><circle cx="547.4" cy="459.5" r="7"/><circle cx="387.8" cy="402.1" r="7"/><circle cx="1057.3" cy="311.1" r="7"/><circle cx="1014.1" cy="820.5" r="7"/><circle cx="393.7" cy="764.1" r="7"/><circle cx="278.3" cy="305.9" r="7"/><circle cx="543.7" cy="274.1" r="7"/><circle cx="790.8" cy="814.3" r="7"/><circle cx="637.0" cy="220.1" r="7"/><circle cx="484.9" cy="400.7" r="7"/><circle cx="691.8" cy="801.5" r="7"/><circle cx="550.6" cy="575.9" r="7"/><circle cx="478.0" cy="280.8" r="7"/><circle cx="533.7" cy="984.5" r="7"/><circle cx="373.0" cy="788.4" r="7"/><circle cx="712.8" cy="759.9" r="7"/><circle cx="890.7" cy="520.3" r="7"/><circle cx="834.1" cy="513.3" r="7"/><circle cx="597.4" cy="856.5" r="7"/><circle cx="662.4" cy="936.2" r="7"/><circle cx="307.8" cy="420.7" r="7"/><circle cx="402.4" cy="845.5" r="7"/><circle cx="833.4" cy="534.3" r="7"/><circle cx="672.7" cy="890.2" r="7"/><circle cx="612.4" cy="806.1" r="7"/><circle cx="398.4" cy="318.3" r="7"/><circle cx="407.5" cy="743.2" r="7"/><circle cx="1057.3" cy="482.3" r="7"/><circle cx="375.0" cy="939.4" r="7"/><circle cx="740.4" cy="868.7" r="7"/><circle cx="298.0" cy="405.3" r="7"/><circle cx="1022.5" cy="326.7" r="7"/><circle cx="407.3" cy="301.9" r="7"/><circle cx="800.6" cy="857.3" r="7"/><circle cx="345.8" cy="797.2" r="7"/><circle cx="593.6" cy="493.8" r="7"/><circle cx="600.5" cy="519.2" r="7"/><circle cx="785.6" cy="531.5" r="7"/><circle cx="592.1" cy="283.5" r="7"/><circle cx="402.5" cy="314.9" r="7"/><circle cx="622.5" cy="991.1" r="7"/><circle cx="704.7" cy="1005.7" r="7"/><circle cx="574.8" cy="867.1" r="7"/><circle cx="908.1" cy="780.3" r="7"/><circle cx="1066.7" cy="355.3" r="7"/><circle cx="745.1" cy="729.2" r="7"/><circle cx="901.2" cy="940.3" r="7"/><circle cx="370.7" cy="573.1" r="7"/><circle cx="726.4" cy="833.7" r="7"/><circle cx="661.9" cy="868.1" r="7"/><circle cx="1037.5" cy="449.0" r="7"/><circle cx="632.5" cy="952.7" r="7"/><circle cx="384.2" cy="297.4" r="7"/><circle cx="284.4" cy="471.4" r="7"/><circle cx="1064.2" cy="388.4" r="7"/><circle cx="641.0" cy="1018.9" r="7"/><circle cx="330.0" cy="339.5" r="7"/><circle cx="842.8" cy="894.5" r="7"/><circle cx="702.5" cy="853.1" r="7"/><circle cx="725.9" cy="752.1" r="7"/><circle cx="784.6" cy="763.1" r="7"/><circle cx="289.5" cy="497.4" r="7"/><circle cx="291.0" cy="306.4" r="7"/><circle cx="877.7" cy="375.5" r="7"/><circle cx="832.8" cy="438.5" r="7"/><circle cx="373.2" cy="282.3" r="7"/><circle cx="993.6" cy="464.7" r="7"/><circle cx="525.2" cy="332.8" r="7"/><circle cx="599.6" cy="473.0" r="7"/><circle cx="525.1" cy="940.6" r="7"/><circle cx="774.9" cy="538.3" r="7"/><circle cx="864.0" cy="559.5" r="7"/><circle cx="595.0" cy="937.1" r="7"/><circle cx="505.3" cy="248.1" r="7"/><circle cx="551.8" cy="775.8" r="7"/><circle cx="306.9" cy="493.4" r="7"/><circle cx="393.6" cy="733.6" r="7"/><circle cx="271.5" cy="318.2" r="7"/><circle cx="642.2" cy="524.4" r="7"/><circle cx="837.0" cy="797.3" r="7"/><circle cx="681.8" cy="1013.3" r="7"/><circle cx="1016.5" cy="320.5" r="7"/><circle cx="828.4" cy="957.6" r="7"/><circle cx="654.7" cy="488.4" r="7"/><circle cx="529.0" cy="548.6" r="7"/><circle cx="543.3" cy="901.0" r="7"/><circle cx="708.6" cy="391.5" r="7"/><circle cx="768.7" cy="830.4" r="7"/><circle cx="870.3" cy="583.1" r="7"/><circle cx="1068.5" cy="461.4" r="7"/><circle cx="344.3" cy="273.0" r="7"/><circle cx="633.8" cy="969.0" r="7"/><circle cx="390.4" cy="497.0" r="7"/><circle cx="642.0" cy="949.1" r="7"/><circle cx="579.3" cy="1081.9" r="7"/><circle cx="700.5" cy="388.1" r="7"/><circle cx="906.9" cy="818.2" r="7"/><circle cx="444.3" cy="806.2" r="7"/><circle cx="420.7" cy="307.6" r="7"/><circle cx="538.5" cy="248.0" r="7"/><circle cx="371.9" cy="257.4" r="7"/><circle cx="621.7" cy="997.1" r="7"/><circle cx="871.2" cy="854.8" r="7"/><circle cx="786.3" cy="852.7" r="7"/><circle cx="653.4" cy="727.1" r="7"/><circle cx="213.8" cy="424.1" r="7"/><circle cx="283.1" cy="427.8" r="7"/><circle cx="603.8" cy="347.0" r="7"/><circle cx="622.5" cy="363.8" r="7"/><circle cx="578.2" cy="370.0" r="7"/><circle cx="519.5" cy="422.5" r="7"/><circle cx="453.8" cy="781.2" r="7"/><circle cx="446.2" cy="730.6" r="7"/><circle cx="429.4" cy="747.5" r="7"/><circle cx="610.5" cy="617.0" r="7"/><circle cx="864.7" cy="653.8" r="7"/><circle cx="455.0" cy="850.0" r="7"/><circle cx="732.5" cy="986.2" r="7"/></g><g fill="#cde4f0"><circle cx="771.9" cy="839.5" r="7"/><circle cx="410.0" cy="323.9" r="7"/><circle cx="406.2" cy="266.1" r="7"/><circle cx="790.6" cy="774.8" r="7"/><circle cx="689.7" cy="758.4" r="7"/><circle cx="925.1" cy="311.1" r="7"/><circle cx="671.0" cy="218.6" r="7"/><circle cx="314.3" cy="354.9" r="7"/><circle cx="761.4" cy="784.3" r="7"/><circle cx="569.6" cy="917.8" r="7"/><circle cx="746.2" cy="750.3" r="7"/><circle cx="677.3" cy="1008.0" r="7"/><circle cx="304.5" cy="436.9" r="7"/><circle cx="603.4" cy="925.2" r="7"/><circle cx="1073.2" cy="352.1" r="7"/><circle cx="336.2" cy="520.5" r="7"/><circle cx="600.2" cy="946.9" r="7"/><circle cx="555.9" cy="200.5" r="7"/><circle cx="1077.6" cy="482.7" r="7"/><circle cx="881.6" cy="902.1" r="7"/><circle cx="720.9" cy="797.7" r="7"/><circle cx="606.3" cy="710.5" r="7"/><circle cx="485.1" cy="256.4" r="7"/><circle cx="582.6" cy="941.0" r="7"/><circle cx="312.4" cy="297.1" r="7"/><circle cx="651.8" cy="225.7" r="7"/><circle cx="679.2" cy="713.6" r="7"/><circle cx="352.7" cy="748.9" r="7"/><circle cx="297.0" cy="915.9" r="7"/><circle cx="587.1" cy="267.3" r="7"/><circle cx="854.6" cy="443.6" r="7"/><circle cx="359.7" cy="397.0" r="7"/><circle cx="274.4" cy="339.8" r="7"/><circle cx="688.9" cy="771.9" r="7"/><circle cx="668.6" cy="992.4" r="7"/><circle cx="539.0" cy="989.6" r="7"/><circle cx="696.9" cy="817.2" r="7"/><circle cx="678.9" cy="981.9" r="7"/><circle cx="611.1" cy="934.9" r="7"/><circle cx="902.0" cy="879.3" r="7"/><circle cx="516.2" cy="273.5" r="7"/><circle cx="725.3" cy="853.5" r="7"/><circle cx="418.9" cy="858.1" r="7"/><circle cx="349.1" cy="790.0" r="7"/><circle cx="651.3" cy="291.8" r="7"/><circle cx="330.7" cy="436.9" r="7"/><circle cx="870.8" cy="439.5" r="7"/><circle cx="380.0" cy="579.0" r="7"/><circle cx="366.0" cy="267.2" r="7"/><circle cx="658.5" cy="874.1" r="7"/><circle cx="535.7" cy="325.8" r="7"/><circle cx="837.9" cy="491.0" r="7"/><circle cx="754.1" cy="777.3" r="7"/><circle cx="535.8" cy="1004.1" r="7"/><circle cx="428.8" cy="829.0" r="7"/><circle cx="705.7" cy="251.4" r="7"/><circle cx="315.7" cy="386.5" r="7"/><circle cx="569.8" cy="309.7" r="7"/><circle cx="524.9" cy="216.1" r="7"/><circle cx="432.4" cy="325.7" r="7"/><circle cx="688.6" cy="803.2" r="7"/><circle cx="270.0" cy="309.1" r="7"/><circle cx="928.2" cy="882.5" r="7"/><circle cx="510.0" cy="327.8" r="7"/><circle cx="596.4" cy="996.3" r="7"/><circle cx="500.3" cy="504.6" r="7"/><circle cx="506.6" cy="239.3" r="7"/><circle cx="654.2" cy="768.8" r="7"/><circle cx="498.7" cy="306.5" r="7"/><circle cx="421.7" cy="427.2" r="7"/><circle cx="320.1" cy="519.7" r="7"/><circle cx="825.5" cy="890.8" r="7"/><circle cx="744.0" cy="325.9" r="7"/><circle cx="442.7" cy="335.6" r="7"/><circle cx="963.2" cy="440.4" r="7"/><circle cx="337.5" cy="379.6" r="7"/><circle cx="726.8" cy="719.9" r="7"/><circle cx="419.1" cy="432.1" r="7"/><circle cx="522.1" cy="371.8" r="7"/><circle cx="596.7" cy="247.6" r="7"/><circle cx="517.9" cy="220.7" r="7"/><circle cx="370.8" cy="393.1" r="7"/><circle cx="759.7" cy="843.3" r="7"/><circle cx="390.4" cy="411.7" r="7"/><circle cx="361.3" cy="481.3" r="7"/><circle cx="773.5" cy="802.1" r="7"/><circle cx="453.2" cy="250.3" r="7"/><circle cx="1011.4" cy="809.4" r="7"/><circle cx="298.6" cy="449.7" r="7"/><circle cx="338.5" cy="806.3" r="7"/><circle cx="686.0" cy="214.6" r="7"/><circle cx="315.4" cy="362.1" r="7"/><circle cx="865.9" cy="844.0" r="7"/><circle cx="536.3" cy="256.6" r="7"/><circle cx="381.0" cy="763.8" r="7"/><circle cx="513.9" cy="324.9" r="7"/><circle cx="816.8" cy="426.2" r="7"/><circle cx="537.0" cy="954.9" r="7"/><circle cx="882.8" cy="806.7" r="7"/><circle cx="355.6" cy="475.7" r="7"/><circle cx="976.2" cy="432.8" r="7"/><circle cx="1056.6" cy="328.8" r="7"/><circle cx="613.9" cy="495.1" r="7"/><circle cx="790.2" cy="293.6" r="7"/><circle cx="524.9" cy="964.3" r="7"/><circle cx="671.8" cy="223.2" r="7"/><circle cx="911.0" cy="322.8" r="7"/><circle cx="307.6" cy="306.9" r="7"/><circle cx="664.7" cy="231.3" r="7"/><circle cx="629.8" cy="444.5" r="7"/><circle cx="473.4" cy="327.9" r="7"/><circle cx="447.0" cy="352.1" r="7"/><circle cx="507.7" cy="509.3" r="7"/><circle cx="400.2" cy="437.2" r="7"/><circle cx="419.5" cy="357.0" r="7"/><circle cx="858.0" cy="870.0" r="7"/><circle cx="629.7" cy="490.9" r="7"/><circle cx="634.1" cy="714.5" r="7"/><circle cx="623.7" cy="499.5" r="7"/><circle cx="450.6" cy="245.4" r="7"/><circle cx="396.6" cy="747.5" r="7"/><circle cx="831.3" cy="886.2" r="7"/><circle cx="956.6" cy="409.1" r="7"/><circle cx="536.9" cy="298.7" r="7"/><circle cx="566.3" cy="939.1" r="7"/><circle cx="302.0" cy="422.8" r="7"/><circle cx="407.8" cy="546.9" r="7"/><circle cx="789.1" cy="846.9" r="7"/><circle cx="800.1" cy="724.5" r="7"/><circle cx="712.3" cy="864.4" r="7"/><circle cx="331.9" cy="449.8" r="7"/><circle cx="580.0" cy="407.3" r="7"/><circle cx="390.3" cy="736.5" r="7"/><circle cx="288.5" cy="474.5" r="7"/><circle cx="593.7" cy="883.8" r="7"/><circle cx="850.4" cy="822.2" r="7"/><circle cx="438.2" cy="375.0" r="7"/><circle cx="547.7" cy="334.7" r="7"/><circle cx="569.3" cy="493.2" r="7"/><circle cx="692.9" cy="744.6" r="7"/><circle cx="869.0" cy="501.5" r="7"/><circle cx="728.0" cy="788.0" r="7"/><circle cx="252.6" cy="305.0" r="7"/><circle cx="611.9" cy="942.7" r="7"/><circle cx="484.0" cy="284.2" r="7"/><circle cx="280.3" cy="385.7" r="7"/><circle cx="920.7" cy="801.2" r="7"/><circle cx="1007.5" cy="460.3" r="7"/><circle cx="721.7" cy="263.8" r="7"/><circle cx="616.7" cy="948.5" r="7"/><circle cx="684.8" cy="315.0" r="7"/><circle cx="642.1" cy="915.7" r="7"/><circle cx="1060.0" cy="485.5" r="7"/><circle cx="412.2" cy="538.4" r="7"/><circle cx="564.5" cy="407.0" r="7"/><circle cx="791.3" cy="714.3" r="7"/><circle cx="1049.7" cy="480.2" r="7"/><circle cx="402.0" cy="720.3" r="7"/><circle cx="282.8" cy="339.1" r="7"/><circle cx="353.6" cy="361.3" r="7"/><circle cx="843.3" cy="813.9" r="7"/><circle cx="559.4" cy="277.4" r="7"/><circle cx="923.0" cy="826.5" r="7"/><circle cx="590.1" cy="1082.7" r="7"/><circle cx="949.2" cy="828.1" r="7"/><circle cx="357.5" cy="823.7" r="7"/><circle cx="522.8" cy="222.5" r="7"/><circle cx="574.5" cy="451.3" r="7"/><circle cx="370.9" cy="735.4" r="7"/><circle cx="604.0" cy="288.1" r="7"/><circle cx="961.7" cy="434.4" r="7"/><circle cx="518.3" cy="479.8" r="7"/><circle cx="838.7" cy="494.7" r="7"/><circle cx="538.5" cy="852.5" r="7"/><circle cx="302.4" cy="298.2" r="7"/><circle cx="879.8" cy="801.4" r="7"/><circle cx="407.7" cy="533.5" r="7"/><circle cx="1009.7" cy="479.7" r="7"/><circle cx="333.9" cy="418.3" r="7"/><circle cx="586.9" cy="999.1" r="7"/><circle cx="638.2" cy="252.1" r="7"/><circle cx="457.5" cy="364.8" r="7"/><circle cx="584.3" cy="909.5" r="7"/><circle cx="559.6" cy="313.1" r="7"/><circle cx="678.6" cy="748.9" r="7"/><circle cx="917.8" cy="787.2" r="7"/><circle cx="436.3" cy="267.4" r="7"/><circle cx="885.2" cy="864.1" r="7"/><circle cx="391.4" cy="721.5" r="7"/><circle cx="631.9" cy="467.0" r="7"/><circle cx="671.2" cy="351.2" r="7"/><circle cx="578.2" cy="859.8" r="7"/><circle cx="875.8" cy="797.9" r="7"/><circle cx="417.1" cy="381.5" r="7"/><circle cx="550.1" cy="234.4" r="7"/><circle cx="597.0" cy="261.5" r="7"/><circle cx="929.6" cy="439.4" r="7"/><circle cx="501.0" cy="255.1" r="7"/><circle cx="428.7" cy="823.5" r="7"/><circle cx="744.2" cy="811.9" r="7"/><circle cx="463.5" cy="346.0" r="7"/><circle cx="788.6" cy="884.4" r="7"/><circle cx="705.4" cy="860.9" r="7"/><circle cx="681.5" cy="319.1" r="7"/><circle cx="852.4" cy="590.2" r="7"/><circle cx="691.9" cy="882.9" r="7"/><circle cx="593.7" cy="1022.0" r="7"/><circle cx="998.4" cy="469.5" r="7"/><circle cx="673.9" cy="968.1" r="7"/><circle cx="566.8" cy="281.6" r="7"/><circle cx="574.0" cy="425.0" r="7"/><circle cx="634.1" cy="978.1" r="7"/><circle cx="561.7" cy="957.9" r="7"/><circle cx="358.6" cy="355.7" r="7"/><circle cx="460.3" cy="361.0" r="7"/><circle cx="704.4" cy="831.6" r="7"/><circle cx="595.0" cy="714.2" r="7"/><circle cx="302.6" cy="343.5" r="7"/><circle cx="591.8" cy="843.8" r="7"/><circle cx="718.0" cy="724.9" r="7"/><circle cx="777.5" cy="785.9" r="7"/><circle cx="690.5" cy="374.7" r="7"/><circle cx="889.4" cy="514.1" r="7"/><circle cx="620.5" cy="282.1" r="7"/><circle cx="467.7" cy="363.2" r="7"/><circle cx="395.5" cy="829.3" r="7"/><circle cx="708.2" cy="838.2" r="7"/><circle cx="876.1" cy="820.8" r="7"/><circle cx="385.2" cy="793.7" r="7"/><circle cx="945.4" cy="314.3" r="7"/><circle cx="299.8" cy="386.5" r="7"/><circle cx="987.4" cy="318.9" r="7"/><circle cx="591.5" cy="991.3" r="7"/><circle cx="516.0" cy="363.7" r="7"/><circle cx="774.1" cy="888.8" r="7"/><circle cx="294.8" cy="912.2" r="7"/><circle cx="533.9" cy="845.5" r="7"/><circle cx="362.8" cy="745.2" r="7"/><circle cx="633.2" cy="764.0" r="7"/><circle cx="773.7" cy="521.4" r="7"/><circle cx="382.3" cy="586.0" r="7"/><circle cx="731.7" cy="839.5" r="7"/><circle cx="579.4" cy="1007.7" r="7"/><circle cx="384.0" cy="317.8" r="7"/><circle cx="418.7" cy="547.9" r="7"/><circle cx="788.1" cy="879.6" r="7"/><circle cx="705.2" cy="306.8" r="7"/><circle cx="378.7" cy="505.7" r="7"/><circle cx="619.2" cy="934.5" r="7"/><circle cx="532.1" cy="828.0" r="7"/><circle cx="546.4" cy="228.2" r="7"/><circle cx="710.6" cy="1007.9" r="7"/><circle cx="345.4" cy="369.5" r="7"/><circle cx="551.0" cy="557.1" r="7"/><circle cx="736.4" cy="257.1" r="7"/><circle cx="237.2" cy="410.9" r="7"/><circle cx="210.0" cy="422.2" r="7"/><circle cx="423.8" cy="475.5" r="7"/><circle cx="465.0" cy="756.9" r="7"/><circle cx="450.0" cy="732.5" r="7"/><circle cx="843.1" cy="778.1" r="7"/><circle cx="610.3" cy="616.2" r="7"/><circle cx="448.2" cy="871.2" r="7"/><circle cx="751.2" cy="952.5" r="7"/></g><g fill="#d4e7f2"><circle cx="904.1" cy="898.9" r="7"/><circle cx="578.5" cy="564.6" r="7"/><circle cx="331.0" cy="410.6" r="7"/><circle cx="684.3" cy="778.5" r="7"/><circle cx="1010.9" cy="436.1" r="7"/><circle cx="921.2" cy="502.4" r="7"/><circle cx="1010.3" cy="444.5" r="7"/><circle cx="764.4" cy="446.6" r="7"/><circle cx="329.1" cy="457.4" r="7"/><circle cx="833.3" cy="829.8" r="7"/><circle cx="665.4" cy="756.5" r="7"/><circle cx="748.4" cy="801.9" r="7"/><circle cx="756.0" cy="443.5" r="7"/><circle cx="546.8" cy="848.5" r="7"/><circle cx="395.1" cy="267.4" r="7"/><circle cx="929.3" cy="871.2" r="7"/><circle cx="880.8" cy="873.7" r="7"/><circle cx="599.2" cy="972.1" r="7"/><circle cx="996.9" cy="824.9" r="7"/><circle cx="373.2" cy="731.4" r="7"/><circle cx="628.4" cy="1008.5" r="7"/><circle cx="776.6" cy="626.8" r="7"/><circle cx="556.7" cy="316.9" r="7"/><circle cx="757.5" cy="758.5" r="7"/><circle cx="655.0" cy="810.4" r="7"/><circle cx="931.2" cy="425.1" r="7"/><circle cx="294.9" cy="388.3" r="7"/><circle cx="381.6" cy="757.6" r="7"/><circle cx="302.8" cy="338.2" r="7"/><circle cx="570.1" cy="396.9" r="7"/><circle cx="368.1" cy="274.1" r="7"/><circle cx="385.1" cy="526.8" r="7"/><circle cx="709.9" cy="355.0" r="7"/><circle cx="356.7" cy="426.5" r="7"/><circle cx="374.9" cy="428.5" r="7"/><circle cx="384.4" cy="423.4" r="7"/><circle cx="642.9" cy="284.0" r="7"/><circle cx="641.4" cy="227.7" r="7"/><circle cx="673.5" cy="751.2" r="7"/><circle cx="583.4" cy="926.8" r="7"/><circle cx="637.3" cy="1080.9" r="7"/><circle cx="513.2" cy="898.2" r="7"/><circle cx="333.6" cy="806.0" r="7"/><circle cx="900.8" cy="805.6" r="7"/><circle cx="740.3" cy="256.0" r="7"/><circle cx="943.1" cy="401.0" r="7"/><circle cx="588.8" cy="970.1" r="7"/><circle cx="443.2" cy="239.0" r="7"/><circle cx="555.6" cy="860.0" r="7"/><circle cx="383.7" cy="505.6" r="7"/><circle cx="462.3" cy="266.1" r="7"/><circle cx="533.6" cy="368.1" r="7"/><circle cx="574.7" cy="836.2" r="7"/><circle cx="888.2" cy="411.8" r="7"/><circle cx="883.2" cy="896.0" r="7"/><circle cx="781.9" cy="733.8" r="7"/><circle cx="904.9" cy="936.8" r="7"/><circle cx="706.9" cy="448.2" r="7"/><circle cx="333.7" cy="425.1" r="7"/><circle cx="305.5" cy="367.6" r="7"/><circle cx="815.0" cy="429.4" r="7"/><circle cx="1060.8" cy="316.1" r="7"/><circle cx="969.3" cy="440.8" r="7"/><circle cx="806.2" cy="897.6" r="7"/><circle cx="878.8" cy="922.1" r="7"/><circle cx="1012.1" cy="314.8" r="7"/><circle cx="1063.5" cy="361.9" r="7"/><circle cx="276.1" cy="369.8" r="7"/><circle cx="554.6" cy="463.0" r="7"/><circle cx="848.1" cy="491.2" r="7"/><circle cx="403.4" cy="286.6" r="7"/><circle cx="712.8" cy="835.1" r="7"/><circle cx="882.3" cy="419.4" r="7"/><circle cx="770.4" cy="537.5" r="7"/><circle cx="826.1" cy="910.9" r="7"/><circle cx="532.2" cy="538.2" r="7"/><circle cx="884.7" cy="493.7" r="7"/><circle cx="496.3" cy="370.9" r="7"/><circle cx="604.5" cy="891.3" r="7"/><circle cx="570.3" cy="299.3" r="7"/><circle cx="737.6" cy="687.0" r="7"/><circle cx="642.6" cy="1087.3" r="7"/><circle cx="1025.9" cy="463.5" r="7"/><circle cx="599.0" cy="437.4" r="7"/><circle cx="789.7" cy="436.7" r="7"/><circle cx="676.0" cy="1079.7" r="7"/><circle cx="529.5" cy="240.2" r="7"/><circle cx="593.9" cy="324.8" r="7"/><circle cx="521.3" cy="492.7" r="7"/><circle cx="737.7" cy="803.9" r="7"/><circle cx="603.8" cy="514.9" r="7"/><circle cx="396.7" cy="741.5" r="7"/><circle cx="875.5" cy="826.2" r="7"/><circle cx="777.0" cy="798.6" r="7"/><circle cx="408.3" cy="404.6" r="7"/><circle cx="542.5" cy="448.4" r="7"/><circle cx="370.4" cy="325.0" r="7"/><circle cx="510.4" cy="981.9" r="7"/><circle cx="1041.9" cy="450.1" r="7"/><circle cx="475.0" cy="403.3" r="7"/><circle cx="462.6" cy="332.2" r="7"/><circle cx="355.6" cy="293.9" r="7"/><circle cx="925.3" cy="382.3" r="7"/><circle cx="645.4" cy="303.3" r="7"/><circle cx="443.7" cy="331.7" r="7"/><circle cx="589.1" cy="1062.6" r="7"/><circle cx="652.0" cy="1080.8" r="7"/><circle cx="1031.9" cy="284.7" r="7"/><circle cx="383.0" cy="253.4" r="7"/><circle cx="902.1" cy="829.8" r="7"/><circle cx="551.2" cy="923.1" r="7"/><circle cx="364.2" cy="519.3" r="7"/><circle cx="917.2" cy="511.7" r="7"/><circle cx="994.9" cy="450.7" r="7"/><circle cx="650.6" cy="487.4" r="7"/><circle cx="791.2" cy="702.4" r="7"/><circle cx="365.2" cy="320.8" r="7"/><circle cx="963.4" cy="797.4" r="7"/><circle cx="648.6" cy="1055.8" r="7"/><circle cx="368.6" cy="380.1" r="7"/><circle cx="455.6" cy="348.6" r="7"/><circle cx="814.1" cy="890.5" r="7"/><circle cx="792.3" cy="283.8" r="7"/><circle cx="403.1" cy="432.8" r="7"/><circle cx="941.0" cy="895.9" r="7"/><circle cx="585.6" cy="954.8" r="7"/><circle cx="696.4" cy="730.0" r="7"/><circle cx="858.8" cy="883.1" r="7"/><circle cx="530.9" cy="822.7" r="7"/><circle cx="472.2" cy="352.6" r="7"/><circle cx="362.3" cy="270.9" r="7"/><circle cx="361.3" cy="276.0" r="7"/><circle cx="922.7" cy="781.2" r="7"/><circle cx="641.5" cy="247.2" r="7"/><circle cx="405.2" cy="298.6" r="7"/><circle cx="420.4" cy="844.7" r="7"/><circle cx="594.8" cy="484.6" r="7"/><circle cx="965.7" cy="785.8" r="7"/><circle cx="1086.2" cy="511.5" r="7"/><circle cx="804.8" cy="832.4" r="7"/><circle cx="1019.0" cy="458.4" r="7"/><circle cx="653.2" cy="465.5" r="7"/><circle cx="1063.5" cy="354.1" r="7"/><circle cx="889.8" cy="842.4" r="7"/><circle cx="675.6" cy="484.8" r="7"/><circle cx="663.8" cy="1079.7" r="7"/><circle cx="689.4" cy="365.0" r="7"/><circle cx="397.2" cy="283.5" r="7"/><circle cx="376.2" cy="330.8" r="7"/><circle cx="573.8" cy="856.6" r="7"/><circle cx="625.5" cy="955.9" r="7"/><circle cx="640.0" cy="231.4" r="7"/><circle cx="336.0" cy="452.8" r="7"/><circle cx="490.2" cy="393.8" r="7"/><circle cx="309.3" cy="511.6" r="7"/><circle cx="913.8" cy="325.6" r="7"/><circle cx="359.7" cy="553.0" r="7"/><circle cx="763.4" cy="507.7" r="7"/><circle cx="612.3" cy="1001.8" r="7"/><circle cx="763.8" cy="766.5" r="7"/><circle cx="926.6" cy="831.4" r="7"/><circle cx="366.9" cy="510.6" r="7"/><circle cx="595.5" cy="254.3" r="7"/><circle cx="480.2" cy="267.6" r="7"/><circle cx="479.4" cy="329.0" r="7"/><circle cx="475.7" cy="333.7" r="7"/><circle cx="323.7" cy="335.9" r="7"/><circle cx="619.2" cy="852.1" r="7"/><circle cx="881.2" cy="854.8" r="7"/><circle cx="898.2" cy="838.2" r="7"/><circle cx="725.8" cy="1010.5" r="7"/><circle cx="379.5" cy="521.7" r="7"/><circle cx="602.8" cy="977.4" r="7"/><circle cx="739.4" cy="290.8" r="7"/><circle cx="527.6" cy="472.5" r="7"/><circle cx="903.1" cy="800.5" r="7"/><circle cx="381.9" cy="547.2" r="7"/><circle cx="782.2" cy="436.8" r="7"/><circle cx="834.8" cy="805.5" r="7"/><circle cx="769.3" cy="813.5" r="7"/><circle cx="340.1" cy="356.0" r="7"/><circle cx="408.3" cy="280.9" r="7"/><circle cx="521.1" cy="924.9" r="7"/><circle cx="544.4" cy="857.5" r="7"/><circle cx="871.1" cy="829.9" r="7"/><circle cx="419.0" cy="412.7" r="7"/><circle cx="616.6" cy="742.4" r="7"/><circle cx="348.0" cy="805.4" r="7"/><circle cx="401.5" cy="744.5" r="7"/><circle cx="656.2" cy="863.1" r="7"/><circle cx="381.2" cy="438.8" r="7"/><circle cx="471.3" cy="309.9" r="7"/><circle cx="781.7" cy="836.5" r="7"/><circle cx="434.1" cy="388.3" r="7"/><circle cx="288.2" cy="366.5" r="7"/><circle cx="345.4" cy="334.7" r="7"/><circle cx="560.2" cy="994.6" r="7"/><circle cx="728.3" cy="748.2" r="7"/><circle cx="968.4" cy="800.8" r="7"/><circle cx="532.3" cy="501.8" r="7"/><circle cx="547.6" cy="497.1" r="7"/><circle cx="501.1" cy="227.5" r="7"/><circle cx="681.8" cy="381.8" r="7"/><circle cx="534.6" cy="335.0" r="7"/><circle cx="379.5" cy="419.9" r="7"/><circle cx="672.4" cy="829.3" r="7"/><circle cx="917.9" cy="383.4" r="7"/><circle cx="306.4" cy="426.4" r="7"/><circle cx="620.9" cy="980.1" r="7"/><circle cx="840.6" cy="819.3" r="7"/><circle cx="401.4" cy="260.9" r="7"/><circle cx="1034.7" cy="472.3" r="7"/><circle cx="947.9" cy="852.7" r="7"/><circle cx="628.3" cy="836.0" r="7"/><circle cx="543.7" cy="986.1" r="7"/><circle cx="307.7" cy="318.8" r="7"/><circle cx="596.9" cy="733.9" r="7"/><circle cx="912.1" cy="908.3" r="7"/><circle cx="675.8" cy="235.9" r="7"/><circle cx="807.9" cy="902.9" r="7"/><circle cx="784.5" cy="489.4" r="7"/><circle cx="549.0" cy="259.1" r="7"/><circle cx="537.1" cy="945.2" r="7"/><circle cx="876.9" cy="449.1" r="7"/><circle cx="668.4" cy="977.7" r="7"/><circle cx="441.5" cy="432.3" r="7"/><circle cx="470.1" cy="326.1" r="7"/><circle cx="773.9" cy="647.5" r="7"/><circle cx="761.1" cy="306.2" r="7"/><circle cx="735.3" cy="884.9" r="7"/><circle cx="1061.7" cy="359.6" r="7"/><circle cx="570.2" cy="912.5" r="7"/><circle cx="971.0" cy="817.0" r="7"/><circle cx="1020.7" cy="818.7" r="7"/><circle cx="295.1" cy="413.8" r="7"/><circle cx="1031.0" cy="325.8" r="7"/><circle cx="424.4" cy="726.4" r="7"/><circle cx="631.9" cy="284.9" r="7"/><circle cx="438.1" cy="283.5" r="7"/><circle cx="600.6" cy="990.4" r="7"/><circle cx="529.5" cy="326.1" r="7"/><circle cx="338.8" cy="297.8" r="7"/><circle cx="722.0" cy="1034.1" r="7"/><circle cx="638.9" cy="830.9" r="7"/><circle cx="349.4" cy="325.5" r="7"/><circle cx="335.8" cy="472.8" r="7"/><circle cx="1104.3" cy="492.2" r="7"/><circle cx="977.4" cy="776.1" r="7"/><circle cx="714.6" cy="355.5" r="7"/><circle cx="318.3" cy="382.0" r="7"/><circle cx="284.9" cy="299.0" r="7"/><circle cx="364.3" cy="932.2" r="7"/><circle cx="840.7" cy="856.3" r="7"/><circle cx="717.6" cy="237.8" r="7"/><circle cx="612.6" cy="938.9" r="7"/><circle cx="864.1" cy="854.9" r="7"/><circle cx="475.1" cy="321.6" r="7"/><circle cx="407.9" cy="715.8" r="7"/><circle cx="727.9" cy="284.1" r="7"/><circle cx="946.4" cy="442.2" r="7"/><circle cx="606.5" cy="974.1" r="7"/><circle cx="588.7" cy="1002.8" r="7"/><circle cx="1057.6" cy="456.2" r="7"/><circle cx="414.0" cy="741.4" r="7"/><circle cx="906.3" cy="531.1" r="7"/><circle cx="398.1" cy="735.6" r="7"/><circle cx="522.7" cy="346.6" r="7"/><circle cx="217.1" cy="404.9" r="7"/><circle cx="208.1" cy="427.8" r="7"/><circle cx="273.2" cy="416.6" r="7"/><circle cx="572.5" cy="387.5" r="7"/><circle cx="803.8" cy="403.8" r="7"/><circle cx="949.2" cy="290.0" r="7"/><circle cx="815.0" cy="336.2" r="7"/><circle cx="820.0" cy="466.2" r="7"/><circle cx="662.0" cy="635.8" r="7"/><circle cx="843.2" cy="779.5" r="7"/><circle cx="390.2" cy="963.2" r="7"/><circle cx="724.2" cy="949.2" r="7"/></g><g fill="#dbebf4"><circle cx="1061.2" cy="492.2" r="7"/><circle cx="539.4" cy="948.0" r="7"/><circle cx="1040.4" cy="477.2" r="7"/><circle cx="999.9" cy="828.2" r="7"/><circle cx="646.6" cy="687.3" r="7"/><circle cx="1073.5" cy="496.3" r="7"/><circle cx="304.3" cy="354.5" r="7"/><circle cx="592.0" cy="530.3" r="7"/><circle cx="617.2" cy="693.7" r="7"/><circle cx="885.5" cy="848.1" r="7"/><circle cx="793.5" cy="470.6" r="7"/><circle cx="291.2" cy="303.1" r="7"/><circle cx="323.5" cy="346.2" r="7"/><circle cx="598.0" cy="964.9" r="7"/><circle cx="673.7" cy="366.1" r="7"/><circle cx="642.9" cy="471.0" r="7"/><circle cx="580.0" cy="920.4" r="7"/><circle cx="949.0" cy="434.7" r="7"/><circle cx="459.3" cy="259.9" r="7"/><circle cx="774.9" cy="820.0" r="7"/><circle cx="500.7" cy="343.9" r="7"/><circle cx="620.2" cy="1018.4" r="7"/><circle cx="1067.7" cy="490.4" r="7"/><circle cx="555.3" cy="558.2" r="7"/><circle cx="847.9" cy="846.9" r="7"/><circle cx="1005.1" cy="834.9" r="7"/><circle cx="668.1" cy="1024.6" r="7"/><circle cx="626.9" cy="996.6" r="7"/><circle cx="451.1" cy="281.9" r="7"/><circle cx="647.7" cy="840.0" r="7"/><circle cx="868.2" cy="379.1" r="7"/><circle cx="478.2" cy="277.4" r="7"/><circle cx="837.6" cy="794.0" r="7"/><circle cx="547.0" cy="282.0" r="7"/><circle cx="866.6" cy="400.5" r="7"/><circle cx="407.8" cy="410.4" r="7"/><circle cx="888.2" cy="942.8" r="7"/><circle cx="555.9" cy="327.5" r="7"/><circle cx="538.9" cy="253.5" r="7"/><circle cx="851.8" cy="530.7" r="7"/><circle cx="715.1" cy="267.7" r="7"/><circle cx="634.4" cy="451.6" r="7"/><circle cx="793.1" cy="726.3" r="7"/><circle cx="616.6" cy="1017.5" r="7"/><circle cx="549.5" cy="856.2" r="7"/><circle cx="466.9" cy="249.8" r="7"/><circle cx="360.0" cy="438.0" r="7"/><circle cx="520.6" cy="870.2" r="7"/><circle cx="561.6" cy="281.1" r="7"/><circle cx="583.4" cy="565.7" r="7"/><circle cx="869.0" cy="496.7" r="7"/><circle cx="582.2" cy="486.8" r="7"/><circle cx="799.1" cy="431.0" r="7"/><circle cx="939.4" cy="909.1" r="7"/><circle cx="623.8" cy="285.1" r="7"/><circle cx="451.6" cy="306.0" r="7"/><circle cx="490.3" cy="979.9" r="7"/><circle cx="345.6" cy="755.4" r="7"/><circle cx="409.1" cy="299.1" r="7"/><circle cx="412.4" cy="839.8" r="7"/><circle cx="723.1" cy="284.7" r="7"/><circle cx="341.8" cy="448.0" r="7"/><circle cx="804.8" cy="454.0" r="7"/><circle cx="735.6" cy="794.0" r="7"/><circle cx="643.6" cy="752.4" r="7"/><circle cx="694.5" cy="950.5" r="7"/><circle cx="407.1" cy="319.6" r="7"/><circle cx="946.7" cy="891.1" r="7"/><circle cx="413.7" cy="280.8" r="7"/><circle cx="575.7" cy="909.1" r="7"/><circle cx="522.3" cy="239.0" r="7"/><circle cx="492.6" cy="331.0" r="7"/><circle cx="479.7" cy="325.0" r="7"/><circle cx="849.7" cy="874.1" r="7"/><circle cx="835.2" cy="852.9" r="7"/><circle cx="438.5" cy="311.9" r="7"/><circle cx="892.0" cy="898.2" r="7"/><circle cx="980.4" cy="426.0" r="7"/><circle cx="782.1" cy="883.8" r="7"/><circle cx="652.0" cy="750.7" r="7"/><circle cx="1047.8" cy="444.5" r="7"/><circle cx="347.8" cy="483.8" r="7"/><circle cx="535.2" cy="235.3" r="7"/><circle cx="463.5" cy="387.3" r="7"/><circle cx="343.0" cy="346.9" r="7"/><circle cx="919.9" cy="378.2" r="7"/><circle cx="842.6" cy="889.4" r="7"/><circle cx="839.0" cy="511.8" r="7"/><circle cx="365.9" cy="582.2" r="7"/><circle cx="972.9" cy="804.8" r="7"/><circle cx="733.3" cy="872.8" r="7"/><circle cx="305.6" cy="344.6" r="7"/><circle cx="618.2" cy="914.8" r="7"/><circle cx="1058.3" cy="501.1" r="7"/><circle cx="665.1" cy="960.1" r="7"/><circle cx="369.4" cy="508.4" r="7"/><circle cx="391.0" cy="545.4" r="7"/><circle cx="624.3" cy="827.9" r="7"/><circle cx="906.5" cy="323.1" r="7"/><circle cx="589.2" cy="287.7" r="7"/><circle cx="731.3" cy="1008.9" r="7"/><circle cx="550.6" cy="472.8" r="7"/><circle cx="1060.1" cy="353.4" r="7"/><circle cx="306.0" cy="904.1" r="7"/><circle cx="360.1" cy="292.1" r="7"/><circle cx="294.2" cy="289.2" r="7"/><circle cx="641.4" cy="481.8" r="7"/><circle cx="514.4" cy="267.6" r="7"/><circle cx="520.7" cy="461.7" r="7"/><circle cx="522.6" cy="208.5" r="7"/><circle cx="444.5" cy="429.9" r="7"/><circle cx="883.5" cy="931.6" r="7"/><circle cx="293.0" cy="448.5" r="7"/><circle cx="301.9" cy="397.7" r="7"/><circle cx="342.5" cy="282.5" r="7"/><circle cx="432.6" cy="360.7" r="7"/><circle cx="695.7" cy="476.7" r="7"/><circle cx="781.8" cy="867.8" r="7"/><circle cx="578.7" cy="936.4" r="7"/><circle cx="524.7" cy="1001.3" r="7"/><circle cx="870.0" cy="491.8" r="7"/><circle cx="435.1" cy="422.4" r="7"/><circle cx="901.3" cy="894.9" r="7"/><circle cx="820.3" cy="870.9" r="7"/><circle cx="1029.6" cy="464.0" r="7"/><circle cx="409.6" cy="721.3" r="7"/><circle cx="664.9" cy="770.5" r="7"/><circle cx="363.7" cy="535.9" r="7"/><circle cx="419.3" cy="283.2" r="7"/><circle cx="632.9" cy="753.2" r="7"/><circle cx="843.4" cy="802.4" r="7"/><circle cx="612.0" cy="228.1" r="7"/><circle cx="959.0" cy="821.7" r="7"/><circle cx="425.9" cy="807.6" r="7"/><circle cx="414.4" cy="262.2" r="7"/><circle cx="531.2" cy="485.6" r="7"/><circle cx="375.8" cy="258.8" r="7"/><circle cx="366.1" cy="792.5" r="7"/><circle cx="866.0" cy="422.2" r="7"/><circle cx="603.7" cy="535.5" r="7"/><circle cx="581.9" cy="329.8" r="7"/><circle cx="409.7" cy="745.8" r="7"/><circle cx="308.2" cy="894.1" r="7"/><circle cx="526.3" cy="959.4" r="7"/><circle cx="778.3" cy="412.9" r="7"/><circle cx="339.5" cy="309.2" r="7"/><circle cx="1001.0" cy="813.1" r="7"/><circle cx="739.0" cy="458.5" r="7"/><circle cx="647.7" cy="847.7" r="7"/><circle cx="587.3" cy="876.4" r="7"/><circle cx="926.1" cy="853.4" r="7"/><circle cx="741.7" cy="890.7" r="7"/><circle cx="362.6" cy="741.1" r="7"/><circle cx="579.5" cy="232.1" r="7"/><circle cx="983.9" cy="414.4" r="7"/><circle cx="764.1" cy="510.8" r="7"/><circle cx="363.1" cy="354.1" r="7"/><circle cx="509.5" cy="278.9" r="7"/><circle cx="836.1" cy="856.7" r="7"/><circle cx="383.3" cy="306.0" r="7"/><circle cx="415.4" cy="842.2" r="7"/><circle cx="322.5" cy="563.4" r="7"/><circle cx="648.3" cy="862.5" r="7"/><circle cx="513.6" cy="846.9" r="7"/><circle cx="778.9" cy="749.8" r="7"/><circle cx="553.4" cy="227.4" r="7"/><circle cx="811.9" cy="851.6" r="7"/><circle cx="668.6" cy="788.3" r="7"/><circle cx="550.1" cy="882.9" r="7"/><circle cx="375.8" cy="424.2" r="7"/><circle cx="890.0" cy="832.1" r="7"/><circle cx="623.9" cy="854.6" r="7"/><circle cx="489.9" cy="381.8" r="7"/><circle cx="423.8" cy="255.3" r="7"/><circle cx="889.2" cy="805.2" r="7"/><circle cx="532.7" cy="240.5" r="7"/><circle cx="780.9" cy="805.1" r="7"/><circle cx="691.5" cy="1021.2" r="7"/><circle cx="678.3" cy="940.9" r="7"/><circle cx="267.6" cy="303.6" r="7"/><circle cx="378.3" cy="415.5" r="7"/><circle cx="323.5" cy="383.7" r="7"/><circle cx="691.3" cy="230.2" r="7"/><circle cx="409.2" cy="802.3" r="7"/><circle cx="617.8" cy="456.3" r="7"/><circle cx="933.3" cy="857.4" r="7"/><circle cx="423.7" cy="552.5" r="7"/><circle cx="417.1" cy="331.1" r="7"/><circle cx="891.2" cy="846.6" r="7"/><circle cx="597.1" cy="299.5" r="7"/><circle cx="631.0" cy="786.0" r="7"/><circle cx="371.7" cy="815.6" r="7"/><circle cx="331.0" cy="293.6" r="7"/><circle cx="540.9" cy="923.1" r="7"/><circle cx="548.9" cy="304.0" r="7"/><circle cx="567.0" cy="947.8" r="7"/><circle cx="375.5" cy="291.2" r="7"/><circle cx="416.2" cy="306.6" r="7"/><circle cx="599.2" cy="540.9" r="7"/><circle cx="471.5" cy="283.7" r="7"/><circle cx="386.3" cy="300.8" r="7"/><circle cx="1048.1" cy="466.9" r="7"/><circle cx="660.6" cy="959.1" r="7"/><circle cx="702.5" cy="1011.4" r="7"/><circle cx="850.7" cy="444.6" r="7"/><circle cx="890.0" cy="509.4" r="7"/><circle cx="931.8" cy="407.4" r="7"/><circle cx="800.0" cy="447.2" r="7"/><circle cx="278.6" cy="314.1" r="7"/><circle cx="615.5" cy="255.8" r="7"/><circle cx="1069.4" cy="496.6" r="7"/><circle cx="311.7" cy="895.3" r="7"/><circle cx="539.4" cy="264.6" r="7"/><circle cx="884.1" cy="838.2" r="7"/><circle cx="771.0" cy="844.5" r="7"/><circle cx="615.7" cy="266.0" r="7"/><circle cx="618.5" cy="298.4" r="7"/><circle cx="766.2" cy="823.9" r="7"/><circle cx="975.9" cy="436.0" r="7"/><circle cx="438.2" cy="425.4" r="7"/><circle cx="568.0" cy="504.9" r="7"/><circle cx="518.4" cy="303.7" r="7"/><circle cx="833.5" cy="508.3" r="7"/><circle cx="552.1" cy="467.3" r="7"/><circle cx="635.4" cy="1012.2" r="7"/><circle cx="398.5" cy="530.8" r="7"/><circle cx="881.1" cy="887.0" r="7"/><circle cx="786.6" cy="858.5" r="7"/><circle cx="296.7" cy="902.5" r="7"/><circle cx="914.5" cy="305.0" r="7"/><circle cx="370.8" cy="491.5" r="7"/><circle cx="400.6" cy="818.7" r="7"/><circle cx="611.6" cy="703.0" r="7"/><circle cx="213.4" cy="440.4" r="7"/><circle cx="280.3" cy="413.8" r="7"/><circle cx="660.0" cy="410.0" r="7"/><circle cx="989.2" cy="266.2" r="7"/><circle cx="951.2" cy="275.8" r="7"/><circle cx="962.0" cy="275.0" r="7"/><circle cx="905.0" cy="286.2" r="7"/><circle cx="911.2" cy="286.2" r="7"/><circle cx="803.8" cy="321.2" r="7"/><circle cx="917.8" cy="482.5" r="7"/><circle cx="495.0" cy="766.2" r="7"/><circle cx="683.8" cy="557.0" r="7"/><circle cx="899.5" cy="690.0" r="7"/><circle cx="481.2" cy="857.0" r="7"/><circle cx="702.5" cy="912.5" r="7"/><circle cx="710.0" cy="917.5" r="7"/><circle cx="761.2" cy="942.5" r="7"/></g><g fill="#e0eef5"><circle cx="394.4" cy="349.5" r="7"/><circle cx="379.5" cy="363.5" r="7"/><circle cx="819.5" cy="430.7" r="7"/><circle cx="346.3" cy="315.5" r="7"/><circle cx="708.2" cy="274.7" r="7"/><circle cx="634.7" cy="271.6" r="7"/><circle cx="404.6" cy="317.3" r="7"/><circle cx="856.5" cy="378.8" r="7"/><circle cx="453.7" cy="224.5" r="7"/><circle cx="645.5" cy="690.6" r="7"/><circle cx="635.5" cy="1036.8" r="7"/><circle cx="699.0" cy="1004.0" r="7"/><circle cx="613.7" cy="303.1" r="7"/><circle cx="726.2" cy="432.0" r="7"/><circle cx="826.0" cy="847.6" r="7"/><circle cx="483.2" cy="249.7" r="7"/><circle cx="554.4" cy="248.2" r="7"/><circle cx="1061.3" cy="475.9" r="7"/><circle cx="626.2" cy="278.3" r="7"/><circle cx="874.1" cy="847.6" r="7"/><circle cx="332.4" cy="323.3" r="7"/><circle cx="456.3" cy="243.6" r="7"/><circle cx="991.3" cy="418.4" r="7"/><circle cx="948.3" cy="806.5" r="7"/><circle cx="475.8" cy="343.5" r="7"/><circle cx="342.2" cy="819.8" r="7"/><circle cx="696.2" cy="363.5" r="7"/><circle cx="806.0" cy="906.8" r="7"/><circle cx="618.9" cy="707.0" r="7"/><circle cx="714.1" cy="806.0" r="7"/><circle cx="990.3" cy="446.8" r="7"/><circle cx="680.0" cy="867.3" r="7"/><circle cx="870.2" cy="434.9" r="7"/><circle cx="776.6" cy="535.0" r="7"/><circle cx="507.5" cy="259.2" r="7"/><circle cx="965.9" cy="421.7" r="7"/><circle cx="934.6" cy="804.1" r="7"/><circle cx="343.4" cy="538.0" r="7"/><circle cx="715.1" cy="312.7" r="7"/><circle cx="709.6" cy="687.9" r="7"/><circle cx="866.5" cy="812.5" r="7"/><circle cx="1020.2" cy="813.0" r="7"/><circle cx="506.1" cy="308.1" r="7"/><circle cx="724.3" cy="305.6" r="7"/><circle cx="388.9" cy="747.5" r="7"/><circle cx="920.4" cy="817.3" r="7"/><circle cx="567.2" cy="289.6" r="7"/><circle cx="298.7" cy="897.9" r="7"/><circle cx="589.2" cy="262.6" r="7"/><circle cx="469.6" cy="306.6" r="7"/><circle cx="647.8" cy="231.9" r="7"/><circle cx="418.1" cy="384.5" r="7"/><circle cx="337.0" cy="420.4" r="7"/><circle cx="627.4" cy="1030.1" r="7"/><circle cx="899.0" cy="508.7" r="7"/><circle cx="378.0" cy="549.2" r="7"/><circle cx="585.6" cy="531.1" r="7"/><circle cx="721.2" cy="855.0" r="7"/><circle cx="694.1" cy="993.7" r="7"/><circle cx="513.5" cy="952.8" r="7"/><circle cx="783.4" cy="456.1" r="7"/><circle cx="640.7" cy="498.1" r="7"/><circle cx="741.5" cy="461.6" r="7"/><circle cx="647.2" cy="961.5" r="7"/><circle cx="662.9" cy="1029.7" r="7"/><circle cx="809.9" cy="864.2" r="7"/><circle cx="365.3" cy="586.4" r="7"/><circle cx="670.9" cy="1021.5" r="7"/><circle cx="508.4" cy="224.8" r="7"/><circle cx="910.9" cy="931.9" r="7"/><circle cx="603.4" cy="232.3" r="7"/><circle cx="403.2" cy="246.0" r="7"/><circle cx="588.8" cy="1079.1" r="7"/><circle cx="529.8" cy="519.0" r="7"/><circle cx="1058.6" cy="470.3" r="7"/><circle cx="592.5" cy="756.1" r="7"/><circle cx="833.0" cy="904.4" r="7"/><circle cx="910.0" cy="431.0" r="7"/><circle cx="618.1" cy="277.1" r="7"/><circle cx="897.3" cy="884.5" r="7"/><circle cx="756.9" cy="767.0" r="7"/><circle cx="877.9" cy="489.0" r="7"/><circle cx="879.9" cy="842.1" r="7"/><circle cx="433.5" cy="319.6" r="7"/><circle cx="745.8" cy="243.5" r="7"/><circle cx="312.3" cy="362.9" r="7"/><circle cx="602.8" cy="983.0" r="7"/><circle cx="429.4" cy="299.8" r="7"/><circle cx="519.5" cy="279.6" r="7"/><circle cx="439.5" cy="800.7" r="7"/><circle cx="964.7" cy="815.4" r="7"/><circle cx="493.3" cy="383.3" r="7"/><circle cx="426.6" cy="243.7" r="7"/><circle cx="904.0" cy="409.4" r="7"/><circle cx="609.5" cy="285.7" r="7"/><circle cx="752.4" cy="313.1" r="7"/><circle cx="750.0" cy="283.6" r="7"/><circle cx="644.7" cy="1083.1" r="7"/><circle cx="729.5" cy="885.1" r="7"/><circle cx="390.4" cy="811.4" r="7"/><circle cx="586.5" cy="498.7" r="7"/><circle cx="502.1" cy="851.0" r="7"/><circle cx="483.9" cy="338.7" r="7"/><circle cx="573.6" cy="541.1" r="7"/><circle cx="338.2" cy="351.1" r="7"/><circle cx="915.0" cy="392.6" r="7"/><circle cx="358.0" cy="574.1" r="7"/><circle cx="369.1" cy="309.4" r="7"/><circle cx="908.8" cy="801.7" r="7"/><circle cx="623.3" cy="845.0" r="7"/><circle cx="869.8" cy="811.4" r="7"/><circle cx="648.7" cy="748.6" r="7"/><circle cx="537.6" cy="860.6" r="7"/><circle cx="838.3" cy="850.7" r="7"/><circle cx="346.5" cy="493.5" r="7"/><circle cx="838.0" cy="828.7" r="7"/><circle cx="868.5" cy="942.2" r="7"/><circle cx="398.7" cy="808.9" r="7"/><circle cx="793.0" cy="287.8" r="7"/><circle cx="574.8" cy="472.8" r="7"/><circle cx="1022.2" cy="439.6" r="7"/><circle cx="646.0" cy="485.5" r="7"/><circle cx="853.9" cy="425.8" r="7"/><circle cx="641.6" cy="507.3" r="7"/><circle cx="418.5" cy="744.8" r="7"/><circle cx="454.6" cy="355.0" r="7"/><circle cx="874.6" cy="806.4" r="7"/><circle cx="464.2" cy="383.8" r="7"/><circle cx="581.9" cy="235.3" r="7"/><circle cx="472.3" cy="343.6" r="7"/><circle cx="312.4" cy="898.0" r="7"/><circle cx="895.7" cy="819.0" r="7"/><circle cx="577.9" cy="447.4" r="7"/><circle cx="621.4" cy="262.5" r="7"/><circle cx="673.9" cy="361.8" r="7"/><circle cx="524.3" cy="267.2" r="7"/><circle cx="625.0" cy="213.8" r="7"/><circle cx="561.7" cy="289.2" r="7"/><circle cx="454.1" cy="343.3" r="7"/><circle cx="539.1" cy="275.1" r="7"/><circle cx="445.3" cy="288.5" r="7"/><circle cx="379.7" cy="272.2" r="7"/><circle cx="915.8" cy="925.7" r="7"/><circle cx="569.5" cy="867.5" r="7"/><circle cx="763.4" cy="775.3" r="7"/><circle cx="618.0" cy="490.8" r="7"/><circle cx="512.3" cy="1014.3" r="7"/><circle cx="739.6" cy="267.8" r="7"/><circle cx="1054.1" cy="367.7" r="7"/><circle cx="353.1" cy="402.9" r="7"/><circle cx="386.0" cy="733.5" r="7"/><circle cx="731.0" cy="763.4" r="7"/><circle cx="543.4" cy="307.1" r="7"/><circle cx="666.3" cy="698.4" r="7"/><circle cx="551.2" cy="230.8" r="7"/><circle cx="369.5" cy="517.0" r="7"/><circle cx="1028.6" cy="476.2" r="7"/><circle cx="679.1" cy="760.0" r="7"/><circle cx="398.5" cy="813.1" r="7"/><circle cx="461.1" cy="335.1" r="7"/><circle cx="632.6" cy="933.9" r="7"/><circle cx="909.2" cy="825.0" r="7"/><circle cx="688.2" cy="959.9" r="7"/><circle cx="677.1" cy="299.7" r="7"/><circle cx="566.1" cy="1044.5" r="7"/><circle cx="443.6" cy="293.7" r="7"/><circle cx="365.7" cy="495.6" r="7"/><circle cx="649.6" cy="266.8" r="7"/><circle cx="846.5" cy="805.4" r="7"/><circle cx="503.8" cy="1012.3" r="7"/><circle cx="548.6" cy="224.8" r="7"/><circle cx="677.7" cy="286.6" r="7"/><circle cx="1019.2" cy="807.2" r="7"/><circle cx="672.6" cy="226.6" r="7"/><circle cx="343.5" cy="502.5" r="7"/><circle cx="1005.5" cy="839.7" r="7"/><circle cx="551.8" cy="563.9" r="7"/><circle cx="902.6" cy="433.2" r="7"/><circle cx="670.2" cy="260.3" r="7"/><circle cx="703.1" cy="358.1" r="7"/><circle cx="833.0" cy="797.2" r="7"/><circle cx="429.2" cy="729.9" r="7"/><circle cx="635.7" cy="993.5" r="7"/><circle cx="358.3" cy="511.4" r="7"/><circle cx="730.1" cy="434.1" r="7"/><circle cx="493.8" cy="1002.9" r="7"/><circle cx="521.8" cy="857.1" r="7"/><circle cx="547.3" cy="933.7" r="7"/><circle cx="348.0" cy="372.8" r="7"/><circle cx="598.6" cy="534.8" r="7"/><circle cx="491.3" cy="308.2" r="7"/><circle cx="632.4" cy="515.1" r="7"/><circle cx="775.1" cy="739.9" r="7"/><circle cx="1115.6" cy="496.6" r="7"/><circle cx="546.0" cy="840.1" r="7"/><circle cx="848.0" cy="867.0" r="7"/><circle cx="873.2" cy="411.5" r="7"/><circle cx="329.9" cy="335.9" r="7"/><circle cx="613.8" cy="841.8" r="7"/><circle cx="538.6" cy="506.1" r="7"/><circle cx="907.2" cy="833.5" r="7"/><circle cx="924.1" cy="849.8" r="7"/><circle cx="507.2" cy="229.5" r="7"/><circle cx="957.7" cy="425.0" r="7"/><circle cx="659.7" cy="861.3" r="7"/><circle cx="607.4" cy="527.3" r="7"/><circle cx="355.0" cy="542.9" r="7"/><circle cx="710.3" cy="817.5" r="7"/><circle cx="628.4" cy="711.6" r="7"/><circle cx="678.8" cy="1028.8" r="7"/><circle cx="353.2" cy="460.1" r="7"/><circle cx="588.9" cy="403.9" r="7"/><circle cx="362.2" cy="401.5" r="7"/><circle cx="331.4" cy="522.6" r="7"/><circle cx="628.1" cy="790.8" r="7"/><circle cx="869.3" cy="947.8" r="7"/><circle cx="339.9" cy="337.1" r="7"/><circle cx="944.1" cy="795.2" r="7"/><circle cx="757.6" cy="456.4" r="7"/><circle cx="528.5" cy="284.3" r="7"/><circle cx="734.8" cy="881.0" r="7"/><circle cx="636.6" cy="983.5" r="7"/><circle cx="563.2" cy="1054.4" r="7"/><circle cx="290.1" cy="344.9" r="7"/><circle cx="900.5" cy="887.6" r="7"/><circle cx="372.6" cy="486.6" r="7"/><circle cx="224.6" cy="411.5" r="7"/><circle cx="243.8" cy="410.0" r="7"/><circle cx="815.0" cy="287.5" r="7"/><circle cx="811.2" cy="343.8" r="7"/><circle cx="835.6" cy="351.2" r="7"/><circle cx="949.7" cy="486.2" r="7"/><circle cx="459.4" cy="755.0" r="7"/><circle cx="695.0" cy="916.2" r="7"/></g><g fill="#e4eff6"><circle cx="890.7" cy="909.5" r="7"/><circle cx="703.3" cy="278.8" r="7"/><circle cx="736.0" cy="439.3" r="7"/><circle cx="321.0" cy="403.8" r="7"/><circle cx="951.8" cy="790.6" r="7"/><circle cx="641.8" cy="976.3" r="7"/><circle cx="512.0" cy="286.5" r="7"/><circle cx="588.2" cy="277.0" r="7"/><circle cx="591.0" cy="269.6" r="7"/><circle cx="638.6" cy="701.0" r="7"/><circle cx="629.5" cy="276.1" r="7"/><circle cx="630.8" cy="997.9" r="7"/><circle cx="462.0" cy="314.8" r="7"/><circle cx="529.0" cy="301.3" r="7"/><circle cx="632.1" cy="217.0" r="7"/><circle cx="304.6" cy="899.7" r="7"/><circle cx="729.7" cy="262.3" r="7"/><circle cx="394.3" cy="410.6" r="7"/><circle cx="621.0" cy="718.4" r="7"/><circle cx="864.6" cy="376.4" r="7"/><circle cx="767.2" cy="312.4" r="7"/><circle cx="403.8" cy="377.4" r="7"/><circle cx="284.9" cy="346.4" r="7"/><circle cx="564.9" cy="963.4" r="7"/><circle cx="858.0" cy="847.3" r="7"/><circle cx="504.4" cy="317.6" r="7"/><circle cx="649.3" cy="515.7" r="7"/><circle cx="347.8" cy="303.6" r="7"/><circle cx="505.1" cy="336.9" r="7"/><circle cx="675.8" cy="415.5" r="7"/><circle cx="700.3" cy="352.5" r="7"/><circle cx="409.6" cy="346.2" r="7"/><circle cx="799.8" cy="784.4" r="7"/><circle cx="698.8" cy="237.3" r="7"/><circle cx="334.8" cy="343.6" r="7"/><circle cx="504.5" cy="959.6" r="7"/><circle cx="679.9" cy="882.5" r="7"/><circle cx="865.3" cy="910.1" r="7"/><circle cx="608.3" cy="986.8" r="7"/><circle cx="985.0" cy="825.5" r="7"/><circle cx="337.3" cy="491.5" r="7"/><circle cx="602.7" cy="842.1" r="7"/><circle cx="907.2" cy="839.5" r="7"/><circle cx="885.9" cy="318.6" r="7"/><circle cx="678.0" cy="950.1" r="7"/><circle cx="895.4" cy="511.0" r="7"/><circle cx="917.1" cy="388.6" r="7"/><circle cx="309.3" cy="906.5" r="7"/><circle cx="690.1" cy="327.4" r="7"/><circle cx="705.7" cy="782.9" r="7"/><circle cx="523.3" cy="519.6" r="7"/><circle cx="404.9" cy="277.6" r="7"/><circle cx="670.1" cy="874.5" r="7"/><circle cx="694.9" cy="740.8" r="7"/><circle cx="699.7" cy="1045.4" r="7"/><circle cx="416.5" cy="341.3" r="7"/><circle cx="831.2" cy="874.7" r="7"/><circle cx="780.8" cy="783.4" r="7"/><circle cx="906.6" cy="845.1" r="7"/><circle cx="746.6" cy="759.9" r="7"/><circle cx="604.2" cy="258.9" r="7"/><circle cx="427.0" cy="837.6" r="7"/><circle cx="716.2" cy="794.3" r="7"/><circle cx="630.8" cy="543.9" r="7"/><circle cx="344.1" cy="808.7" r="7"/><circle cx="639.3" cy="1004.9" r="7"/><circle cx="473.6" cy="300.4" r="7"/><circle cx="1037.4" cy="462.6" r="7"/><circle cx="1020.9" cy="455.8" r="7"/><circle cx="579.1" cy="907.4" r="7"/><circle cx="666.9" cy="254.8" r="7"/><circle cx="1053.2" cy="324.1" r="7"/><circle cx="474.7" cy="292.4" r="7"/><circle cx="348.7" cy="334.2" r="7"/><circle cx="360.2" cy="282.4" r="7"/><circle cx="822.4" cy="847.6" r="7"/><circle cx="781.6" cy="738.8" r="7"/><circle cx="541.3" cy="513.0" r="7"/><circle cx="389.4" cy="537.1" r="7"/><circle cx="578.8" cy="511.6" r="7"/><circle cx="333.9" cy="460.3" r="7"/><circle cx="702.2" cy="1016.8" r="7"/><circle cx="319.3" cy="319.8" r="7"/><circle cx="955.8" cy="491.9" r="7"/><circle cx="651.3" cy="743.4" r="7"/><circle cx="684.4" cy="869.0" r="7"/><circle cx="355.7" cy="807.4" r="7"/><circle cx="367.2" cy="441.1" r="7"/><circle cx="581.0" cy="252.9" r="7"/><circle cx="463.9" cy="374.4" r="7"/><circle cx="873.5" cy="871.0" r="7"/><circle cx="420.9" cy="275.5" r="7"/><circle cx="818.4" cy="863.9" r="7"/><circle cx="742.1" cy="766.2" r="7"/><circle cx="569.3" cy="965.5" r="7"/><circle cx="587.6" cy="493.8" r="7"/><circle cx="315.0" cy="476.6" r="7"/><circle cx="494.6" cy="282.3" r="7"/><circle cx="670.2" cy="1038.2" r="7"/><circle cx="544.3" cy="1017.3" r="7"/><circle cx="1065.4" cy="483.3" r="7"/><circle cx="945.1" cy="901.5" r="7"/><circle cx="688.2" cy="304.6" r="7"/><circle cx="739.2" cy="774.9" r="7"/><circle cx="985.3" cy="858.7" r="7"/><circle cx="557.6" cy="492.1" r="7"/><circle cx="471.9" cy="332.8" r="7"/><circle cx="839.1" cy="890.0" r="7"/><circle cx="672.8" cy="822.6" r="7"/><circle cx="609.7" cy="726.2" r="7"/><circle cx="1002.8" cy="445.7" r="7"/><circle cx="1046.9" cy="475.9" r="7"/><circle cx="665.7" cy="761.5" r="7"/><circle cx="514.9" cy="507.0" r="7"/><circle cx="906.1" cy="315.8" r="7"/><circle cx="488.8" cy="328.5" r="7"/><circle cx="490.7" cy="268.6" r="7"/><circle cx="700.7" cy="348.5" r="7"/><circle cx="448.3" cy="257.2" r="7"/><circle cx="426.8" cy="262.3" r="7"/><circle cx="305.3" cy="912.1" r="7"/><circle cx="438.7" cy="276.7" r="7"/><circle cx="501.8" cy="264.5" r="7"/><circle cx="681.2" cy="260.3" r="7"/><circle cx="933.5" cy="895.2" r="7"/><circle cx="555.7" cy="1012.6" r="7"/><circle cx="652.1" cy="852.9" r="7"/><circle cx="499.2" cy="862.3" r="7"/><circle cx="787.5" cy="842.0" r="7"/><circle cx="868.9" cy="877.6" r="7"/><circle cx="492.4" cy="948.1" r="7"/><circle cx="523.4" cy="244.0" r="7"/><circle cx="759.1" cy="749.2" r="7"/><circle cx="545.8" cy="873.8" r="7"/><circle cx="968.2" cy="819.8" r="7"/><circle cx="516.9" cy="285.9" r="7"/><circle cx="558.1" cy="220.7" r="7"/><circle cx="868.5" cy="817.6" r="7"/><circle cx="1106.8" cy="495.5" r="7"/><circle cx="610.2" cy="820.1" r="7"/><circle cx="573.2" cy="916.3" r="7"/><circle cx="990.0" cy="783.3" r="7"/><circle cx="639.9" cy="530.5" r="7"/><circle cx="573.7" cy="523.3" r="7"/><circle cx="447.7" cy="335.3" r="7"/><circle cx="389.9" cy="754.6" r="7"/><circle cx="639.9" cy="981.2" r="7"/><circle cx="398.4" cy="298.0" r="7"/><circle cx="688.3" cy="819.4" r="7"/><circle cx="430.4" cy="273.0" r="7"/><circle cx="723.7" cy="1043.7" r="7"/><circle cx="513.4" cy="251.1" r="7"/><circle cx="944.8" cy="893.8" r="7"/><circle cx="509.2" cy="519.5" r="7"/><circle cx="347.3" cy="478.3" r="7"/><circle cx="744.4" cy="841.6" r="7"/><circle cx="739.9" cy="433.2" r="7"/><circle cx="641.6" cy="1035.1" r="7"/><circle cx="350.6" cy="469.8" r="7"/><circle cx="609.8" cy="885.2" r="7"/><circle cx="414.2" cy="548.7" r="7"/><circle cx="479.5" cy="320.2" r="7"/><circle cx="354.3" cy="469.1" r="7"/><circle cx="870.0" cy="938.7" r="7"/><circle cx="314.3" cy="488.1" r="7"/><circle cx="866.4" cy="889.7" r="7"/><circle cx="812.2" cy="886.8" r="7"/><circle cx="945.0" cy="426.4" r="7"/><circle cx="574.7" cy="571.0" r="7"/><circle cx="675.8" cy="217.8" r="7"/><circle cx="828.9" cy="861.1" r="7"/><circle cx="694.3" cy="264.6" r="7"/><circle cx="368.5" cy="486.8" r="7"/><circle cx="333.3" cy="310.5" r="7"/><circle cx="729.8" cy="273.7" r="7"/><circle cx="361.0" cy="464.1" r="7"/><circle cx="609.1" cy="788.4" r="7"/><circle cx="543.9" cy="865.6" r="7"/><circle cx="575.7" cy="231.7" r="7"/><circle cx="890.6" cy="889.9" r="7"/><circle cx="472.7" cy="250.7" r="7"/><circle cx="634.2" cy="839.2" r="7"/><circle cx="592.3" cy="1065.6" r="7"/><circle cx="697.7" cy="1030.6" r="7"/><circle cx="681.7" cy="285.5" r="7"/><circle cx="1104.6" cy="501.5" r="7"/><circle cx="614.5" cy="690.7" r="7"/><circle cx="554.4" cy="313.3" r="7"/><circle cx="499.7" cy="891.6" r="7"/><circle cx="916.4" cy="829.2" r="7"/><circle cx="299.9" cy="314.9" r="7"/><circle cx="669.1" cy="864.9" r="7"/><circle cx="404.5" cy="367.9" r="7"/><circle cx="346.9" cy="261.0" r="7"/><circle cx="928.2" cy="865.3" r="7"/><circle cx="326.2" cy="332.2" r="7"/><circle cx="592.5" cy="922.0" r="7"/><circle cx="778.6" cy="305.7" r="7"/><circle cx="403.7" cy="392.3" r="7"/><circle cx="662.5" cy="493.9" r="7"/><circle cx="377.5" cy="557.3" r="7"/><circle cx="427.3" cy="277.7" r="7"/><circle cx="1034.8" cy="480.6" r="7"/><circle cx="1030.5" cy="452.4" r="7"/><circle cx="1098.7" cy="505.0" r="7"/><circle cx="749.1" cy="790.1" r="7"/><circle cx="628.6" cy="437.8" r="7"/><circle cx="593.1" cy="563.7" r="7"/><circle cx="366.9" cy="759.7" r="7"/><circle cx="363.6" cy="572.4" r="7"/><circle cx="575.5" cy="313.4" r="7"/><circle cx="594.2" cy="954.6" r="7"/><circle cx="655.3" cy="840.0" r="7"/><circle cx="654.1" cy="282.6" r="7"/><circle cx="934.7" cy="889.6" r="7"/><circle cx="761.3" cy="795.2" r="7"/><circle cx="615.3" cy="832.8" r="7"/><circle cx="310.8" cy="404.0" r="7"/><circle cx="227.8" cy="468.1" r="7"/><circle cx="809.4" cy="278.1" r="7"/><circle cx="800.0" cy="338.1" r="7"/><circle cx="800.0" cy="349.4" r="7"/><circle cx="969.4" cy="494.7" r="7"/><circle cx="683.4" cy="557.2" r="7"/><circle cx="893.8" cy="688.8" r="7"/><circle cx="316.2" cy="911.2" r="7"/></g><g fill="#e8f1f6"><circle cx="702.4" cy="1057.7" r="7"/><circle cx="455.8" cy="287.8" r="7"/><circle cx="771.5" cy="744.8" r="7"/><circle cx="308.4" cy="498.6" r="7"/><circle cx="912.1" cy="912.7" r="7"/><circle cx="506.4" cy="279.8" r="7"/><circle cx="779.4" cy="819.2" r="7"/><circle cx="443.4" cy="354.2" r="7"/><circle cx="655.9" cy="295.4" r="7"/><circle cx="319.5" cy="395.4" r="7"/><circle cx="479.5" cy="895.9" r="7"/><circle cx="591.2" cy="254.4" r="7"/><circle cx="346.9" cy="433.3" r="7"/><circle cx="499.4" cy="301.7" r="7"/><circle cx="540.2" cy="826.6" r="7"/><circle cx="703.2" cy="1020.8" r="7"/><circle cx="497.4" cy="229.1" r="7"/><circle cx="912.1" cy="851.7" r="7"/><circle cx="908.5" cy="795.9" r="7"/><circle cx="590.0" cy="852.1" r="7"/><circle cx="733.2" cy="1020.8" r="7"/><circle cx="543.7" cy="917.5" r="7"/><circle cx="888.5" cy="869.1" r="7"/><circle cx="387.3" cy="422.3" r="7"/><circle cx="995.8" cy="837.9" r="7"/><circle cx="431.3" cy="245.6" r="7"/><circle cx="506.3" cy="243.0" r="7"/><circle cx="930.3" cy="852.6" r="7"/><circle cx="434.6" cy="240.5" r="7"/><circle cx="756.8" cy="796.3" r="7"/><circle cx="437.6" cy="305.7" r="7"/><circle cx="361.2" cy="319.9" r="7"/><circle cx="673.4" cy="1040.8" r="7"/><circle cx="931.7" cy="502.8" r="7"/><circle cx="647.7" cy="771.4" r="7"/><circle cx="604.2" cy="505.2" r="7"/><circle cx="450.3" cy="314.6" r="7"/><circle cx="485.6" cy="372.1" r="7"/><circle cx="611.7" cy="711.9" r="7"/><circle cx="552.0" cy="521.5" r="7"/><circle cx="714.9" cy="780.1" r="7"/><circle cx="421.4" cy="836.4" r="7"/><circle cx="503.5" cy="230.8" r="7"/><circle cx="278.6" cy="341.7" r="7"/><circle cx="608.2" cy="978.9" r="7"/><circle cx="829.0" cy="838.9" r="7"/><circle cx="616.6" cy="701.5" r="7"/><circle cx="718.8" cy="820.1" r="7"/><circle cx="967.1" cy="823.5" r="7"/><circle cx="513.9" cy="986.2" r="7"/><circle cx="527.6" cy="304.4" r="7"/><circle cx="646.8" cy="783.3" r="7"/><circle cx="927.9" cy="408.3" r="7"/><circle cx="368.8" cy="794.4" r="7"/><circle cx="446.3" cy="275.4" r="7"/><circle cx="844.0" cy="836.3" r="7"/><circle cx="626.1" cy="455.2" r="7"/><circle cx="558.2" cy="497.5" r="7"/><circle cx="684.8" cy="1061.3" r="7"/><circle cx="928.2" cy="844.9" r="7"/><circle cx="364.7" cy="802.1" r="7"/><circle cx="328.9" cy="464.7" r="7"/><circle cx="480.6" cy="348.9" r="7"/><circle cx="308.3" cy="456.4" r="7"/><circle cx="873.1" cy="900.5" r="7"/><circle cx="357.4" cy="555.6" r="7"/><circle cx="558.6" cy="1005.3" r="7"/><circle cx="321.6" cy="459.0" r="7"/><circle cx="663.5" cy="856.6" r="7"/><circle cx="367.5" cy="432.0" r="7"/><circle cx="806.8" cy="449.4" r="7"/><circle cx="733.8" cy="322.0" r="7"/><circle cx="686.2" cy="1017.0" r="7"/><circle cx="420.7" cy="316.8" r="7"/><circle cx="843.5" cy="821.6" r="7"/><circle cx="512.2" cy="277.2" r="7"/><circle cx="906.1" cy="923.5" r="7"/><circle cx="686.2" cy="1029.2" r="7"/><circle cx="500.6" cy="942.8" r="7"/><circle cx="872.7" cy="394.1" r="7"/><circle cx="864.7" cy="862.3" r="7"/><circle cx="363.5" cy="438.4" r="7"/><circle cx="461.9" cy="227.7" r="7"/><circle cx="657.0" cy="951.4" r="7"/><circle cx="353.9" cy="396.9" r="7"/><circle cx="904.5" cy="516.0" r="7"/><circle cx="659.8" cy="1006.6" r="7"/><circle cx="800.1" cy="790.8" r="7"/><circle cx="647.2" cy="275.2" r="7"/><circle cx="451.1" cy="272.8" r="7"/><circle cx="581.3" cy="1078.3" r="7"/><circle cx="854.9" cy="892.4" r="7"/><circle cx="920.5" cy="879.5" r="7"/><circle cx="663.2" cy="791.7" r="7"/><circle cx="672.6" cy="302.6" r="7"/><circle cx="460.5" cy="394.5" r="7"/><circle cx="945.4" cy="417.4" r="7"/><circle cx="664.2" cy="849.6" r="7"/><circle cx="762.9" cy="462.9" r="7"/><circle cx="311.6" cy="279.4" r="7"/><circle cx="649.2" cy="243.3" r="7"/><circle cx="819.1" cy="879.6" r="7"/><circle cx="616.3" cy="697.4" r="7"/><circle cx="810.8" cy="872.9" r="7"/><circle cx="379.3" cy="751.5" r="7"/><circle cx="876.1" cy="394.4" r="7"/><circle cx="865.7" cy="835.3" r="7"/><circle cx="578.4" cy="850.1" r="7"/><circle cx="544.7" cy="252.3" r="7"/><circle cx="966.0" cy="778.6" r="7"/><circle cx="847.1" cy="885.5" r="7"/><circle cx="589.8" cy="865.1" r="7"/><circle cx="744.6" cy="292.4" r="7"/><circle cx="501.9" cy="972.7" r="7"/><circle cx="717.6" cy="1027.6" r="7"/><circle cx="715.9" cy="244.3" r="7"/><circle cx="479.6" cy="290.0" r="7"/><circle cx="584.3" cy="978.9" r="7"/><circle cx="318.5" cy="446.9" r="7"/><circle cx="918.8" cy="921.5" r="7"/><circle cx="688.9" cy="951.9" r="7"/><circle cx="920.2" cy="833.4" r="7"/><circle cx="530.1" cy="909.9" r="7"/><circle cx="538.2" cy="821.9" r="7"/><circle cx="419.2" cy="551.7" r="7"/><circle cx="601.8" cy="752.8" r="7"/><circle cx="824.6" cy="863.1" r="7"/><circle cx="708.0" cy="249.1" r="7"/><circle cx="708.6" cy="1037.2" r="7"/><circle cx="953.6" cy="878.1" r="7"/><circle cx="756.4" cy="789.5" r="7"/><circle cx="861.7" cy="887.2" r="7"/><circle cx="659.2" cy="1052.5" r="7"/><circle cx="823.1" cy="427.9" r="7"/><circle cx="528.9" cy="336.0" r="7"/><circle cx="430.0" cy="257.4" r="7"/><circle cx="862.1" cy="403.8" r="7"/><circle cx="842.5" cy="874.3" r="7"/><circle cx="316.7" cy="467.0" r="7"/><circle cx="760.9" cy="457.0" r="7"/><circle cx="583.0" cy="413.4" r="7"/><circle cx="908.3" cy="925.9" r="7"/><circle cx="542.3" cy="286.2" r="7"/><circle cx="418.8" cy="807.3" r="7"/><circle cx="611.1" cy="1031.6" r="7"/><circle cx="480.6" cy="339.7" r="7"/><circle cx="666.6" cy="243.0" r="7"/><circle cx="812.9" cy="836.4" r="7"/><circle cx="644.7" cy="704.7" r="7"/><circle cx="291.7" cy="333.3" r="7"/><circle cx="597.9" cy="271.8" r="7"/><circle cx="904.4" cy="804.5" r="7"/><circle cx="974.0" cy="821.1" r="7"/><circle cx="434.4" cy="796.4" r="7"/><circle cx="296.2" cy="444.8" r="7"/><circle cx="385.5" cy="799.2" r="7"/><circle cx="662.4" cy="732.3" r="7"/><circle cx="768.9" cy="553.4" r="7"/><circle cx="578.1" cy="554.3" r="7"/><circle cx="418.3" cy="817.4" r="7"/><circle cx="1025.2" cy="472.0" r="7"/><circle cx="1021.2" cy="477.1" r="7"/><circle cx="916.1" cy="818.4" r="7"/><circle cx="618.4" cy="446.8" r="7"/><circle cx="911.1" cy="376.5" r="7"/><circle cx="606.3" cy="875.3" r="7"/><circle cx="878.3" cy="836.5" r="7"/><circle cx="508.1" cy="1016.2" r="7"/><circle cx="862.4" cy="832.1" r="7"/><circle cx="747.7" cy="446.4" r="7"/><circle cx="490.9" cy="360.6" r="7"/><circle cx="364.4" cy="551.1" r="7"/><circle cx="941.3" cy="856.1" r="7"/><circle cx="659.5" cy="498.6" r="7"/><circle cx="855.4" cy="808.5" r="7"/><circle cx="930.5" cy="827.0" r="7"/><circle cx="861.9" cy="412.9" r="7"/><circle cx="538.2" cy="544.3" r="7"/><circle cx="924.8" cy="892.4" r="7"/><circle cx="352.7" cy="486.7" r="7"/><circle cx="680.8" cy="241.9" r="7"/><circle cx="932.3" cy="796.2" r="7"/><circle cx="976.1" cy="791.4" r="7"/><circle cx="713.7" cy="1062.4" r="7"/><circle cx="621.3" cy="277.8" r="7"/><circle cx="413.3" cy="402.8" r="7"/><circle cx="767.0" cy="837.1" r="7"/><circle cx="978.0" cy="831.3" r="7"/><circle cx="664.9" cy="821.9" r="7"/><circle cx="821.1" cy="815.3" r="7"/><circle cx="551.0" cy="917.0" r="7"/><circle cx="964.7" cy="835.5" r="7"/><circle cx="572.7" cy="1048.1" r="7"/><circle cx="331.3" cy="376.6" r="7"/><circle cx="573.2" cy="1075.0" r="7"/><circle cx="647.3" cy="991.9" r="7"/><circle cx="354.3" cy="451.8" r="7"/><circle cx="653.2" cy="318.0" r="7"/><circle cx="917.3" cy="505.6" r="7"/><circle cx="828.1" cy="287.5" r="7"/><circle cx="833.8" cy="289.4" r="7"/><circle cx="826.2" cy="345.6" r="7"/><circle cx="972.5" cy="479.5" r="7"/><circle cx="973.1" cy="479.7" r="7"/><circle cx="741.2" cy="559.2" r="7"/><circle cx="323.8" cy="916.2" r="7"/></g><g fill="#ecf3f7"><circle cx="885.2" cy="873.1" r="7"/><circle cx="869.2" cy="901.2" r="7"/><circle cx="349.5" cy="285.2" r="7"/><circle cx="887.6" cy="858.7" r="7"/><circle cx="447.6" cy="285.1" r="7"/><circle cx="875.4" cy="832.5" r="7"/><circle cx="327.2" cy="492.0" r="7"/><circle cx="676.4" cy="239.1" r="7"/><circle cx="417.9" cy="251.6" r="7"/><circle cx="419.2" cy="839.2" r="7"/><circle cx="626.6" cy="747.5" r="7"/><circle cx="734.0" cy="746.6" r="7"/><circle cx="509.6" cy="251.6" r="7"/><circle cx="600.5" cy="870.8" r="7"/><circle cx="646.8" cy="821.3" r="7"/><circle cx="712.4" cy="876.1" r="7"/><circle cx="643.1" cy="1061.9" r="7"/><circle cx="555.9" cy="479.4" r="7"/><circle cx="713.4" cy="1037.4" r="7"/><circle cx="638.9" cy="794.7" r="7"/><circle cx="383.0" cy="388.2" r="7"/><circle cx="388.6" cy="275.9" r="7"/><circle cx="530.1" cy="360.3" r="7"/><circle cx="1111.1" cy="509.5" r="7"/><circle cx="895.6" cy="901.0" r="7"/><circle cx="759.9" cy="831.8" r="7"/><circle cx="386.2" cy="431.5" r="7"/><circle cx="718.4" cy="769.2" r="7"/><circle cx="428.1" cy="240.5" r="7"/><circle cx="573.5" cy="496.7" r="7"/><circle cx="368.2" cy="331.9" r="7"/><circle cx="385.0" cy="745.0" r="7"/><circle cx="311.4" cy="442.5" r="7"/><circle cx="677.4" cy="779.6" r="7"/><circle cx="369.8" cy="372.4" r="7"/><circle cx="432.0" cy="282.2" r="7"/><circle cx="341.7" cy="414.4" r="7"/><circle cx="550.1" cy="1034.6" r="7"/><circle cx="874.2" cy="386.6" r="7"/><circle cx="556.8" cy="243.7" r="7"/><circle cx="560.4" cy="518.2" r="7"/><circle cx="331.9" cy="515.6" r="7"/><circle cx="432.4" cy="429.3" r="7"/><circle cx="396.3" cy="274.0" r="7"/><circle cx="915.8" cy="807.5" r="7"/><circle cx="660.7" cy="754.6" r="7"/><circle cx="555.7" cy="808.0" r="7"/><circle cx="644.7" cy="1000.5" r="7"/><circle cx="387.9" cy="453.8" r="7"/><circle cx="585.4" cy="854.1" r="7"/><circle cx="342.1" cy="441.7" r="7"/><circle cx="767.6" cy="424.0" r="7"/><circle cx="797.7" cy="440.9" r="7"/><circle cx="777.1" cy="867.4" r="7"/><circle cx="523.9" cy="281.7" r="7"/><circle cx="558.5" cy="798.1" r="7"/><circle cx="422.3" cy="329.0" r="7"/><circle cx="627.9" cy="814.6" r="7"/><circle cx="835.4" cy="878.8" r="7"/><circle cx="712.3" cy="450.2" r="7"/><circle cx="564.2" cy="1024.5" r="7"/><circle cx="909.6" cy="866.3" r="7"/><circle cx="621.6" cy="1058.7" r="7"/><circle cx="654.4" cy="521.8" r="7"/><circle cx="562.3" cy="987.3" r="7"/><circle cx="423.0" cy="260.9" r="7"/><circle cx="682.6" cy="370.0" r="7"/><circle cx="400.0" cy="445.7" r="7"/><circle cx="540.0" cy="313.4" r="7"/><circle cx="870.2" cy="406.4" r="7"/><circle cx="975.0" cy="813.3" r="7"/><circle cx="660.1" cy="1021.5" r="7"/><circle cx="641.9" cy="1073.5" r="7"/><circle cx="420.9" cy="346.3" r="7"/><circle cx="583.6" cy="278.4" r="7"/><circle cx="496.9" cy="326.1" r="7"/><circle cx="355.4" cy="496.4" r="7"/><circle cx="515.7" cy="472.9" r="7"/><circle cx="708.3" cy="789.2" r="7"/><circle cx="467.1" cy="357.7" r="7"/><circle cx="551.7" cy="530.8" r="7"/><circle cx="702.0" cy="1067.7" r="7"/><circle cx="739.8" cy="825.8" r="7"/><circle cx="565.7" cy="969.8" r="7"/><circle cx="502.4" cy="1005.2" r="7"/><circle cx="681.1" cy="1059.9" r="7"/><circle cx="710.2" cy="1012.5" r="7"/><circle cx="553.8" cy="971.7" r="7"/><circle cx="1036.2" cy="476.6" r="7"/><circle cx="366.7" cy="405.6" r="7"/><circle cx="600.9" cy="1054.2" r="7"/><circle cx="471.2" cy="391.0" r="7"/><circle cx="978.9" cy="784.3" r="7"/><circle cx="354.1" cy="375.0" r="7"/><circle cx="351.7" cy="302.3" r="7"/><circle cx="996.2" cy="439.2" r="7"/><circle cx="574.5" cy="817.6" r="7"/><circle cx="727.6" cy="1021.0" r="7"/><circle cx="670.2" cy="1081.1" r="7"/><circle cx="354.7" cy="308.1" r="7"/><circle cx="615.2" cy="999.6" r="7"/><circle cx="646.8" cy="1043.3" r="7"/><circle cx="469.9" cy="359.2" r="7"/><circle cx="584.5" cy="989.6" r="7"/><circle cx="867.5" cy="429.8" r="7"/><circle cx="615.6" cy="1003.6" r="7"/><circle cx="609.5" cy="719.5" r="7"/><circle cx="889.3" cy="900.0" r="7"/><circle cx="907.0" cy="435.7" r="7"/><circle cx="734.3" cy="781.1" r="7"/><circle cx="966.3" cy="497.1" r="7"/><circle cx="656.9" cy="751.0" r="7"/><circle cx="558.7" cy="890.0" r="7"/><circle cx="335.2" cy="438.6" r="7"/><circle cx="1001.4" cy="788.0" r="7"/><circle cx="1111.0" cy="502.2" r="7"/><circle cx="571.5" cy="943.1" r="7"/><circle cx="691.0" cy="990.6" r="7"/><circle cx="523.6" cy="878.4" r="7"/><circle cx="611.4" cy="293.9" r="7"/><circle cx="947.9" cy="861.3" r="7"/><circle cx="685.1" cy="250.9" r="7"/><circle cx="835.2" cy="838.5" r="7"/><circle cx="565.0" cy="451.7" r="7"/><circle cx="341.3" cy="456.1" r="7"/><circle cx="548.2" cy="312.2" r="7"/><circle cx="677.2" cy="805.0" r="7"/><circle cx="748.1" cy="798.2" r="7"/><circle cx="871.5" cy="850.8" r="7"/><circle cx="577.5" cy="304.5" r="7"/><circle cx="622.9" cy="876.7" r="7"/><circle cx="599.0" cy="251.0" r="7"/><circle cx="582.6" cy="1027.6" r="7"/><circle cx="702.4" cy="241.8" r="7"/><circle cx="679.7" cy="852.2" r="7"/><circle cx="548.7" cy="518.9" r="7"/><circle cx="971.5" cy="781.4" r="7"/><circle cx="916.0" cy="514.9" r="7"/><circle cx="509.6" cy="908.6" r="7"/><circle cx="965.7" cy="868.7" r="7"/><circle cx="339.6" cy="432.5" r="7"/><circle cx="562.4" cy="946.3" r="7"/><circle cx="468.1" cy="329.9" r="7"/><circle cx="887.8" cy="426.4" r="7"/><circle cx="549.3" cy="996.5" r="7"/><circle cx="576.3" cy="486.8" r="7"/><circle cx="533.5" cy="834.0" r="7"/><circle cx="581.8" cy="264.3" r="7"/><circle cx="705.8" cy="454.9" r="7"/><circle cx="818.9" cy="858.1" r="7"/><circle cx="574.2" cy="274.3" r="7"/><circle cx="944.1" cy="864.9" r="7"/><circle cx="518.9" cy="892.1" r="7"/><circle cx="941.7" cy="415.7" r="7"/><circle cx="629.9" cy="433.9" r="7"/><circle cx="529.3" cy="495.7" r="7"/><circle cx="651.9" cy="762.5" r="7"/><circle cx="359.6" cy="423.6" r="7"/><circle cx="334.4" cy="276.1" r="7"/><circle cx="424.3" cy="397.8" r="7"/><circle cx="1047.5" cy="483.0" r="7"/><circle cx="391.5" cy="333.8" r="7"/><circle cx="867.3" cy="850.1" r="7"/><circle cx="709.5" cy="1063.2" r="7"/><circle cx="872.9" cy="889.3" r="7"/><circle cx="627.6" cy="706.6" r="7"/><circle cx="629.8" cy="809.8" r="7"/><circle cx="535.4" cy="819.3" r="7"/><circle cx="578.1" cy="949.6" r="7"/><circle cx="412.0" cy="418.8" r="7"/><circle cx="364.4" cy="389.7" r="7"/><circle cx="703.9" cy="363.3" r="7"/><circle cx="538.5" cy="295.0" r="7"/><circle cx="462.7" cy="270.0" r="7"/><circle cx="764.2" cy="748.4" r="7"/><circle cx="881.4" cy="908.0" r="7"/><circle cx="433.3" cy="308.0" r="7"/><circle cx="519.3" cy="908.9" r="7"/><circle cx="294.4" cy="309.1" r="7"/><circle cx="1051.1" cy="485.9" r="7"/><circle cx="1040.4" cy="455.0" r="7"/><circle cx="958.5" cy="433.0" r="7"/><circle cx="608.3" cy="827.7" r="7"/><circle cx="971.3" cy="842.1" r="7"/><circle cx="668.7" cy="231.5" r="7"/></g><g fill="#f0f5f8"><circle cx="1006.1" cy="488.6" r="7"/><circle cx="465.8" cy="341.2" r="7"/><circle cx="583.6" cy="863.4" r="7"/><circle cx="885.5" cy="824.8" r="7"/><circle cx="968.2" cy="795.4" r="7"/><circle cx="649.3" cy="957.1" r="7"/><circle cx="803.8" cy="882.9" r="7"/><circle cx="763.3" cy="431.1" r="7"/><circle cx="675.4" cy="1013.8" r="7"/><circle cx="659.9" cy="1032.6" r="7"/><circle cx="333.6" cy="369.6" r="7"/><circle cx="443.5" cy="256.8" r="7"/><circle cx="743.2" cy="280.9" r="7"/><circle cx="525.0" cy="844.3" r="7"/><circle cx="297.5" cy="358.0" r="7"/><circle cx="394.3" cy="551.8" r="7"/><circle cx="633.7" cy="307.2" r="7"/><circle cx="539.9" cy="910.2" r="7"/><circle cx="413.0" cy="432.8" r="7"/><circle cx="600.2" cy="821.2" r="7"/><circle cx="654.0" cy="1022.8" r="7"/><circle cx="537.0" cy="482.4" r="7"/><circle cx="613.7" cy="825.5" r="7"/><circle cx="594.9" cy="468.7" r="7"/><circle cx="871.1" cy="880.5" r="7"/><circle cx="391.2" cy="257.1" r="7"/><circle cx="772.4" cy="443.5" r="7"/><circle cx="633.4" cy="850.3" r="7"/><circle cx="606.3" cy="1068.0" r="7"/><circle cx="516.8" cy="242.4" r="7"/><circle cx="883.0" cy="843.8" r="7"/><circle cx="551.6" cy="261.0" r="7"/><circle cx="477.1" cy="273.5" r="7"/><circle cx="971.8" cy="795.2" r="7"/><circle cx="709.9" cy="233.7" r="7"/><circle cx="635.1" cy="253.3" r="7"/><circle cx="497.9" cy="904.7" r="7"/><circle cx="559.3" cy="1058.2" r="7"/><circle cx="655.6" cy="793.3" r="7"/><circle cx="775.6" cy="418.8" r="7"/><circle cx="785.7" cy="305.4" r="7"/><circle cx="723.2" cy="861.0" r="7"/><circle cx="909.4" cy="811.0" r="7"/><circle cx="906.9" cy="928.7" r="7"/><circle cx="504.1" cy="919.9" r="7"/><circle cx="586.0" cy="846.9" r="7"/><circle cx="651.8" cy="699.8" r="7"/><circle cx="681.2" cy="271.1" r="7"/><circle cx="508.3" cy="246.1" r="7"/><circle cx="331.1" cy="399.1" r="7"/><circle cx="588.6" cy="553.7" r="7"/><circle cx="303.5" cy="471.0" r="7"/><circle cx="713.9" cy="799.9" r="7"/><circle cx="388.1" cy="549.2" r="7"/><circle cx="589.6" cy="477.0" r="7"/><circle cx="396.1" cy="783.0" r="7"/><circle cx="497.9" cy="1002.3" r="7"/><circle cx="340.7" cy="288.6" r="7"/><circle cx="689.6" cy="351.5" r="7"/><circle cx="639.9" cy="1054.9" r="7"/><circle cx="531.4" cy="1031.7" r="7"/><circle cx="322.7" cy="419.0" r="7"/><circle cx="644.6" cy="856.9" r="7"/><circle cx="878.9" cy="417.2" r="7"/><circle cx="725.0" cy="793.3" r="7"/><circle cx="373.7" cy="464.9" r="7"/><circle cx="905.2" cy="853.9" r="7"/><circle cx="687.0" cy="945.9" r="7"/><circle cx="337.4" cy="264.6" r="7"/><circle cx="562.8" cy="324.6" r="7"/><circle cx="977.2" cy="780.0" r="7"/><circle cx="681.6" cy="246.0" r="7"/><circle cx="625.8" cy="689.3" r="7"/><circle cx="681.9" cy="1034.1" r="7"/><circle cx="415.8" cy="319.9" r="7"/><circle cx="962.5" cy="825.5" r="7"/><circle cx="784.4" cy="770.9" r="7"/><circle cx="609.9" cy="811.5" r="7"/><circle cx="980.1" cy="805.9" r="7"/><circle cx="630.8" cy="828.0" r="7"/><circle cx="1117.8" cy="503.2" r="7"/><circle cx="530.9" cy="930.4" r="7"/><circle cx="322.6" cy="371.4" r="7"/><circle cx="578.8" cy="929.9" r="7"/><circle cx="475.2" cy="267.4" r="7"/><circle cx="667.5" cy="725.7" r="7"/><circle cx="696.2" cy="1036.7" r="7"/><circle cx="522.1" cy="1016.5" r="7"/><circle cx="415.0" cy="804.5" r="7"/><circle cx="464.5" cy="350.4" r="7"/><circle cx="604.9" cy="729.0" r="7"/><circle cx="906.7" cy="404.0" r="7"/><circle cx="685.9" cy="1056.3" r="7"/><circle cx="622.6" cy="1025.5" r="7"/><circle cx="793.8" cy="848.9" r="7"/><circle cx="710.6" cy="1026.8" r="7"/><circle cx="544.9" cy="569.0" r="7"/><circle cx="677.1" cy="262.4" r="7"/><circle cx="587.7" cy="933.6" r="7"/><circle cx="968.7" cy="879.5" r="7"/><circle cx="618.3" cy="1040.1" r="7"/><circle cx="640.2" cy="838.4" r="7"/><circle cx="403.9" cy="784.4" r="7"/><circle cx="476.6" cy="314.1" r="7"/><circle cx="917.1" cy="866.3" r="7"/><circle cx="499.8" cy="999.1" r="7"/><circle cx="1012.0" cy="833.1" r="7"/><circle cx="658.7" cy="1066.4" r="7"/><circle cx="674.5" cy="1060.9" r="7"/><circle cx="985.3" cy="422.8" r="7"/><circle cx="758.4" cy="540.5" r="7"/><circle cx="646.1" cy="1037.2" r="7"/><circle cx="661.1" cy="775.1" r="7"/><circle cx="765.0" cy="842.4" r="7"/><circle cx="904.7" cy="914.3" r="7"/><circle cx="905.2" cy="386.5" r="7"/><circle cx="541.4" cy="570.5" r="7"/><circle cx="865.2" cy="410.6" r="7"/><circle cx="326.5" cy="423.6" r="7"/><circle cx="688.9" cy="1070.8" r="7"/><circle cx="582.0" cy="299.0" r="7"/><circle cx="650.9" cy="868.3" r="7"/><circle cx="653.5" cy="1002.3" r="7"/><circle cx="882.9" cy="867.2" r="7"/><circle cx="876.8" cy="811.0" r="7"/><circle cx="304.5" cy="909.6" r="7"/><circle cx="659.9" cy="812.6" r="7"/><circle cx="679.6" cy="233.8" r="7"/><circle cx="863.5" cy="389.5" r="7"/><circle cx="390.6" cy="448.3" r="7"/><circle cx="346.0" cy="392.8" r="7"/><circle cx="328.2" cy="311.5" r="7"/><circle cx="897.4" cy="859.1" r="7"/><circle cx="886.8" cy="408.5" r="7"/><circle cx="993.7" cy="812.6" r="7"/><circle cx="617.3" cy="894.6" r="7"/><circle cx="494.6" cy="913.7" r="7"/><circle cx="871.0" cy="386.9" r="7"/><circle cx="914.7" cy="424.5" r="7"/><circle cx="518.5" cy="1025.7" r="7"/><circle cx="355.4" cy="277.0" r="7"/><circle cx="498.9" cy="334.2" r="7"/><circle cx="328.8" cy="347.4" r="7"/><circle cx="636.2" cy="1051.0" r="7"/><circle cx="636.4" cy="543.2" r="7"/><circle cx="467.1" cy="333.2" r="7"/><circle cx="608.8" cy="1065.5" r="7"/><circle cx="542.2" cy="927.4" r="7"/><circle cx="610.0" cy="505.1" r="7"/><circle cx="636.5" cy="759.9" r="7"/><circle cx="562.0" cy="829.3" r="7"/><circle cx="934.5" cy="881.1" r="7"/><circle cx="787.2" cy="818.6" r="7"/><circle cx="985.3" cy="778.0" r="7"/><circle cx="990.3" cy="787.9" r="7"/><circle cx="426.4" cy="251.4" r="7"/><circle cx="672.0" cy="372.8" r="7"/><circle cx="618.1" cy="810.9" r="7"/><circle cx="770.1" cy="438.3" r="7"/><circle cx="916.0" cy="862.0" r="7"/><circle cx="536.1" cy="283.4" r="7"/><circle cx="731.5" cy="437.6" r="7"/><circle cx="677.3" cy="283.2" r="7"/><circle cx="326.5" cy="365.9" r="7"/><circle cx="543.1" cy="256.7" r="7"/><circle cx="592.5" cy="309.4" r="7"/><circle cx="509.7" cy="995.0" r="7"/><circle cx="564.2" cy="276.8" r="7"/><circle cx="839.4" cy="359.7" r="7"/><circle cx="741.6" cy="559.0" r="7"/></g><g fill="#f4f7f8"><circle cx="583.0" cy="449.3" r="7"/><circle cx="562.7" cy="546.3" r="7"/><circle cx="832.3" cy="845.0" r="7"/><circle cx="696.5" cy="746.2" r="7"/><circle cx="856.8" cy="839.8" r="7"/><circle cx="604.4" cy="824.0" r="7"/><circle cx="793.7" cy="433.0" r="7"/><circle cx="526.8" cy="1024.3" r="7"/><circle cx="281.5" cy="324.7" r="7"/><circle cx="522.0" cy="946.3" r="7"/><circle cx="472.0" cy="287.0" r="7"/><circle cx="912.5" cy="863.3" r="7"/><circle cx="713.1" cy="789.8" r="7"/><circle cx="430.6" cy="295.3" r="7"/><circle cx="564.4" cy="891.8" r="7"/><circle cx="891.7" cy="919.1" r="7"/><circle cx="936.0" cy="900.0" r="7"/><circle cx="651.8" cy="993.7" r="7"/><circle cx="595.8" cy="1076.1" r="7"/><circle cx="899.3" cy="834.2" r="7"/><circle cx="549.9" cy="1041.2" r="7"/><circle cx="651.1" cy="833.6" r="7"/><circle cx="685.6" cy="267.3" r="7"/><circle cx="400.6" cy="341.9" r="7"/><circle cx="646.7" cy="257.3" r="7"/><circle cx="387.8" cy="336.3" r="7"/><circle cx="532.5" cy="813.3" r="7"/><circle cx="937.6" cy="406.0" r="7"/><circle cx="497.4" cy="349.6" r="7"/><circle cx="620.5" cy="213.2" r="7"/><circle cx="513.1" cy="237.4" r="7"/><circle cx="689.2" cy="787.2" r="7"/><circle cx="533.4" cy="838.8" r="7"/><circle cx="782.9" cy="431.6" r="7"/><circle cx="408.0" cy="314.3" r="7"/><circle cx="409.0" cy="825.1" r="7"/><circle cx="753.8" cy="838.7" r="7"/><circle cx="573.0" cy="304.1" r="7"/><circle cx="596.6" cy="522.8" r="7"/><circle cx="644.3" cy="261.0" r="7"/><circle cx="541.1" cy="964.6" r="7"/><circle cx="854.1" cy="845.5" r="7"/><circle cx="614.8" cy="240.6" r="7"/><circle cx="719.0" cy="884.3" r="7"/><circle cx="574.2" cy="1009.6" r="7"/><circle cx="630.0" cy="740.5" r="7"/><circle cx="510.8" cy="352.5" r="7"/><circle cx="692.8" cy="367.6" r="7"/><circle cx="506.3" cy="924.3" r="7"/><circle cx="831.3" cy="502.1" r="7"/><circle cx="503.9" cy="999.7" r="7"/><circle cx="480.3" cy="911.8" r="7"/><circle cx="893.1" cy="378.8" r="7"/><circle cx="381.5" cy="525.2" r="7"/><circle cx="585.1" cy="842.6" r="7"/><circle cx="769.2" cy="444.9" r="7"/><circle cx="571.9" cy="448.3" r="7"/><circle cx="522.0" cy="556.9" r="7"/><circle cx="605.7" cy="272.4" r="7"/><circle cx="703.1" cy="438.3" r="7"/><circle cx="857.2" cy="422.1" r="7"/><circle cx="929.9" cy="836.4" r="7"/><circle cx="610.3" cy="257.3" r="7"/><circle cx="636.4" cy="807.1" r="7"/><circle cx="510.6" cy="290.1" r="7"/><circle cx="567.9" cy="927.1" r="7"/><circle cx="601.7" cy="255.3" r="7"/><circle cx="660.5" cy="1017.9" r="7"/><circle cx="568.7" cy="1001.9" r="7"/><circle cx="518.9" cy="942.3" r="7"/><circle cx="327.5" cy="438.0" r="7"/><circle cx="410.4" cy="806.4" r="7"/><circle cx="576.6" cy="1036.9" r="7"/><circle cx="819.4" cy="887.9" r="7"/><circle cx="434.9" cy="296.8" r="7"/><circle cx="509.7" cy="959.2" r="7"/><circle cx="353.6" cy="420.9" r="7"/><circle cx="593.3" cy="489.7" r="7"/><circle cx="636.1" cy="783.7" r="7"/><circle cx="689.5" cy="245.6" r="7"/><circle cx="468.4" cy="297.7" r="7"/><circle cx="349.4" cy="444.3" r="7"/><circle cx="620.2" cy="242.3" r="7"/><circle cx="505.7" cy="875.8" r="7"/><circle cx="522.3" cy="841.9" r="7"/><circle cx="961.5" cy="838.0" r="7"/><circle cx="438.2" cy="415.1" r="7"/><circle cx="430.1" cy="316.1" r="7"/><circle cx="653.8" cy="1053.1" r="7"/><circle cx="818.1" cy="825.3" r="7"/><circle cx="386.8" cy="394.4" r="7"/><circle cx="1015.7" cy="488.6" r="7"/><circle cx="863.1" cy="826.9" r="7"/><circle cx="1018.6" cy="801.7" r="7"/><circle cx="789.9" cy="720.6" r="7"/><circle cx="575.5" cy="874.3" r="7"/><circle cx="633.5" cy="701.2" r="7"/><circle cx="670.3" cy="279.1" r="7"/><circle cx="556.0" cy="224.6" r="7"/><circle cx="504.3" cy="267.4" r="7"/><circle cx="976.1" cy="852.2" r="7"/><circle cx="751.5" cy="442.0" r="7"/><circle cx="904.2" cy="849.3" r="7"/><circle cx="689.8" cy="1062.1" r="7"/><circle cx="871.8" cy="841.0" r="7"/><circle cx="641.9" cy="825.9" r="7"/><circle cx="911.8" cy="513.5" r="7"/><circle cx="616.9" cy="845.8" r="7"/><circle cx="365.1" cy="373.4" r="7"/><circle cx="665.3" cy="783.1" r="7"/><circle cx="606.3" cy="263.5" r="7"/><circle cx="620.8" cy="1062.3" r="7"/><circle cx="345.1" cy="351.7" r="7"/><circle cx="633.0" cy="1069.1" r="7"/><circle cx="510.3" cy="1005.5" r="7"/><circle cx="535.5" cy="870.5" r="7"/><circle cx="629.8" cy="1020.7" r="7"/><circle cx="747.6" cy="839.0" r="7"/><circle cx="615.2" cy="292.8" r="7"/><circle cx="564.1" cy="305.8" r="7"/><circle cx="309.3" cy="322.0" r="7"/><circle cx="886.9" cy="389.7" r="7"/><circle cx="768.2" cy="819.6" r="7"/><circle cx="593.9" cy="1016.3" r="7"/><circle cx="573.0" cy="1003.1" r="7"/><circle cx="718.5" cy="1052.0" r="7"/><circle cx="485.7" cy="296.1" r="7"/><circle cx="995.2" cy="802.1" r="7"/><circle cx="835.5" cy="848.4" r="7"/><circle cx="547.1" cy="957.9" r="7"/><circle cx="978.3" cy="420.7" r="7"/><circle cx="520.5" cy="913.2" r="7"/><circle cx="455.6" cy="278.5" r="7"/><circle cx="419.1" cy="323.0" r="7"/><circle cx="397.6" cy="421.9" r="7"/><circle cx="962.0" cy="819.8" r="7"/><circle cx="503.7" cy="312.8" r="7"/><circle cx="579.9" cy="527.9" r="7"/><circle cx="582.8" cy="786.8" r="7"/><circle cx="920.2" cy="837.7" r="7"/><circle cx="416.1" cy="316.7" r="7"/><circle cx="521.0" cy="514.5" r="7"/><circle cx="509.2" cy="945.7" r="7"/><circle cx="574.1" cy="808.5" r="7"/><circle cx="659.4" cy="998.7" r="7"/><circle cx="956.9" cy="877.9" r="7"/><circle cx="615.4" cy="828.8" r="7"/><circle cx="565.6" cy="846.0" r="7"/><circle cx="886.2" cy="828.7" r="7"/><circle cx="980.3" cy="824.0" r="7"/><circle cx="507.8" cy="964.1" r="7"/><circle cx="452.5" cy="436.2" r="7"/><circle cx="543.8" cy="426.2" r="7"/><circle cx="745.0" cy="351.8" r="7"/><circle cx="746.2" cy="350.0" r="7"/><circle cx="846.9" cy="355.0" r="7"/><circle cx="869.4" cy="366.2" r="7"/><circle cx="456.6" cy="764.4" r="7"/><circle cx="405.0" cy="759.7" r="7"/><circle cx="798.8" cy="709.5" r="7"/><circle cx="737.5" cy="518.1" r="7"/><circle cx="745.9" cy="519.1" r="7"/><circle cx="750.6" cy="508.8" r="7"/></g><g fill="#f8f8f9"><circle cx="409.8" cy="836.3" r="7"/><circle cx="947.4" cy="877.3" r="7"/><circle cx="900.6" cy="422.6" r="7"/><circle cx="691.2" cy="270.0" r="7"/><circle cx="904.7" cy="902.4" r="7"/><circle cx="670.6" cy="274.2" r="7"/><circle cx="872.0" cy="819.5" r="7"/><circle cx="908.7" cy="428.0" r="7"/><circle cx="613.4" cy="522.9" r="7"/><circle cx="572.8" cy="981.3" r="7"/><circle cx="690.5" cy="1066.7" r="7"/><circle cx="318.5" cy="347.0" r="7"/><circle cx="759.1" cy="881.6" r="7"/><circle cx="763.5" cy="436.5" r="7"/><circle cx="876.9" cy="865.0" r="7"/><circle cx="333.2" cy="306.7" r="7"/><circle cx="721.9" cy="1028.1" r="7"/><circle cx="475.3" cy="395.4" r="7"/><circle cx="590.6" cy="776.6" r="7"/><circle cx="432.6" cy="254.6" r="7"/><circle cx="595.4" cy="1049.3" r="7"/><circle cx="702.3" cy="271.1" r="7"/><circle cx="638.5" cy="321.0" r="7"/><circle cx="500.4" cy="309.9" r="7"/><circle cx="658.0" cy="267.6" r="7"/><circle cx="485.1" cy="311.9" r="7"/><circle cx="396.0" cy="537.6" r="7"/><circle cx="907.6" cy="416.1" r="7"/><circle cx="911.8" cy="821.2" r="7"/><circle cx="976.9" cy="861.5" r="7"/><circle cx="892.5" cy="392.6" r="7"/><circle cx="633.6" cy="858.4" r="7"/><circle cx="595.4" cy="302.2" r="7"/><circle cx="756.9" cy="431.0" r="7"/><circle cx="447.7" cy="343.6" r="7"/><circle cx="605.7" cy="300.7" r="7"/><circle cx="588.5" cy="243.6" r="7"/><circle cx="613.2" cy="259.2" r="7"/><circle cx="651.0" cy="780.1" r="7"/><circle cx="555.3" cy="871.2" r="7"/><circle cx="583.1" cy="461.4" r="7"/><circle cx="590.2" cy="840.1" r="7"/><circle cx="787.9" cy="454.0" r="7"/><circle cx="959.2" cy="826.8" r="7"/><circle cx="796.9" cy="426.0" r="7"/><circle cx="506.3" cy="348.8" r="7"/><circle cx="623.7" cy="270.8" r="7"/><circle cx="984.9" cy="853.7" r="7"/><circle cx="353.2" cy="516.9" r="7"/><circle cx="658.4" cy="1039.4" r="7"/><circle cx="865.0" cy="870.0" r="7"/><circle cx="585.1" cy="466.7" r="7"/><circle cx="414.3" cy="833.1" r="7"/><circle cx="627.2" cy="501.7" r="7"/><circle cx="295.7" cy="318.7" r="7"/><circle cx="983.3" cy="863.6" r="7"/><circle cx="1004.3" cy="783.2" r="7"/><circle cx="706.5" cy="352.3" r="7"/><circle cx="647.4" cy="1011.3" r="7"/><circle cx="891.4" cy="871.3" r="7"/><circle cx="536.7" cy="1023.7" r="7"/><circle cx="654.3" cy="256.0" r="7"/><circle cx="756.9" cy="436.3" r="7"/><circle cx="550.2" cy="319.4" r="7"/><circle cx="404.6" cy="837.2" r="7"/><circle cx="776.2" cy="423.0" r="7"/><circle cx="626.7" cy="261.0" r="7"/><circle cx="901.4" cy="918.5" r="7"/><circle cx="334.6" cy="392.3" r="7"/><circle cx="672.8" cy="295.4" r="7"/><circle cx="425.6" cy="832.2" r="7"/><circle cx="687.8" cy="987.4" r="7"/><circle cx="446.6" cy="294.9" r="7"/><circle cx="408.9" cy="289.0" r="7"/><circle cx="600.1" cy="260.0" r="7"/><circle cx="524.5" cy="479.6" r="7"/><circle cx="400.5" cy="549.6" r="7"/><circle cx="969.3" cy="811.6" r="7"/><circle cx="340.3" cy="470.6" r="7"/><circle cx="509.3" cy="314.9" r="7"/><circle cx="543.3" cy="904.7" r="7"/><circle cx="663.1" cy="281.6" r="7"/><circle cx="501.6" cy="903.5" r="7"/><circle cx="612.3" cy="849.0" r="7"/><circle cx="983.4" cy="849.5" r="7"/><circle cx="584.2" cy="1020.5" r="7"/><circle cx="973.1" cy="493.2" r="7"/><circle cx="785.5" cy="418.2" r="7"/><circle cx="540.9" cy="1045.5" r="7"/><circle cx="638.1" cy="503.6" r="7"/><circle cx="583.5" cy="1046.6" r="7"/><circle cx="346.9" cy="471.8" r="7"/><circle cx="764.3" cy="450.1" r="7"/><circle cx="665.4" cy="1033.9" r="7"/><circle cx="606.9" cy="304.3" r="7"/><circle cx="406.6" cy="323.2" r="7"/><circle cx="565.6" cy="827.7" r="7"/><circle cx="926.7" cy="862.1" r="7"/><circle cx="847.4" cy="858.3" r="7"/><circle cx="642.6" cy="515.6" r="7"/><circle cx="359.6" cy="370.1" r="7"/><circle cx="608.3" cy="850.5" r="7"/><circle cx="508.4" cy="339.5" r="7"/><circle cx="851.6" cy="371.9" r="7"/><circle cx="964.7" cy="490.0" r="7"/><circle cx="386.2" cy="763.4" r="7"/><circle cx="799.1" cy="709.1" r="7"/><circle cx="753.8" cy="778.8" r="7"/><circle cx="986.2" cy="764.2" r="7"/></g><g fill="#faf7f6"><circle cx="532.4" cy="454.6" r="7"/><circle cx="910.1" cy="830.3" r="7"/><circle cx="966.2" cy="782.2" r="7"/><circle cx="1004.9" cy="803.4" r="7"/><circle cx="578.2" cy="1053.7" r="7"/><circle cx="428.1" cy="269.4" r="7"/><circle cx="516.8" cy="923.5" r="7"/><circle cx="870.3" cy="399.0" r="7"/><circle cx="638.4" cy="766.8" r="7"/><circle cx="971.6" cy="484.8" r="7"/><circle cx="859.7" cy="810.7" r="7"/><circle cx="894.1" cy="825.5" r="7"/><circle cx="505.7" cy="323.1" r="7"/><circle cx="415.8" cy="265.4" r="7"/><circle cx="330.5" cy="471.7" r="7"/><circle cx="632.2" cy="256.3" r="7"/><circle cx="343.7" cy="499.2" r="7"/><circle cx="644.3" cy="277.6" r="7"/><circle cx="975.7" cy="841.1" r="7"/><circle cx="970.5" cy="498.9" r="7"/><circle cx="532.3" cy="468.4" r="7"/><circle cx="733.8" cy="446.6" r="7"/><circle cx="600.8" cy="817.4" r="7"/><circle cx="519.5" cy="509.4" r="7"/><circle cx="680.7" cy="824.8" r="7"/><circle cx="996.5" cy="781.8" r="7"/><circle cx="545.9" cy="286.1" r="7"/><circle cx="412.6" cy="347.7" r="7"/><circle cx="399.4" cy="286.3" r="7"/><circle cx="910.8" cy="882.5" r="7"/><circle cx="912.9" cy="899.4" r="7"/><circle cx="590.1" cy="1018.2" r="7"/><circle cx="613.1" cy="288.9" r="7"/><circle cx="635.5" cy="1046.3" r="7"/><circle cx="622.1" cy="798.2" r="7"/><circle cx="654.9" cy="1012.6" r="7"/><circle cx="577.9" cy="854.8" r="7"/><circle cx="1096.4" cy="496.7" r="7"/><circle cx="938.1" cy="839.4" r="7"/><circle cx="699.2" cy="1023.4" r="7"/><circle cx="980.3" cy="814.3" r="7"/><circle cx="489.9" cy="953.3" r="7"/><circle cx="599.2" cy="827.6" r="7"/><circle cx="562.2" cy="970.0" r="7"/><circle cx="442.8" cy="267.5" r="7"/><circle cx="663.6" cy="1064.8" r="7"/><circle cx="399.5" cy="337.1" r="7"/><circle cx="589.0" cy="512.6" r="7"/><circle cx="554.4" cy="212.2" r="7"/><circle cx="484.7" cy="897.4" r="7"/><circle cx="908.7" cy="872.5" r="7"/><circle cx="905.5" cy="883.1" r="7"/><circle cx="593.9" cy="830.4" r="7"/><circle cx="696.3" cy="273.7" r="7"/><circle cx="655.3" cy="962.5" r="7"/><circle cx="984.7" cy="830.2" r="7"/><circle cx="688.6" cy="274.2" r="7"/><circle cx="864.4" cy="896.0" r="7"/><circle cx="1000.2" cy="784.1" r="7"/><circle cx="587.4" cy="827.3" r="7"/><circle cx="554.4" cy="497.6" r="7"/><circle cx="652.5" cy="504.6" r="7"/><circle cx="499.3" cy="845.0" r="7"/><circle cx="712.7" cy="277.4" r="7"/><circle cx="568.5" cy="475.6" r="7"/><circle cx="582.5" cy="492.3" r="7"/><circle cx="669.1" cy="250.1" r="7"/><circle cx="602.5" cy="268.7" r="7"/><circle cx="635.5" cy="824.4" r="7"/><circle cx="468.3" cy="318.8" r="7"/><circle cx="702.9" cy="261.3" r="7"/><circle cx="684.5" cy="243.2" r="7"/><circle cx="488.3" cy="264.3" r="7"/><circle cx="696.3" cy="270.4" r="7"/><circle cx="286.6" cy="325.0" r="7"/><circle cx="949.6" cy="840.8" r="7"/><circle cx="629.2" cy="862.3" r="7"/><circle cx="598.8" cy="293.2" r="7"/><circle cx="611.7" cy="1021.4" r="7"/><circle cx="876.4" cy="883.5" r="7"/><circle cx="883.7" cy="387.6" r="7"/><circle cx="533.3" cy="279.7" r="7"/><circle cx="595.6" cy="267.3" r="7"/><circle cx="595.5" cy="1044.9" r="7"/><circle cx="486.9" cy="912.0" r="7"/><circle cx="1013.0" cy="478.1" r="7"/><circle cx="943.2" cy="876.0" r="7"/><circle cx="709.1" cy="224.8" r="7"/><circle cx="633.5" cy="311.6" r="7"/><circle cx="911.4" cy="920.4" r="7"/><circle cx="570.5" cy="996.8" r="7"/><circle cx="972.4" cy="856.9" r="7"/><circle cx="733.6" cy="786.4" r="7"/><circle cx="891.3" cy="877.8" r="7"/><circle cx="925.6" cy="489.6" r="7"/><circle cx="634.5" cy="828.2" r="7"/><circle cx="621.1" cy="814.2" r="7"/><circle cx="989.9" cy="796.5" r="7"/><circle cx="733.8" cy="892.5" r="7"/><circle cx="880.0" cy="454.2" r="7"/><circle cx="1060.3" cy="480.6" r="7"/><circle cx="462.2" cy="802.8" r="7"/><circle cx="399.4" cy="760.6" r="7"/><circle cx="685.6" cy="686.2" r="7"/><circle cx="686.6" cy="697.5" r="7"/><circle cx="737.5" cy="750.0" r="7"/><circle cx="647.5" cy="492.8" r="7"/></g><g fill="#faf4f1"><circle cx="918.1" cy="421.3" r="7"/><circle cx="652.1" cy="1058.7" r="7"/><circle cx="578.1" cy="517.7" r="7"/><circle cx="509.8" cy="300.6" r="7"/><circle cx="483.9" cy="269.4" r="7"/><circle cx="604.7" cy="803.7" r="7"/><circle cx="617.4" cy="879.9" r="7"/><circle cx="602.7" cy="791.5" r="7"/><circle cx="651.1" cy="250.4" r="7"/><circle cx="454.0" cy="292.1" r="7"/><circle cx="597.1" cy="722.7" r="7"/><circle cx="600.5" cy="265.2" r="7"/><circle cx="319.3" cy="484.2" r="7"/><circle cx="553.3" cy="998.2" r="7"/><circle cx="861.6" cy="817.2" r="7"/><circle cx="731.7" cy="1026.5" r="7"/><circle cx="870.9" cy="418.4" r="7"/><circle cx="661.0" cy="243.7" r="7"/><circle cx="710.3" cy="800.9" r="7"/><circle cx="972.4" cy="829.3" r="7"/><circle cx="917.9" cy="395.1" r="7"/><circle cx="879.7" cy="397.6" r="7"/><circle cx="867.6" cy="436.8" r="7"/><circle cx="557.6" cy="788.9" r="7"/><circle cx="545.8" cy="992.1" r="7"/><circle cx="927.5" cy="896.1" r="7"/><circle cx="705.7" cy="1043.1" r="7"/><circle cx="539.1" cy="841.8" r="7"/><circle cx="600.8" cy="1042.2" r="7"/><circle cx="324.1" cy="467.9" r="7"/><circle cx="878.9" cy="404.2" r="7"/><circle cx="488.4" cy="274.2" r="7"/><circle cx="767.7" cy="1030.0" r="7"/><circle cx="599.9" cy="1038.5" r="7"/><circle cx="887.6" cy="384.0" r="7"/><circle cx="639.6" cy="805.0" r="7"/><circle cx="700.5" cy="996.9" r="7"/><circle cx="649.6" cy="813.6" r="7"/><circle cx="581.1" cy="974.6" r="7"/><circle cx="346.6" cy="362.0" r="7"/><circle cx="624.8" cy="252.0" r="7"/><circle cx="583.3" cy="267.8" r="7"/><circle cx="501.6" cy="926.2" r="7"/><circle cx="494.0" cy="890.1" r="7"/><circle cx="592.8" cy="1037.9" r="7"/><circle cx="295.9" cy="326.8" r="7"/><circle cx="718.3" cy="433.5" r="7"/><circle cx="907.1" cy="389.4" r="7"/><circle cx="341.3" cy="435.6" r="7"/><circle cx="564.6" cy="928.5" r="7"/><circle cx="460.3" cy="273.2" r="7"/><circle cx="332.1" cy="468.4" r="7"/><circle cx="468.4" cy="259.5" r="7"/><circle cx="503.8" cy="929.0" r="7"/><circle cx="959.1" cy="832.0" r="7"/><circle cx="665.8" cy="1039.1" r="7"/><circle cx="894.9" cy="400.4" r="7"/><circle cx="975.0" cy="869.6" r="7"/><circle cx="472.6" cy="898.6" r="7"/><circle cx="759.5" cy="438.6" r="7"/><circle cx="1008.2" cy="786.6" r="7"/><circle cx="586.9" cy="992.3" r="7"/><circle cx="387.4" cy="329.8" r="7"/><circle cx="578.3" cy="781.7" r="7"/><circle cx="683.4" cy="798.5" r="7"/><circle cx="518.1" cy="929.2" r="7"/><circle cx="879.2" cy="880.1" r="7"/><circle cx="538.9" cy="846.5" r="7"/><circle cx="873.6" cy="379.6" r="7"/><circle cx="601.0" cy="508.0" r="7"/><circle cx="722.2" cy="1038.6" r="7"/><circle cx="910.1" cy="893.8" r="7"/><circle cx="629.0" cy="314.7" r="7"/><circle cx="688.3" cy="242.3" r="7"/><circle cx="1004.1" cy="794.5" r="7"/><circle cx="713.6" cy="263.4" r="7"/><circle cx="982.9" cy="783.4" r="7"/><circle cx="1001.4" cy="796.5" r="7"/><circle cx="907.5" cy="423.1" r="7"/><circle cx="925.2" cy="900.5" r="7"/><circle cx="965.0" cy="882.0" r="7"/><circle cx="935.3" cy="846.3" r="7"/><circle cx="638.2" cy="1063.3" r="7"/><circle cx="673.4" cy="1018.4" r="7"/><circle cx="540.0" cy="400.0" r="7"/><circle cx="895.0" cy="301.2" r="7"/><circle cx="400.3" cy="783.1" r="7"/><circle cx="972.5" cy="750.0" r="7"/><circle cx="765.0" cy="994.2" r="7"/></g><g fill="#fbf1ec"><circle cx="519.6" cy="902.1" r="7"/><circle cx="968.4" cy="791.8" r="7"/><circle cx="898.0" cy="389.2" r="7"/><circle cx="485.2" cy="382.4" r="7"/><circle cx="947.7" cy="824.2" r="7"/><circle cx="336.0" cy="413.9" r="7"/><circle cx="580.9" cy="993.5" r="7"/><circle cx="610.2" cy="842.2" r="7"/><circle cx="778.0" cy="457.8" r="7"/><circle cx="669.2" cy="818.1" r="7"/><circle cx="713.0" cy="446.6" r="7"/><circle cx="676.3" cy="1053.7" r="7"/><circle cx="767.0" cy="451.7" r="7"/><circle cx="1039.4" cy="492.1" r="7"/><circle cx="624.9" cy="1063.8" r="7"/><circle cx="958.6" cy="863.6" r="7"/><circle cx="607.2" cy="783.5" r="7"/><circle cx="635.5" cy="972.2" r="7"/><circle cx="671.3" cy="795.9" r="7"/><circle cx="495.4" cy="925.4" r="7"/><circle cx="995.3" cy="787.7" r="7"/><circle cx="575.3" cy="775.3" r="7"/><circle cx="541.4" cy="1023.1" r="7"/><circle cx="1010.3" cy="793.6" r="7"/><circle cx="492.0" cy="898.2" r="7"/><circle cx="968.0" cy="419.1" r="7"/><circle cx="490.8" cy="910.0" r="7"/><circle cx="357.1" cy="331.4" r="7"/><circle cx="489.8" cy="963.9" r="7"/><circle cx="977.7" cy="871.7" r="7"/><circle cx="350.1" cy="809.9" r="7"/><circle cx="405.6" cy="542.3" r="7"/><circle cx="629.9" cy="295.5" r="7"/><circle cx="583.7" cy="311.6" r="7"/><circle cx="868.5" cy="393.5" r="7"/><circle cx="934.6" cy="863.8" r="7"/><circle cx="635.4" cy="460.7" r="7"/><circle cx="326.4" cy="512.4" r="7"/><circle cx="581.5" cy="519.5" r="7"/><circle cx="412.9" cy="315.6" r="7"/><circle cx="664.0" cy="318.9" r="7"/><circle cx="492.2" cy="325.5" r="7"/><circle cx="627.4" cy="249.9" r="7"/><circle cx="507.0" cy="845.3" r="7"/><circle cx="714.1" cy="718.9" r="7"/><circle cx="608.4" cy="824.2" r="7"/><circle cx="793.7" cy="427.4" r="7"/><circle cx="1039.6" cy="487.0" r="7"/><circle cx="755.4" cy="1039.2" r="7"/><circle cx="321.3" cy="498.4" r="7"/><circle cx="633.0" cy="685.5" r="7"/><circle cx="631.9" cy="1054.6" r="7"/><circle cx="675.1" cy="801.4" r="7"/><circle cx="346.5" cy="513.4" r="7"/><circle cx="917.1" cy="400.5" r="7"/><circle cx="666.7" cy="1057.2" r="7"/><circle cx="629.2" cy="759.6" r="7"/><circle cx="524.2" cy="909.1" r="7"/><circle cx="588.9" cy="1034.6" r="7"/><circle cx="556.4" cy="822.8" r="7"/><circle cx="381.2" cy="295.5" r="7"/><circle cx="992.4" cy="799.0" r="7"/><circle cx="634.1" cy="506.9" r="7"/><circle cx="579.0" cy="1042.2" r="7"/><circle cx="592.6" cy="822.5" r="7"/><circle cx="345.2" cy="385.4" r="7"/><circle cx="857.0" cy="843.0" r="7"/><circle cx="966.6" cy="493.3" r="7"/><circle cx="958.2" cy="498.1" r="7"/><circle cx="663.3" cy="247.0" r="7"/><circle cx="579.5" cy="759.6" r="7"/><circle cx="1000.9" cy="792.5" r="7"/><circle cx="800.4" cy="872.2" r="7"/><circle cx="737.4" cy="828.6" r="7"/><circle cx="470.9" cy="255.7" r="7"/><circle cx="1035.9" cy="476.9" r="7"/><circle cx="738.1" cy="750.0" r="7"/><circle cx="768.4" cy="534.1" r="7"/></g><g fill="#fcefe7"><circle cx="552.6" cy="990.7" r="7"/><circle cx="555.8" cy="1028.4" r="7"/><circle cx="562.1" cy="1031.1" r="7"/><circle cx="416.0" cy="827.4" r="7"/><circle cx="863.2" cy="837.2" r="7"/><circle cx="691.2" cy="235.5" r="7"/><circle cx="998.2" cy="796.9" r="7"/><circle cx="659.5" cy="822.8" r="7"/><circle cx="540.0" cy="304.4" r="7"/><circle cx="700.0" cy="1035.1" r="7"/><circle cx="328.3" cy="488.8" r="7"/><circle cx="751.4" cy="794.1" r="7"/><circle cx="856.9" cy="889.2" r="7"/><circle cx="533.2" cy="271.3" r="7"/><circle cx="952.1" cy="883.7" r="7"/><circle cx="516.1" cy="955.6" r="7"/><circle cx="857.0" cy="816.9" r="7"/><circle cx="314.8" cy="500.9" r="7"/><circle cx="855.7" cy="829.5" r="7"/><circle cx="589.8" cy="467.9" r="7"/><circle cx="787.7" cy="414.8" r="7"/><circle cx="624.0" cy="265.0" r="7"/><circle cx="857.3" cy="820.5" r="7"/><circle cx="563.8" cy="1047.4" r="7"/><circle cx="608.3" cy="1048.8" r="7"/><circle cx="675.4" cy="277.1" r="7"/><circle cx="812.2" cy="842.1" r="7"/><circle cx="583.2" cy="1054.5" r="7"/><circle cx="633.2" cy="261.7" r="7"/><circle cx="869.6" cy="884.0" r="7"/><circle cx="627.0" cy="702.4" r="7"/><circle cx="664.2" cy="805.7" r="7"/><circle cx="357.4" cy="327.9" r="7"/><circle cx="1015.3" cy="787.8" r="7"/><circle cx="645.2" cy="293.3" r="7"/><circle cx="937.2" cy="418.7" r="7"/><circle cx="628.6" cy="692.6" r="7"/><circle cx="980.5" cy="836.6" r="7"/><circle cx="623.8" cy="246.8" r="7"/><circle cx="903.3" cy="421.0" r="7"/><circle cx="330.0" cy="482.4" r="7"/><circle cx="858.9" cy="891.9" r="7"/><circle cx="851.4" cy="449.7" r="7"/><circle cx="574.8" cy="1051.7" r="7"/><circle cx="324.3" cy="340.1" r="7"/><circle cx="583.2" cy="1071.9" r="7"/><circle cx="588.7" cy="762.9" r="7"/><circle cx="511.7" cy="241.4" r="7"/><circle cx="587.1" cy="784.3" r="7"/><circle cx="635.5" cy="704.6" r="7"/><circle cx="892.4" cy="410.5" r="7"/><circle cx="593.9" cy="741.3" r="7"/><circle cx="327.2" cy="516.1" r="7"/><circle cx="1017.1" cy="480.7" r="7"/><circle cx="907.4" cy="889.8" r="7"/><circle cx="663.1" cy="1071.3" r="7"/><circle cx="590.9" cy="1053.6" r="7"/><circle cx="607.3" cy="753.0" r="7"/><circle cx="563.2" cy="800.0" r="7"/><circle cx="859.1" cy="363.4" r="7"/><circle cx="820.6" cy="341.9" r="7"/><circle cx="880.0" cy="508.2" r="7"/><circle cx="900.0" cy="507.8" r="7"/><circle cx="1037.8" cy="481.6" r="7"/><circle cx="1050.0" cy="494.7" r="7"/><circle cx="987.2" cy="467.1" r="7"/><circle cx="713.2" cy="513.2" r="7"/><circle cx="577.5" cy="533.8" r="7"/><circle cx="577.5" cy="562.8" r="7"/><circle cx="623.4" cy="524.4" r="7"/><circle cx="667.6" cy="435.1" r="7"/><circle cx="658.8" cy="502.2" r="7"/><circle cx="770.0" cy="1026.2" r="7"/><circle cx="632.5" cy="876.2" r="7"/><circle cx="575.0" cy="874.5" r="7"/><circle cx="611.2" cy="880.0" r="7"/><circle cx="505.0" cy="887.5" r="7"/><circle cx="762.5" cy="935.0" r="7"/></g><g fill="#fcece2"><circle cx="573.1" cy="825.9" r="7"/><circle cx="593.4" cy="748.6" r="7"/><circle cx="516.2" cy="1019.9" r="7"/><circle cx="762.7" cy="440.2" r="7"/><circle cx="499.5" cy="919.5" r="7"/><circle cx="493.7" cy="264.7" r="7"/><circle cx="607.0" cy="793.7" r="7"/><circle cx="575.8" cy="978.7" r="7"/><circle cx="603.3" cy="1026.6" r="7"/><circle cx="938.1" cy="848.8" r="7"/><circle cx="654.1" cy="1028.5" r="7"/><circle cx="591.1" cy="767.2" r="7"/><circle cx="546.9" cy="824.1" r="7"/><circle cx="1026.9" cy="490.1" r="7"/><circle cx="681.4" cy="264.8" r="7"/><circle cx="612.7" cy="877.1" r="7"/><circle cx="1008.7" cy="492.5" r="7"/><circle cx="1014.6" cy="798.9" r="7"/><circle cx="784.0" cy="827.2" r="7"/><circle cx="635.9" cy="1025.3" r="7"/><circle cx="568.3" cy="1022.0" r="7"/><circle cx="657.4" cy="796.6" r="7"/><circle cx="595.1" cy="1032.7" r="7"/><circle cx="613.9" cy="967.3" r="7"/><circle cx="326.4" cy="445.2" r="7"/><circle cx="632.8" cy="794.9" r="7"/><circle cx="514.1" cy="912.2" r="7"/><circle cx="330.0" cy="356.2" r="7"/><circle cx="906.5" cy="878.5" r="7"/><circle cx="545.1" cy="1011.6" r="7"/><circle cx="583.1" cy="1040.2" r="7"/><circle cx="614.5" cy="790.0" r="7"/><circle cx="723.1" cy="785.0" r="7"/><circle cx="914.8" cy="857.1" r="7"/><circle cx="1045.0" cy="489.6" r="7"/><circle cx="308.3" cy="476.9" r="7"/><circle cx="760.0" cy="452.0" r="7"/><circle cx="740.2" cy="1022.1" r="7"/><circle cx="752.7" cy="800.1" r="7"/><circle cx="914.6" cy="415.8" r="7"/><circle cx="956.9" cy="839.2" r="7"/><circle cx="959.3" cy="869.4" r="7"/><circle cx="568.3" cy="987.6" r="7"/><circle cx="965.1" cy="848.3" r="7"/><circle cx="605.7" cy="1032.6" r="7"/><circle cx="955.7" cy="871.5" r="7"/><circle cx="558.1" cy="927.8" r="7"/><circle cx="332.4" cy="492.4" r="7"/><circle cx="562.2" cy="316.6" r="7"/><circle cx="419.0" cy="831.5" r="7"/><circle cx="919.2" cy="416.5" r="7"/><circle cx="917.1" cy="404.9" r="7"/><circle cx="585.0" cy="830.8" r="7"/><circle cx="496.0" cy="960.7" r="7"/><circle cx="667.0" cy="435.2" r="7"/><circle cx="871.2" cy="364.4" r="7"/><circle cx="828.1" cy="310.0" r="7"/><circle cx="916.9" cy="498.4" r="7"/><circle cx="952.5" cy="491.9" r="7"/><circle cx="906.6" cy="512.5" r="7"/><circle cx="1007.8" cy="489.1" r="7"/><circle cx="443.4" cy="852.5" r="7"/><circle cx="557.5" cy="703.2" r="7"/><circle cx="543.8" cy="530.9" r="7"/><circle cx="713.4" cy="512.8" r="7"/><circle cx="763.8" cy="525.6" r="7"/><circle cx="713.5" cy="513.4" r="7"/><circle cx="652.2" cy="515.3" r="7"/><circle cx="943.2" cy="681.2" r="7"/><circle cx="442.5" cy="852.5" r="7"/><circle cx="318.2" cy="881.2" r="7"/><circle cx="397.5" cy="937.5" r="7"/><circle cx="418.2" cy="933.2" r="7"/><circle cx="765.0" cy="816.2" r="7"/></g><g fill="#fde9dd"><circle cx="942.8" cy="852.8" r="7"/><circle cx="935.5" cy="872.5" r="7"/><circle cx="514.8" cy="919.9" r="7"/><circle cx="341.3" cy="474.6" r="7"/><circle cx="1012.9" cy="790.4" r="7"/><circle cx="573.3" cy="763.5" r="7"/><circle cx="661.7" cy="796.2" r="7"/><circle cx="568.4" cy="783.4" r="7"/><circle cx="558.5" cy="1064.4" r="7"/><circle cx="877.7" cy="900.2" r="7"/><circle cx="726.4" cy="1034.8" r="7"/><circle cx="544.8" cy="560.8" r="7"/><circle cx="600.4" cy="747.4" r="7"/><circle cx="954.9" cy="842.1" r="7"/><circle cx="761.9" cy="1031.7" r="7"/><circle cx="1023.0" cy="484.9" r="7"/><circle cx="665.4" cy="1051.0" r="7"/><circle cx="922.3" cy="868.9" r="7"/><circle cx="503.8" cy="355.2" r="7"/><circle cx="568.3" cy="809.7" r="7"/><circle cx="575.6" cy="792.9" r="7"/><circle cx="913.4" cy="404.2" r="7"/><circle cx="563.5" cy="816.0" r="7"/><circle cx="547.6" cy="1022.0" r="7"/><circle cx="949.4" cy="835.8" r="7"/><circle cx="550.1" cy="513.3" r="7"/><circle cx="555.3" cy="1061.7" r="7"/><circle cx="488.2" cy="971.0" r="7"/><circle cx="780.2" cy="450.0" r="7"/><circle cx="778.6" cy="453.2" r="7"/><circle cx="652.6" cy="806.5" r="7"/><circle cx="619.0" cy="783.4" r="7"/><circle cx="642.6" cy="1067.0" r="7"/><circle cx="1015.5" cy="792.5" r="7"/><circle cx="601.3" cy="768.3" r="7"/><circle cx="511.1" cy="933.9" r="7"/><circle cx="503.9" cy="897.7" r="7"/><circle cx="664.4" cy="260.1" r="7"/><circle cx="717.0" cy="1036.1" r="7"/><circle cx="648.8" cy="801.5" r="7"/><circle cx="546.7" cy="816.2" r="7"/><circle cx="673.3" cy="1066.7" r="7"/><circle cx="583.3" cy="836.2" r="7"/><circle cx="621.7" cy="803.3" r="7"/><circle cx="910.8" cy="391.9" r="7"/><circle cx="751.6" cy="1036.6" r="7"/><circle cx="978.0" cy="801.9" r="7"/><circle cx="819.7" cy="297.8" r="7"/><circle cx="824.4" cy="340.0" r="7"/><circle cx="930.9" cy="490.0" r="7"/><circle cx="1016.2" cy="482.5" r="7"/><circle cx="1023.8" cy="493.8" r="7"/><circle cx="1038.8" cy="491.9" r="7"/><circle cx="1095.9" cy="499.4" r="7"/><circle cx="779.7" cy="520.0" r="7"/><circle cx="936.2" cy="651.2" r="7"/><circle cx="1095.0" cy="498.8" r="7"/><circle cx="717.5" cy="826.2" r="7"/><circle cx="647.5" cy="886.2" r="7"/></g><g fill="#fee6d8"><circle cx="620.2" cy="289.2" r="7"/><circle cx="621.0" cy="1035.0" r="7"/><circle cx="939.9" cy="492.8" r="7"/><circle cx="737.0" cy="1039.5" r="7"/><circle cx="604.9" cy="1054.5" r="7"/><circle cx="568.4" cy="751.1" r="7"/><circle cx="631.5" cy="272.2" r="7"/><circle cx="617.2" cy="795.0" r="7"/><circle cx="549.2" cy="975.9" r="7"/><circle cx="848.9" cy="830.6" r="7"/><circle cx="959.4" cy="841.1" r="7"/><circle cx="582.4" cy="1036.4" r="7"/><circle cx="317.4" cy="503.2" r="7"/><circle cx="382.3" cy="409.6" r="7"/><circle cx="531.9" cy="524.6" r="7"/><circle cx="956.3" cy="850.5" r="7"/><circle cx="538.1" cy="1038.0" r="7"/><circle cx="945.1" cy="879.5" r="7"/><circle cx="575.0" cy="802.8" r="7"/><circle cx="624.6" cy="769.2" r="7"/><circle cx="565.9" cy="823.3" r="7"/><circle cx="622.3" cy="765.9" r="7"/><circle cx="716.5" cy="436.6" r="7"/><circle cx="556.1" cy="837.3" r="7"/><circle cx="605.8" cy="766.6" r="7"/><circle cx="582.7" cy="807.1" r="7"/><circle cx="686.2" cy="1044.3" r="7"/><circle cx="800.0" cy="300.6" r="7"/><circle cx="908.4" cy="488.1" r="7"/><circle cx="941.2" cy="497.5" r="7"/><circle cx="1051.9" cy="485.3" r="7"/><circle cx="505.0" cy="695.0" r="7"/><circle cx="652.1" cy="515.0" r="7"/><circle cx="615.0" cy="848.8" r="7"/><circle cx="783.2" cy="1007.5" r="7"/><circle cx="1004.5" cy="844.2" r="7"/></g><g fill="#fde0d1"><circle cx="567.1" cy="1067.6" r="7"/><circle cx="630.0" cy="1045.7" r="7"/><circle cx="912.2" cy="419.6" r="7"/><circle cx="894.6" cy="868.5" r="7"/><circle cx="883.9" cy="404.2" r="7"/><circle cx="623.9" cy="790.0" r="7"/><circle cx="586.7" cy="780.6" r="7"/><circle cx="325.1" cy="472.8" r="7"/><circle cx="742.2" cy="1044.6" r="7"/><circle cx="513.6" cy="931.1" r="7"/><circle cx="664.2" cy="809.1" r="7"/><circle cx="572.5" cy="744.0" r="7"/><circle cx="579.0" cy="752.0" r="7"/><circle cx="594.9" cy="810.9" r="7"/><circle cx="538.3" cy="1049.5" r="7"/><circle cx="468.8" cy="710.0" r="7"/><circle cx="505.3" cy="694.1" r="7"/><circle cx="578.4" cy="410.9" r="7"/><circle cx="569.6" cy="493.4" r="7"/><circle cx="615.0" cy="498.1" r="7"/><circle cx="735.0" cy="1043.8" r="7"/><circle cx="735.0" cy="1005.0" r="7"/><circle cx="738.8" cy="1017.5" r="7"/><circle cx="751.2" cy="817.5" r="7"/></g><g fill="#fcdbca"><circle cx="727.7" cy="1027.7" r="7"/><circle cx="942.7" cy="885.5" r="7"/><circle cx="617.5" cy="1051.8" r="7"/><circle cx="713.3" cy="440.2" r="7"/><circle cx="610.5" cy="774.5" r="7"/><circle cx="552.7" cy="508.7" r="7"/><circle cx="750.7" cy="1041.9" r="7"/><circle cx="706.8" cy="440.1" r="7"/><circle cx="586.1" cy="818.3" r="7"/><circle cx="336.5" cy="500.5" r="7"/><circle cx="952.1" cy="865.6" r="7"/><circle cx="618.6" cy="769.2" r="7"/><circle cx="635.3" cy="801.7" r="7"/><circle cx="856.2" cy="351.2" r="7"/><circle cx="930.0" cy="500.3" r="7"/><circle cx="1086.6" cy="498.4" r="7"/><circle cx="470.6" cy="732.5" r="7"/><circle cx="662.5" cy="692.0" r="7"/><circle cx="611.2" cy="704.5" r="7"/><circle cx="675.0" cy="737.0" r="7"/><circle cx="586.9" cy="568.4" r="7"/><circle cx="1086.2" cy="497.5" r="7"/><circle cx="750.0" cy="1030.0" r="7"/><circle cx="630.0" cy="818.8" r="7"/><circle cx="642.5" cy="842.5" r="7"/><circle cx="552.8" cy="806.9" r="7"/></g><g fill="#fbd5c2"><circle cx="528.9" cy="1040.8" r="7"/><circle cx="309.7" cy="463.3" r="7"/><circle cx="753.8" cy="1031.5" r="7"/><circle cx="928.2" cy="492.8" r="7"/><circle cx="729.2" cy="776.4" r="7"/><circle cx="599.3" cy="719.8" r="7"/><circle cx="900.1" cy="381.8" r="7"/><circle cx="605.0" cy="1042.8" r="7"/><circle cx="953.2" cy="846.2" r="7"/><circle cx="747.8" cy="1029.3" r="7"/><circle cx="973.4" cy="878.4" r="7"/><circle cx="926.9" cy="838.4" r="7"/><circle cx="824.4" cy="311.9" r="7"/><circle cx="811.2" cy="329.7" r="7"/><circle cx="832.8" cy="332.5" r="7"/><circle cx="861.9" cy="352.2" r="7"/><circle cx="475.3" cy="695.0" r="7"/><circle cx="480.0" cy="704.4" r="7"/><circle cx="484.7" cy="716.6" r="7"/><circle cx="473.4" cy="723.1" r="7"/><circle cx="495.0" cy="699.7" r="7"/><circle cx="501.6" cy="695.0" r="7"/></g><g fill="#facfbb"><circle cx="544.4" cy="1051.7" r="7"/><circle cx="568.5" cy="756.8" r="7"/><circle cx="551.4" cy="1052.2" r="7"/><circle cx="612.6" cy="771.3" r="7"/><circle cx="597.4" cy="758.2" r="7"/><circle cx="911.6" cy="413.0" r="7"/><circle cx="583.4" cy="751.4" r="7"/><circle cx="596.0" cy="775.6" r="7"/><circle cx="574.5" cy="752.5" r="7"/><circle cx="820.6" cy="276.2" r="7"/><circle cx="830.9" cy="284.7" r="7"/><circle cx="810.3" cy="304.4" r="7"/><circle cx="810.3" cy="315.6" r="7"/><circle cx="822.5" cy="322.2" r="7"/><circle cx="845.9" cy="321.2" r="7"/><circle cx="851.6" cy="336.2" r="7"/><circle cx="838.4" cy="344.7" r="7"/><circle cx="467.8" cy="768.1" r="7"/><circle cx="774.7" cy="715.3" r="7"/><circle cx="662.6" cy="692.2" r="7"/><circle cx="675.3" cy="736.9" r="7"/><circle cx="698.8" cy="690.0" r="7"/><circle cx="774.5" cy="715.0" r="7"/><circle cx="591.6" cy="545.0" r="7"/><circle cx="581.2" cy="1003.8" r="7"/><circle cx="555.6" cy="805.0" r="7"/></g><g fill="#f9cab4"><circle cx="568.5" cy="779.2" r="7"/><circle cx="610.0" cy="763.2" r="7"/><circle cx="610.6" cy="750.2" r="7"/><circle cx="552.6" cy="1024.4" r="7"/><circle cx="544.9" cy="1046.1" r="7"/><circle cx="567.7" cy="819.1" r="7"/><circle cx="486.7" cy="906.8" r="7"/><circle cx="609.5" cy="758.1" r="7"/><circle cx="875.9" cy="359.7" r="7"/><circle cx="918.2" cy="528.2" r="7"/><circle cx="462.2" cy="728.8" r="7"/><circle cx="455.6" cy="785.0" r="7"/><circle cx="918.2" cy="528.8" r="7"/><circle cx="730.0" cy="1031.2" r="7"/></g><g fill="#f8c4ad"><circle cx="592.1" cy="827.2" r="7"/><circle cx="901.9" cy="388.3" r="7"/><circle cx="583.7" cy="765.4" r="7"/><circle cx="868.4" cy="354.1" r="7"/><circle cx="457.5" cy="740.0" r="7"/><circle cx="455.6" cy="736.2" r="7"/><circle cx="425.6" cy="758.8" r="7"/><circle cx="434.1" cy="756.9" r="7"/><circle cx="870.0" cy="796.2" r="7"/><circle cx="740.0" cy="1042.5" r="7"/><circle cx="752.5" cy="1042.5" r="7"/></g><g fill="#f6bea6"><circle cx="631.4" cy="805.4" r="7"/><circle cx="610.4" cy="1040.7" r="7"/><circle cx="738.2" cy="1030.2" r="7"/><circle cx="862.4" cy="279.6" r="7"/><circle cx="414.5" cy="552.5" r="7"/><circle cx="460.3" cy="732.5" r="7"/><circle cx="465.0" cy="738.1" r="7"/><circle cx="463.1" cy="743.8" r="7"/><circle cx="746.2" cy="1038.8" r="7"/><circle cx="560.0" cy="812.5" r="7"/></g><g fill="#f3b6a0"><circle cx="414.4" cy="789.7" r="7"/><circle cx="698.4" cy="690.0" r="7"/><circle cx="845.0" cy="847.5" r="7"/><circle cx="878.8" cy="897.5" r="7"/><circle cx="907.5" cy="858.8" r="7"/><circle cx="922.5" cy="857.5" r="7"/></g><g fill="#f0af9b"><circle cx="571.7" cy="748.5" r="7"/><circle cx="443.4" cy="743.8" r="7"/><circle cx="835.6" cy="474.4" r="7"/><circle cx="559.4" cy="810.6" r="7"/></g><g fill="#e9a18f"><circle cx="835.0" cy="473.8" r="7"/><circle cx="447.2" cy="748.4" r="7"/><circle cx="410.6" cy="774.7" r="7"/><circle cx="590.5" cy="651.2" r="7"/><circle cx="917.5" cy="507.5" r="7"/><circle cx="857.5" cy="826.2" r="7"/></g><g fill="#e69a8a"><circle cx="579.8" cy="772.4" r="7"/><circle cx="917.0" cy="508.2" r="7"/><circle cx="926.2" cy="850.0" r="7"/></g><g fill="#e39284"><circle cx="898.8" cy="870.0" r="7"/></g><g fill="#dc837c"><circle cx="587.5" cy="653.8" r="7"/><circle cx="930.0" cy="868.8" r="7"/></g><g fill="#d87c79"><circle cx="758.8" cy="1036.2" r="7"/><circle cx="827.5" cy="841.2" r="7"/></g><g fill="#d16c72"><circle cx="583.0" cy="655.0" r="7"/></g><g fill="#cd656e"><circle cx="577.5" cy="656.2" r="7"/><circle cx="580.0" cy="658.0" r="7"/><circle cx="576.2" cy="661.2" r="7"/><circle cx="603.2" cy="685.5" r="7"/><circle cx="761.2" cy="1024.5" r="7"/><circle cx="598.2" cy="1009.2" r="7"/><circle cx="914.5" cy="863.8" r="7"/><circle cx="921.2" cy="869.5" r="7"/></g></g>
<g id="lab" font-family="Liberation Sans, Arial, sans-serif" font-size="15" font-weight="bold" text-anchor="middle"><circle cx="371.2" cy="344.2" r="10.8" fill="#fff" fill-opacity=".88" stroke="#000" stroke-width="1"/><text x="371.2" y="349.6">1</text><circle cx="501.2" cy="736.6" r="10.8" fill="#fff" fill-opacity=".88" stroke="#000" stroke-width="1"/><text x="501.2" y="742.0">2</text><circle cx="890" cy="883.2" r="10.8" fill="#fff" fill-opacity=".88" stroke="#000" stroke-width="1"/><text x="890" y="888.6">3</text><circle cx="614.6" cy="487.2" r="10.8" fill="#fff" fill-opacity=".88" stroke="#000" stroke-width="1"/><text x="614.6" y="492.6">4</text><circle cx="575" cy="993.7" r="10.8" fill="#fff" fill-opacity=".88" stroke="#000" stroke-width="1"/><text x="575" y="999.1">5</text><circle cx="678" cy="265.5" r="10.8" fill="#fff" fill-opacity=".88" stroke="#000" stroke-width="1"/><text x="678" y="270.9">6</text><circle cx="979.2" cy="444.2" r="10.8" fill="#fff" fill-opacity=".88" stroke="#000" stroke-width="1"/><text x="979.2" y="449.6">7</text><circle cx="818.8" cy="623.4" r="10.8" fill="#fff" fill-opacity=".88" stroke="#000" stroke-width="1"/><text x="818.8" y="628.8">8</text><circle cx="1012.5" cy="310.5" r="10.8" fill="#fff" fill-opacity=".88" stroke="#000" stroke-width="1"/><text x="1012.5" y="315.9">9</text><circle cx="760.9" cy="514.4" r="10.8" fill="#fff" fill-opacity=".88" stroke="#000" stroke-width="1"/><text x="760.9" y="519.8">10</text></g>
<g id="leg" font-family="Liberation Sans, Arial, sans-serif" font-size="10" text-anchor="middle"><rect x="850.5" y="1134" width="300" height="14.7" fill="url(#lg)"/><line x1="850.5" x2="850.5" y1="1134" y2="1149" stroke="#000" stroke-width="1" shape-rendering="crispEdges"/><line x1="882.5" x2="882.5" y1="1134" y2="1149" stroke="#000" stroke-width="1" shape-rendering="crispEdges"/><line x1="913.5" x2="913.5" y1="1134" y2="1149" stroke="#000" stroke-width="1" shape-rendering="crispEdges"/><line x1="950.5" x2="950.5" y1="1134" y2="1149" stroke="#000" stroke-width="1" shape-rendering="crispEdges"/><line x1="982.5" x2="982.5" y1="1134" y2="1149" stroke="#000" stroke-width="1" shape-rendering="crispEdges"/><line x1="1013.5" x2="1013.5" y1="1134" y2="1149" stroke="#000" stroke-width="1" shape-rendering="crispEdges"/><line x1="1050.5" x2="1050.5" y1="1134" y2="1149" stroke="#000" stroke-width="1" shape-rendering="crispEdges"/><line x1="1082.5" x2="1082.5" y1="1134" y2="1149" stroke="#000" stroke-width="1" shape-rendering="crispEdges"/><line x1="1118.5" x2="1118.5" y1="1134" y2="1149" stroke="#000" stroke-width="1" shape-rendering="crispEdges"/><line x1="1150.5" x2="1150.5" y1="1134" y2="1149" stroke="#000" stroke-width="1" shape-rendering="crispEdges"/><text x="850.5" y="1163">0.0</text><text x="882.1" y="1163">0.6</text><text x="913.7" y="1163">1.2</text><text x="950.5" y="1163">1.9</text><text x="982.1" y="1163">2.5</text><text x="1013.7" y="1163">3.1</text><text x="1050.5" y="1163">3.8</text><text x="1082.1" y="1163">4.4</text><text x="1118.9" y="1163">5.1</text><text x="1150.5" y="1163">5.7</text>
<text x="1030.6" y="1127" font-size="13">Variance, Z-scaled</text></g>
</svg></body></html>
